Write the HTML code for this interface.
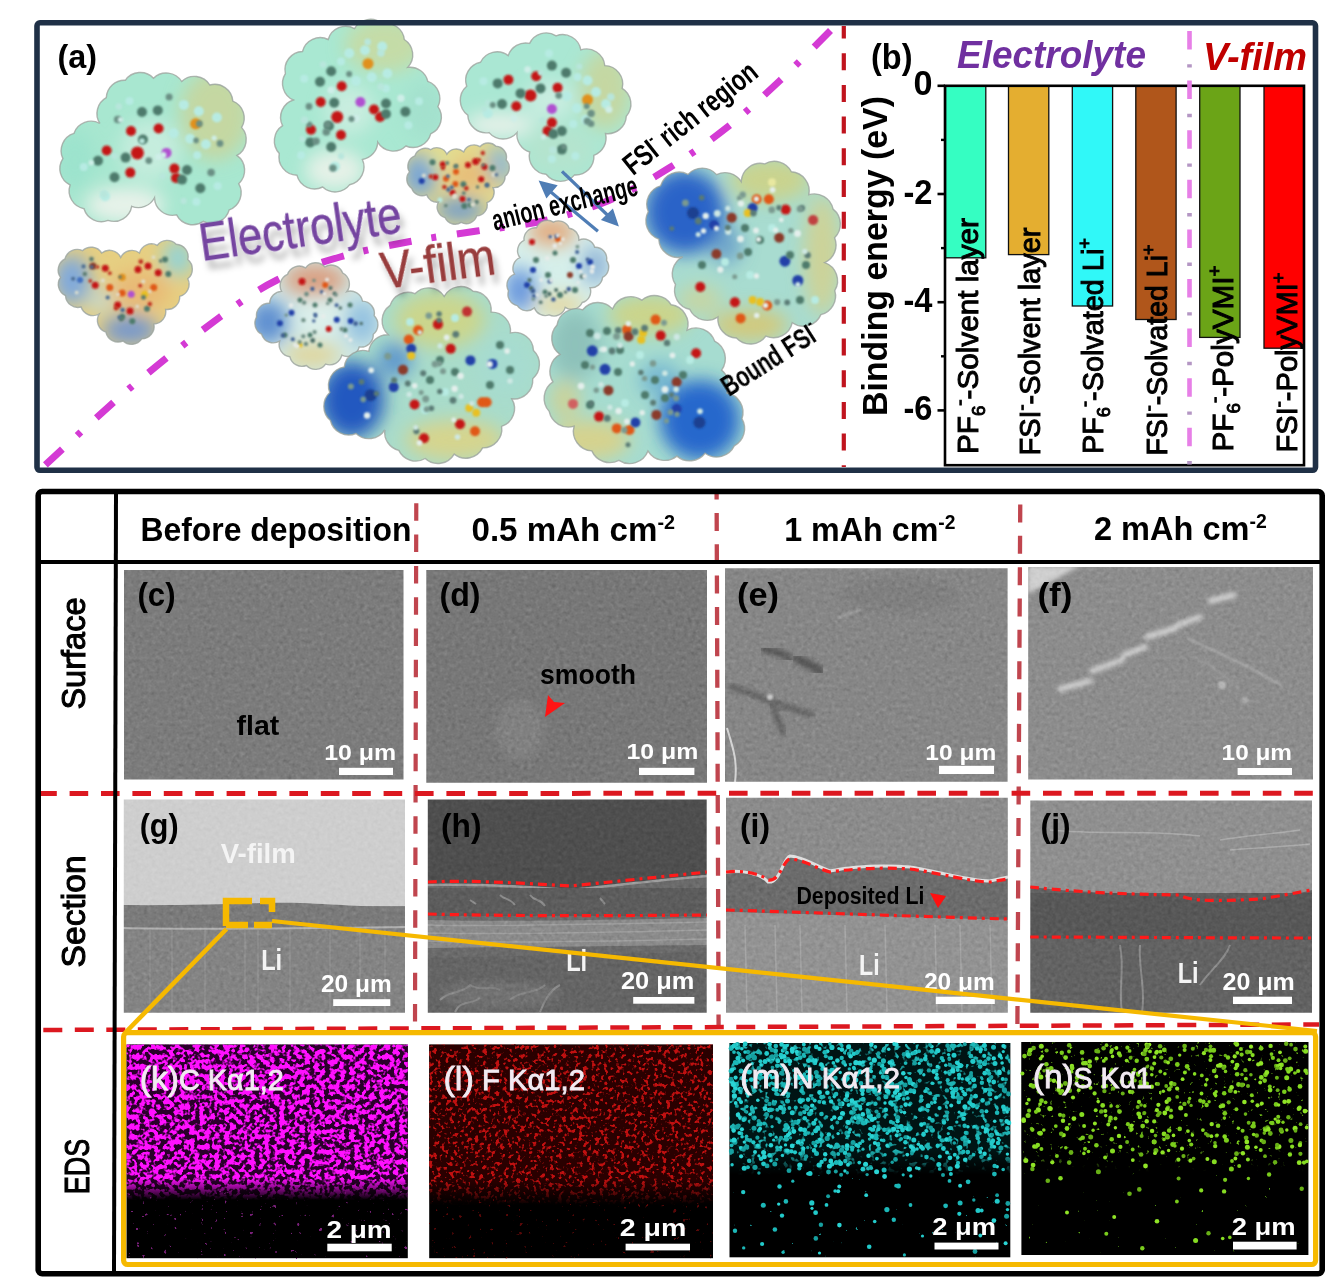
<!DOCTYPE html>
<html><head><meta charset="utf-8"><title>Figure</title>
<style>html,body{margin:0;padding:0;background:#fff;} body{width:1334px;height:1286px;overflow:hidden;} svg{display:block;}</style>
</head><body>
<svg width="1334" height="1286" viewBox="0 0 1334 1286">
<defs>
<filter id="bb" x="-50%" y="-50%" width="200%" height="200%"><feGaussianBlur stdDeviation="9"/></filter>
<filter id="bs" x="-50%" y="-50%" width="200%" height="200%"><feGaussianBlur stdDeviation="1.2"/></filter>
<radialGradient id="atomg" cx="0.38" cy="0.35" r="0.7"><stop offset="0" stop-color="#fff" stop-opacity="0.55"/><stop offset="0.45" stop-color="#fff" stop-opacity="0"/><stop offset="1" stop-color="#000" stop-opacity="0.25"/></radialGradient>
<radialGradient id="rim" cx="0.5" cy="0.5" r="0.5"><stop offset="0.7" stop-color="#fff" stop-opacity="0"/><stop offset="1" stop-color="#fff" stop-opacity="0.35"/></radialGradient>
<clipPath id="bcA"><path d="M106.3,97.7 A18.2,18.2 0 0 1 125.3,80.3 A18.2,18.2 0 0 1 153.5,78.2 A18.2,18.2 0 0 1 181.7,81.5 A18.2,18.2 0 0 1 209.8,85.0 A18.2,18.2 0 0 1 232.8,101.1 A18.2,18.2 0 0 1 241.6,127.4 A18.2,18.2 0 0 1 236.9,155.4 A18.2,18.2 0 0 1 238.7,183.7 A18.2,18.2 0 0 1 229.2,209.9 A18.2,18.2 0 0 1 203.4,221.3 A18.2,18.2 0 0 1 176.6,214.9 A18.2,18.2 0 0 1 154.5,197.7 A18.2,18.2 0 0 1 131.7,206.3 A18.2,18.2 0 0 1 108.0,220.4 A18.2,18.2 0 0 1 84.0,208.7 A18.2,18.2 0 0 1 70.1,185.0 A18.2,18.2 0 0 1 62.9,158.6 A18.2,18.2 0 0 1 73.9,133.4 A18.2,18.2 0 0 1 99.9,123.5 A18.2,18.2 0 0 1 106.3,97.7Z"/></clipPath>
<clipPath id="bcB"><path d="M328.2,39.5 A18.2,18.2 0 0 1 354.5,28.6 A18.2,18.2 0 0 1 382.3,23.8 A18.2,18.2 0 0 1 404.3,39.5 A18.2,18.2 0 0 1 407.7,67.4 A18.2,18.2 0 0 1 427.8,81.4 A18.2,18.2 0 0 1 437.9,106.7 A18.2,18.2 0 0 1 430.7,133.9 A18.2,18.2 0 0 1 405.9,146.0 A18.2,18.2 0 0 1 377.7,142.2 A18.2,18.2 0 0 1 362.4,159.5 A18.2,18.2 0 0 1 349.7,184.7 A18.2,18.2 0 0 1 322.7,187.0 A18.2,18.2 0 0 1 296.9,175.2 A18.2,18.2 0 0 1 279.3,153.4 A18.2,18.2 0 0 1 282.6,125.7 A18.2,18.2 0 0 1 293.3,100.0 A18.2,18.2 0 0 1 285.4,73.6 A18.2,18.2 0 0 1 302.5,51.5 A18.2,18.2 0 0 1 328.2,39.5Z"/></clipPath>
<clipPath id="bcC"><path d="M529.6,43.4 A18.4,18.4 0 0 1 556.1,35.8 A18.4,18.4 0 0 1 580.8,49.9 A18.4,18.4 0 0 1 604.8,65.6 A18.4,18.4 0 0 1 622.2,88.4 A18.4,18.4 0 0 1 626.3,116.2 A18.4,18.4 0 0 1 605.5,133.5 A18.4,18.4 0 0 1 593.9,155.3 A18.4,18.4 0 0 1 574.6,174.9 A18.4,18.4 0 0 1 546.1,174.3 A18.4,18.4 0 0 1 529.7,152.0 A18.4,18.4 0 0 1 517.0,132.6 A18.4,18.4 0 0 1 489.1,132.6 A18.4,18.4 0 0 1 467.8,115.1 A18.4,18.4 0 0 1 466.7,86.3 A18.4,18.4 0 0 1 480.5,62.2 A18.4,18.4 0 0 1 508.2,55.6 A18.4,18.4 0 0 1 529.6,43.4Z"/></clipPath>
<clipPath id="bcD"><path d="M414.8,155.9 A11.0,11.0 0 0 1 430.5,149.7 A11.0,11.0 0 0 1 446.9,154.2 A11.0,11.0 0 0 1 463.7,151.9 A11.0,11.0 0 0 1 480.0,146.7 A11.0,11.0 0 0 1 496.0,146.3 A11.0,11.0 0 0 1 506.2,160.0 A11.0,11.0 0 0 1 505.1,176.3 A11.0,11.0 0 0 1 493.1,187.6 A11.0,11.0 0 0 1 487.0,202.6 A11.0,11.0 0 0 1 476.8,215.9 A11.0,11.0 0 0 1 461.2,222.4 A11.0,11.0 0 0 1 445.1,217.7 A11.0,11.0 0 0 1 438.3,202.2 A11.0,11.0 0 0 1 426.6,194.8 A11.0,11.0 0 0 1 411.7,188.3 A11.0,11.0 0 0 1 409.5,171.9 A11.0,11.0 0 0 1 414.8,155.9Z"/></clipPath>
<clipPath id="bcE"><path d="M65.0,258.9 A12.5,12.5 0 0 1 82.5,250.7 A12.5,12.5 0 0 1 101.7,253.0 A12.5,12.5 0 0 1 120.7,257.4 A12.5,12.5 0 0 1 139.5,253.0 A12.5,12.5 0 0 1 157.3,245.3 A12.5,12.5 0 0 1 176.2,244.2 A12.5,12.5 0 0 1 187.8,259.5 A12.5,12.5 0 0 1 187.8,278.8 A12.5,12.5 0 0 1 179.7,296.4 A12.5,12.5 0 0 1 165.6,309.4 A12.5,12.5 0 0 1 153.9,324.1 A12.5,12.5 0 0 1 141.8,338.9 A12.5,12.5 0 0 1 123.0,341.0 A12.5,12.5 0 0 1 105.9,332.1 A12.5,12.5 0 0 1 99.1,314.0 A12.5,12.5 0 0 1 81.1,307.0 A12.5,12.5 0 0 1 65.5,295.7 A12.5,12.5 0 0 1 60.5,277.3 A12.5,12.5 0 0 1 65.0,258.9Z"/></clipPath>
<clipPath id="bcH"><path d="M536.5,227.8 A11.5,11.5 0 0 1 553.4,222.1 A11.5,11.5 0 0 1 569.2,228.2 A11.5,11.5 0 0 1 579.0,240.1 A11.5,11.5 0 0 1 594.7,247.3 A11.5,11.5 0 0 1 606.6,260.5 A11.5,11.5 0 0 1 602.6,277.3 A11.5,11.5 0 0 1 590.1,287.7 A11.5,11.5 0 0 1 582.2,302.5 A11.5,11.5 0 0 1 565.2,307.4 A11.5,11.5 0 0 1 549.1,314.9 A11.5,11.5 0 0 1 534.4,307.9 A11.5,11.5 0 0 1 517.3,305.6 A11.5,11.5 0 0 1 508.5,290.8 A11.5,11.5 0 0 1 514.5,274.2 A11.5,11.5 0 0 1 520.0,257.7 A11.5,11.5 0 0 1 524.0,240.3 A11.5,11.5 0 0 1 536.5,227.8Z"/></clipPath>
<clipPath id="bcF"><path d="M287.5,274.4 A12.4,12.4 0 0 1 305.6,267.9 A12.4,12.4 0 0 1 324.8,266.8 A12.4,12.4 0 0 1 342.7,273.0 A12.4,12.4 0 0 1 346.8,291.6 A12.4,12.4 0 0 1 362.5,301.1 A12.4,12.4 0 0 1 374.2,315.8 A12.4,12.4 0 0 1 373.3,334.3 A12.4,12.4 0 0 1 359.2,347.0 A12.4,12.4 0 0 1 341.8,355.2 A12.4,12.4 0 0 1 325.6,364.1 A12.4,12.4 0 0 1 306.4,365.5 A12.4,12.4 0 0 1 289.9,356.8 A12.4,12.4 0 0 1 279.6,341.2 A12.4,12.4 0 0 1 261.6,334.2 A12.4,12.4 0 0 1 256.5,317.1 A12.4,12.4 0 0 1 269.6,303.3 A12.4,12.4 0 0 1 281.5,291.4 A12.4,12.4 0 0 1 287.5,274.4Z"/></clipPath>
<clipPath id="bcI"><path d="M688.0,174.4 A19.2,19.2 0 0 1 716.6,174.6 A19.2,19.2 0 0 1 741.2,181.5 A19.2,19.2 0 0 1 764.8,163.9 A19.2,19.2 0 0 1 791.4,171.8 A19.2,19.2 0 0 1 808.8,194.7 A19.2,19.2 0 0 1 833.1,209.1 A19.2,19.2 0 0 1 834.6,237.8 A19.2,19.2 0 0 1 824.7,262.6 A19.2,19.2 0 0 1 834.8,290.6 A19.2,19.2 0 0 1 820.9,314.6 A19.2,19.2 0 0 1 792.3,322.7 A19.2,19.2 0 0 1 765.9,336.1 A19.2,19.2 0 0 1 736.4,338.0 A19.2,19.2 0 0 1 717.9,317.0 A19.2,19.2 0 0 1 689.7,309.3 A19.2,19.2 0 0 1 675.5,284.5 A19.2,19.2 0 0 1 682.7,256.8 A19.2,19.2 0 0 1 658.8,239.1 A19.2,19.2 0 0 1 648.3,211.7 A19.2,19.2 0 0 1 660.6,185.8 A19.2,19.2 0 0 1 688.0,174.4Z"/></clipPath>
<clipPath id="bcJ"><path d="M557.0,325.1 A19.6,19.6 0 0 1 582.7,309.8 A19.6,19.6 0 0 1 612.5,308.9 A19.6,19.6 0 0 1 641.8,300.2 A19.6,19.6 0 0 1 671.2,304.8 A19.6,19.6 0 0 1 687.1,330.1 A19.6,19.6 0 0 1 714.6,341.1 A19.6,19.6 0 0 1 721.6,370.1 A19.6,19.6 0 0 1 726.9,393.0 A19.6,19.6 0 0 1 741.9,418.7 A19.6,19.6 0 0 1 734.4,445.8 A19.6,19.6 0 0 1 705.1,453.2 A19.6,19.6 0 0 1 676.9,456.1 A19.6,19.6 0 0 1 648.0,451.1 A19.6,19.6 0 0 1 618.9,460.3 A19.6,19.6 0 0 1 591.8,450.9 A19.6,19.6 0 0 1 574.1,426.2 A19.6,19.6 0 0 1 549.2,411.4 A19.6,19.6 0 0 1 552.9,381.9 A19.6,19.6 0 0 1 560.0,354.4 A19.6,19.6 0 0 1 557.0,325.1Z"/></clipPath>
<clipPath id="bcG"><path d="M390.1,305.4 A18.8,18.8 0 0 1 414.9,293.7 A18.8,18.8 0 0 1 444.2,296.3 A18.8,18.8 0 0 1 473.1,291.3 A18.8,18.8 0 0 1 491.1,312.1 A18.8,18.8 0 0 1 510.4,332.9 A18.8,18.8 0 0 1 533.5,350.6 A18.8,18.8 0 0 1 532.7,378.7 A18.8,18.8 0 0 1 511.8,398.8 A18.8,18.8 0 0 1 501.6,426.4 A18.8,18.8 0 0 1 482.6,447.9 A18.8,18.8 0 0 1 454.2,454.1 A18.8,18.8 0 0 1 425.2,458.5 A18.8,18.8 0 0 1 398.8,450.4 A18.8,18.8 0 0 1 384.8,429.8 A18.8,18.8 0 0 1 356.0,433.5 A18.8,18.8 0 0 1 330.4,420.5 A18.8,18.8 0 0 1 329.8,392.5 A18.8,18.8 0 0 1 344.3,367.0 A18.8,18.8 0 0 1 368.8,351.4 A18.8,18.8 0 0 1 388.3,334.7 A18.8,18.8 0 0 1 390.1,305.4Z"/></clipPath>
<filter id="tsh" x="-20%" y="-50%" width="140%" height="200%"><feGaussianBlur in="SourceAlpha" stdDeviation="3"/><feOffset dx="3" dy="9" result="o"/><feFlood flood-color="#000" flood-opacity="0.28"/><feComposite in2="o" operator="in"/><feMerge><feMergeNode/><feMergeNode in="SourceGraphic"/></feMerge></filter>
<filter id="gnoise" x="0" y="0" width="100%" height="100%" color-interpolation-filters="sRGB"><feTurbulence type="fractalNoise" baseFrequency="0.25" numOctaves="3" seed="4"/><feColorMatrix type="matrix" values="0.6 0.6 0.6 0 -0.4  0.6 0.6 0.6 0 -0.4  0.6 0.6 0.6 0 -0.4  0 0 0 0 1"/></filter>
<filter id="blur2"><feGaussianBlur stdDeviation="2"/></filter>
<filter id="blur1"><feGaussianBlur stdDeviation="1"/></filter>
<filter id="blur4"><feGaussianBlur stdDeviation="4"/></filter>
<filter id="blur3"><feGaussianBlur stdDeviation="2.8"/></filter>
<clipPath id="cc"><rect x="124" y="570" width="279.5" height="209.5"/></clipPath>
<clipPath id="cd"><rect x="426.3" y="570" width="280.7" height="212.7"/></clipPath>
<clipPath id="ce"><rect x="725" y="568.2" width="282.6" height="213.6"/></clipPath>
<clipPath id="cf"><rect x="1028.2" y="566.9" width="284.8" height="212.6"/></clipPath>
<clipPath id="cg"><rect x="123.8" y="799.5" width="281.2" height="213.2"/></clipPath>
<clipPath id="ch"><rect x="427.8" y="799.5" width="278.9" height="213.2"/></clipPath>
<clipPath id="ci"><rect x="726" y="797.7" width="281.8" height="215.0"/></clipPath>
<clipPath id="cj"><rect x="1030.3" y="800.5" width="281.7" height="212.2"/></clipPath>
<filter id="spk" x="0" y="0" width="100%" height="100%" color-interpolation-filters="sRGB"><feTurbulence type="fractalNoise" baseFrequency="0.2" numOctaves="2" seed="11" result="t"/><feColorMatrix in="t" type="matrix" values="0 0 0 0 0  0 0 0 0 0  0 0 0 0 0  8 0 0 0 -3.5" result="a"/><feFlood flood-color="#ff10ff" result="f"/><feComposite in="f" in2="a" operator="in"/><feGaussianBlur stdDeviation="0.6"/></filter>
<filter id="ssk" x="0" y="0" width="100%" height="100%" color-interpolation-filters="sRGB"><feTurbulence type="fractalNoise" baseFrequency="0.22" numOctaves="2" seed="31" result="t"/><feColorMatrix in="t" type="matrix" values="0 0 0 0 0  0 0 0 0 0  0 0 0 0 0  16 0 0 0 -11.6" result="a"/><feFlood flood-color="#782078" result="f"/><feComposite in="f" in2="a" operator="in"/></filter>
<linearGradient id="fadek" gradientUnits="userSpaceOnUse" x1="0" y1="1044.5" x2="0" y2="1258.2"><stop offset="0" stop-color="#fff"/><stop offset="0.625" stop-color="#fff"/><stop offset="0.728" stop-color="#000"/><stop offset="1" stop-color="#000"/></linearGradient>
<mask id="mkk"><rect x="126.5" y="1044.5" width="281.3" height="213.7" fill="url(#fadek)"/></mask>
<filter id="spl" x="0" y="0" width="100%" height="100%" color-interpolation-filters="sRGB"><feTurbulence type="fractalNoise" baseFrequency="0.24" numOctaves="2" seed="12" result="t"/><feColorMatrix in="t" type="matrix" values="0 0 0 0 0  0 0 0 0 0  0 0 0 0 0  8 0 0 0 -4.35" result="a"/><feFlood flood-color="#c01010" result="f"/><feComposite in="f" in2="a" operator="in"/><feGaussianBlur stdDeviation="0.6"/></filter>
<filter id="ssl" x="0" y="0" width="100%" height="100%" color-interpolation-filters="sRGB"><feTurbulence type="fractalNoise" baseFrequency="0.22" numOctaves="2" seed="32" result="t"/><feColorMatrix in="t" type="matrix" values="0 0 0 0 0  0 0 0 0 0  0 0 0 0 0  16 0 0 0 -11.6" result="a"/><feFlood flood-color="#580808" result="f"/><feComposite in="f" in2="a" operator="in"/></filter>
<linearGradient id="fadel" gradientUnits="userSpaceOnUse" x1="0" y1="1044.5" x2="0" y2="1258.2"><stop offset="0" stop-color="#fff"/><stop offset="0.634" stop-color="#fff"/><stop offset="0.751" stop-color="#000"/><stop offset="1" stop-color="#000"/></linearGradient>
<mask id="mkl"><rect x="429.2" y="1044.5" width="283.8" height="213.7" fill="url(#fadel)"/></mask>
<filter id="spm" x="0" y="0" width="100%" height="100%" color-interpolation-filters="sRGB"><feTurbulence type="fractalNoise" baseFrequency="0.16" numOctaves="2" seed="13" result="t"/><feColorMatrix in="t" type="matrix" values="0 0 0 0 0  0 0 0 0 0  0 0 0 0 0  8 0 0 0 -4.6" result="a"/><feFlood flood-color="#1fb4b4" result="f"/><feComposite in="f" in2="a" operator="in"/><feGaussianBlur stdDeviation="0.6"/></filter>
<filter id="ssm" x="0" y="0" width="100%" height="100%" color-interpolation-filters="sRGB"><feTurbulence type="fractalNoise" baseFrequency="0.22" numOctaves="2" seed="33" result="t"/><feColorMatrix in="t" type="matrix" values="0 0 0 0 0  0 0 0 0 0  0 0 0 0 0  16 0 0 0 -13.0" result="a"/><feFlood flood-color="#1ca8a8" result="f"/><feComposite in="f" in2="a" operator="in"/></filter>
<linearGradient id="fadem" gradientUnits="userSpaceOnUse" x1="0" y1="1043.0" x2="0" y2="1257.3"><stop offset="0" stop-color="#fff"/><stop offset="0.499" stop-color="#fff"/><stop offset="0.616" stop-color="#000"/><stop offset="1" stop-color="#000"/></linearGradient>
<mask id="mkm"><rect x="729.5" y="1043.0" width="280.8" height="214.3" fill="url(#fadem)"/></mask>
<filter id="spn" x="0" y="0" width="100%" height="100%" color-interpolation-filters="sRGB"><feTurbulence type="fractalNoise" baseFrequency="0.22" numOctaves="2" seed="14" result="t"/><feColorMatrix in="t" type="matrix" values="0 0 0 0 0  0 0 0 0 0  0 0 0 0 0  8 0 0 0 -5.6" result="a"/><feFlood flood-color="#78c81c" result="f"/><feComposite in="f" in2="a" operator="in"/><feGaussianBlur stdDeviation="0.6"/></filter>
<filter id="ssn" x="0" y="0" width="100%" height="100%" color-interpolation-filters="sRGB"><feTurbulence type="fractalNoise" baseFrequency="0.22" numOctaves="2" seed="34" result="t"/><feColorMatrix in="t" type="matrix" values="0 0 0 0 0  0 0 0 0 0  0 0 0 0 0  16 0 0 0 -13.0" result="a"/><feFlood flood-color="#60b018" result="f"/><feComposite in="f" in2="a" operator="in"/></filter>
<linearGradient id="faden" gradientUnits="userSpaceOnUse" x1="0" y1="1042.0" x2="0" y2="1255.0"><stop offset="0" stop-color="#fff"/><stop offset="0.484" stop-color="#fff"/><stop offset="0.610" stop-color="#000"/><stop offset="1" stop-color="#000"/></linearGradient>
<mask id="mkn"><rect x="1021.4" y="1042.0" width="287.0" height="213.0" fill="url(#faden)"/></mask>
<filter id="blur05"><feGaussianBlur stdDeviation="0.6"/></filter>
</defs>
<rect width="1334" height="1286" fill="#fff"/>
<path d="M42.0,468.0 C56.7,454.7 100.3,413.2 130.0,388.0 C159.7,362.8 195.5,335.0 220.0,317.0 C244.5,299.0 257.0,290.0 277.0,280.0 C297.0,270.0 317.8,263.4 340.0,257.0 C362.2,250.6 387.2,245.8 410.0,241.5 C432.8,237.2 454.5,234.5 477.0,231.0 C499.5,227.5 522.8,225.7 545.0,220.5 C567.2,215.3 589.0,208.9 610.0,200.0 C631.0,191.1 651.4,179.0 671.0,166.8 C690.6,154.6 709.3,141.4 727.5,127.0 C745.7,112.6 762.6,96.8 780.0,80.5 C797.4,64.2 823.3,37.6 832.0,29.0" fill="none" stroke="#d43ad4" stroke-width="7" stroke-dasharray="23 20 5 21" stroke-dashoffset="64"/>
<g clip-path="url(#bcA)"><path d="M106.3,97.7 A18.2,18.2 0 0 1 125.3,80.3 A18.2,18.2 0 0 1 153.5,78.2 A18.2,18.2 0 0 1 181.7,81.5 A18.2,18.2 0 0 1 209.8,85.0 A18.2,18.2 0 0 1 232.8,101.1 A18.2,18.2 0 0 1 241.6,127.4 A18.2,18.2 0 0 1 236.9,155.4 A18.2,18.2 0 0 1 238.7,183.7 A18.2,18.2 0 0 1 229.2,209.9 A18.2,18.2 0 0 1 203.4,221.3 A18.2,18.2 0 0 1 176.6,214.9 A18.2,18.2 0 0 1 154.5,197.7 A18.2,18.2 0 0 1 131.7,206.3 A18.2,18.2 0 0 1 108.0,220.4 A18.2,18.2 0 0 1 84.0,208.7 A18.2,18.2 0 0 1 70.1,185.0 A18.2,18.2 0 0 1 62.9,158.6 A18.2,18.2 0 0 1 73.9,133.4 A18.2,18.2 0 0 1 99.9,123.5 A18.2,18.2 0 0 1 106.3,97.7Z" fill="#a8e7d0"/><g filter="url(#bb)"><ellipse cx="215" cy="115" rx="35" ry="45" fill="#c8d59c" opacity="0.9"/><ellipse cx="125" cy="205" rx="40" ry="18" fill="#eef3ec" opacity="0.9"/><ellipse cx="150" cy="150" rx="30" ry="30" fill="#d2efe2" opacity="0.7"/><ellipse cx="75" cy="160" rx="18" ry="30" fill="#98e2cc" opacity="0.8"/></g><circle cx="131" cy="131" r="5" fill="#c41414" filter="url(#bs)"/><circle cx="158.6" cy="128.5" r="5" fill="#c41414" filter="url(#bs)"/><circle cx="106.7" cy="150.5" r="5" fill="#c41414" filter="url(#bs)"/><circle cx="137.4" cy="152.9" r="6.5" fill="#c41414" filter="url(#bs)"/><circle cx="130.3" cy="172.6" r="5" fill="#c41414" filter="url(#bs)"/><circle cx="174.4" cy="168.6" r="5" fill="#c41414" filter="url(#bs)"/><circle cx="176" cy="178" r="5" fill="#c41414" filter="url(#bs)"/><circle cx="142" cy="112" r="5" fill="#4d7a6c" filter="url(#bs)"/><circle cx="157.8" cy="110.4" r="5" fill="#4d7a6c" filter="url(#bs)"/><circle cx="142.9" cy="139.5" r="5" fill="#4d7a6c" filter="url(#bs)"/><circle cx="125.6" cy="157.6" r="5" fill="#4d7a6c" filter="url(#bs)"/><circle cx="98" cy="160.8" r="5" fill="#4d7a6c" filter="url(#bs)"/><circle cx="114.5" cy="177.3" r="5" fill="#4d7a6c" filter="url(#bs)"/><circle cx="187" cy="170" r="5" fill="#4d7a6c" filter="url(#bs)"/><circle cx="182" cy="179.6" r="5" fill="#4d7a6c" filter="url(#bs)"/><circle cx="200.3" cy="188.3" r="5" fill="#4d7a6c" filter="url(#bs)"/><circle cx="183.8" cy="104.9" r="5" fill="#b7ebe3" filter="url(#bs)"/><circle cx="198.8" cy="111.2" r="5" fill="#b7ebe3" filter="url(#bs)"/><circle cx="216.9" cy="117.5" r="5" fill="#b7ebe3" filter="url(#bs)"/><circle cx="173.6" cy="133.2" r="5" fill="#b7ebe3" filter="url(#bs)"/><circle cx="190.1" cy="138.7" r="5" fill="#b7ebe3" filter="url(#bs)"/><circle cx="205.9" cy="144.2" r="5" fill="#b7ebe3" filter="url(#bs)"/><circle cx="197.2" cy="155.2" r="4" fill="#b7ebe3" filter="url(#bs)"/><circle cx="105.1" cy="196.2" r="5" fill="#b7ebe3" filter="url(#bs)"/><circle cx="217.7" cy="186" r="4" fill="#b7ebe3" filter="url(#bs)"/><circle cx="83.8" cy="167" r="4" fill="#b7ebe3" filter="url(#bs)"/><circle cx="129.5" cy="101" r="4" fill="#b7ebe3" filter="url(#bs)"/><circle cx="196.4" cy="201.7" r="4" fill="#b7ebe3" filter="url(#bs)"/><circle cx="195.6" cy="123.8" r="5.5" fill="#e0901c" filter="url(#bs)"/><circle cx="166.5" cy="152.9" r="5" fill="#b050d0" filter="url(#bs)"/><circle cx="114.6" cy="156.2" r="3.1" fill="#b8e6dc" filter="url(#bs)"/><circle cx="148.8" cy="160.6" r="3.4" fill="#6a8f84" filter="url(#bs)"/><circle cx="117.7" cy="119.5" r="3.8" fill="#6a8f84" filter="url(#bs)"/><circle cx="158.5" cy="156.9" r="3.1" fill="#cfeee8" filter="url(#bs)"/><circle cx="214.2" cy="138.0" r="2.6" fill="#cfeee8" filter="url(#bs)"/><circle cx="199.4" cy="123.7" r="3.4" fill="#6a8f84" filter="url(#bs)"/><circle cx="183.6" cy="200.9" r="3.1" fill="#b8e6dc" filter="url(#bs)"/><circle cx="220.0" cy="143.4" r="3.4" fill="#6a8f84" filter="url(#bs)"/><circle cx="163.3" cy="155.0" r="3.1" fill="#cfeee8" filter="url(#bs)"/><circle cx="211.1" cy="172.5" r="3.8" fill="#6a8f84" filter="url(#bs)"/><circle cx="103.8" cy="193.7" r="3.8" fill="#b8e6dc" filter="url(#bs)"/><circle cx="162.6" cy="176.3" r="2.9" fill="#b8e6dc" filter="url(#bs)"/><circle cx="118.8" cy="106.5" r="3.2" fill="#b8e6dc" filter="url(#bs)"/><circle cx="196.1" cy="140.4" r="2.8" fill="#6a8f84" filter="url(#bs)"/><circle cx="142.0" cy="141.0" r="2.8" fill="#b8e6dc" filter="url(#bs)"/><circle cx="169.1" cy="97.1" r="3.5" fill="#6a8f84" filter="url(#bs)"/><circle cx="120.6" cy="119.7" r="2.7" fill="#cfeee8" filter="url(#bs)"/><circle cx="91.3" cy="162.8" r="2.7" fill="#cfeee8" filter="url(#bs)"/></g>
<path d="M106.3,97.7 A18.2,18.2 0 0 1 125.3,80.3 A18.2,18.2 0 0 1 153.5,78.2 A18.2,18.2 0 0 1 181.7,81.5 A18.2,18.2 0 0 1 209.8,85.0 A18.2,18.2 0 0 1 232.8,101.1 A18.2,18.2 0 0 1 241.6,127.4 A18.2,18.2 0 0 1 236.9,155.4 A18.2,18.2 0 0 1 238.7,183.7 A18.2,18.2 0 0 1 229.2,209.9 A18.2,18.2 0 0 1 203.4,221.3 A18.2,18.2 0 0 1 176.6,214.9 A18.2,18.2 0 0 1 154.5,197.7 A18.2,18.2 0 0 1 131.7,206.3 A18.2,18.2 0 0 1 108.0,220.4 A18.2,18.2 0 0 1 84.0,208.7 A18.2,18.2 0 0 1 70.1,185.0 A18.2,18.2 0 0 1 62.9,158.6 A18.2,18.2 0 0 1 73.9,133.4 A18.2,18.2 0 0 1 99.9,123.5 A18.2,18.2 0 0 1 106.3,97.7Z" fill="none" stroke="#9aa39c" stroke-width="1.4" opacity="0.8"/>
<g clip-path="url(#bcB)"><path d="M328.2,39.5 A18.2,18.2 0 0 1 354.5,28.6 A18.2,18.2 0 0 1 382.3,23.8 A18.2,18.2 0 0 1 404.3,39.5 A18.2,18.2 0 0 1 407.7,67.4 A18.2,18.2 0 0 1 427.8,81.4 A18.2,18.2 0 0 1 437.9,106.7 A18.2,18.2 0 0 1 430.7,133.9 A18.2,18.2 0 0 1 405.9,146.0 A18.2,18.2 0 0 1 377.7,142.2 A18.2,18.2 0 0 1 362.4,159.5 A18.2,18.2 0 0 1 349.7,184.7 A18.2,18.2 0 0 1 322.7,187.0 A18.2,18.2 0 0 1 296.9,175.2 A18.2,18.2 0 0 1 279.3,153.4 A18.2,18.2 0 0 1 282.6,125.7 A18.2,18.2 0 0 1 293.3,100.0 A18.2,18.2 0 0 1 285.4,73.6 A18.2,18.2 0 0 1 302.5,51.5 A18.2,18.2 0 0 1 328.2,39.5Z" fill="#a9e8d2"/><g filter="url(#bb)"><ellipse cx="385" cy="45" rx="40" ry="28" fill="#c9d9a0" opacity="0.85"/><ellipse cx="335" cy="170" rx="30" ry="20" fill="#ecf2ea" opacity="0.9"/><ellipse cx="350" cy="110" rx="25" ry="25" fill="#d6efe4" opacity="0.7"/><ellipse cx="425" cy="110" rx="20" ry="30" fill="#a3dfcc" opacity="0.8"/></g><circle cx="341.7" cy="86.2" r="5" fill="#c41414" filter="url(#bs)"/><circle cx="320.7" cy="102" r="5" fill="#c41414" filter="url(#bs)"/><circle cx="337.2" cy="117" r="6" fill="#c41414" filter="url(#bs)"/><circle cx="311" cy="129.7" r="5" fill="#c41414" filter="url(#bs)"/><circle cx="341" cy="135" r="5" fill="#c41414" filter="url(#bs)"/><circle cx="374" cy="109.5" r="5" fill="#c41414" filter="url(#bs)"/><circle cx="380" cy="117" r="5" fill="#c41414" filter="url(#bs)"/><circle cx="331.2" cy="71.2" r="5" fill="#4d7a6c" filter="url(#bs)"/><circle cx="320" cy="81.7" r="5" fill="#4d7a6c" filter="url(#bs)"/><circle cx="334.2" cy="102.7" r="5" fill="#4d7a6c" filter="url(#bs)"/><circle cx="329" cy="126" r="5" fill="#4d7a6c" filter="url(#bs)"/><circle cx="310.2" cy="142.4" r="5" fill="#4d7a6c" filter="url(#bs)"/><circle cx="331.2" cy="147" r="5" fill="#4d7a6c" filter="url(#bs)"/><circle cx="386" cy="103.5" r="5" fill="#4d7a6c" filter="url(#bs)"/><circle cx="386" cy="114" r="5" fill="#4d7a6c" filter="url(#bs)"/><circle cx="405.4" cy="111.7" r="5" fill="#4d7a6c" filter="url(#bs)"/><circle cx="349.2" cy="53.2" r="5" fill="#b7ebe3" filter="url(#bs)"/><circle cx="365" cy="50.2" r="5" fill="#b7ebe3" filter="url(#bs)"/><circle cx="382.2" cy="46.5" r="5" fill="#b7ebe3" filter="url(#bs)"/><circle cx="356" cy="81" r="5" fill="#b7ebe3" filter="url(#bs)"/><circle cx="371.7" cy="77.2" r="5" fill="#b7ebe3" filter="url(#bs)"/><circle cx="387.4" cy="73.5" r="5" fill="#b7ebe3" filter="url(#bs)"/><circle cx="386" cy="88.5" r="4" fill="#b7ebe3" filter="url(#bs)"/><circle cx="304.2" cy="78.7" r="4" fill="#b7ebe3" filter="url(#bs)"/><circle cx="419" cy="101.2" r="4" fill="#b7ebe3" filter="url(#bs)"/><circle cx="408.4" cy="125.2" r="4" fill="#b7ebe3" filter="url(#bs)"/><circle cx="335" cy="166.4" r="5" fill="#b7ebe3" filter="url(#bs)"/><circle cx="301.2" cy="155.2" r="4" fill="#b7ebe3" filter="url(#bs)"/><circle cx="341" cy="61.5" r="4" fill="#b7ebe3" filter="url(#bs)"/><circle cx="368" cy="63.7" r="5.5" fill="#e0901c" filter="url(#bs)"/><circle cx="360.4" cy="102" r="5" fill="#b050d0" filter="url(#bs)"/><circle cx="326.3" cy="132.0" r="3.8" fill="#6a8f84" filter="url(#bs)"/><circle cx="332.9" cy="168.1" r="3.7" fill="#6a8f84" filter="url(#bs)"/><circle cx="341.1" cy="156.2" r="3.1" fill="#b8e6dc" filter="url(#bs)"/><circle cx="380.9" cy="53.1" r="3.8" fill="#b8e6dc" filter="url(#bs)"/><circle cx="327.3" cy="124.5" r="3.5" fill="#6a8f84" filter="url(#bs)"/><circle cx="349.1" cy="74.0" r="3.0" fill="#6a8f84" filter="url(#bs)"/><circle cx="367.7" cy="42.0" r="3.4" fill="#b8e6dc" filter="url(#bs)"/><circle cx="309.3" cy="124.4" r="3.0" fill="#6a8f84" filter="url(#bs)"/><circle cx="380.7" cy="86.7" r="3.5" fill="#b8e6dc" filter="url(#bs)"/><circle cx="355.9" cy="118.5" r="3.8" fill="#cfeee8" filter="url(#bs)"/><circle cx="351.5" cy="118.9" r="3.0" fill="#6a8f84" filter="url(#bs)"/><circle cx="316.1" cy="141.2" r="3.7" fill="#6a8f84" filter="url(#bs)"/><circle cx="331.1" cy="90.0" r="3.6" fill="#cfeee8" filter="url(#bs)"/><circle cx="309.0" cy="106.5" r="3.4" fill="#6a8f84" filter="url(#bs)"/><circle cx="323.1" cy="64.5" r="3.2" fill="#b8e6dc" filter="url(#bs)"/><circle cx="304.5" cy="120.0" r="3.8" fill="#b8e6dc" filter="url(#bs)"/><circle cx="400.9" cy="98.2" r="3.7" fill="#cfeee8" filter="url(#bs)"/><circle cx="302.3" cy="139.0" r="2.9" fill="#b8e6dc" filter="url(#bs)"/></g>
<path d="M328.2,39.5 A18.2,18.2 0 0 1 354.5,28.6 A18.2,18.2 0 0 1 382.3,23.8 A18.2,18.2 0 0 1 404.3,39.5 A18.2,18.2 0 0 1 407.7,67.4 A18.2,18.2 0 0 1 427.8,81.4 A18.2,18.2 0 0 1 437.9,106.7 A18.2,18.2 0 0 1 430.7,133.9 A18.2,18.2 0 0 1 405.9,146.0 A18.2,18.2 0 0 1 377.7,142.2 A18.2,18.2 0 0 1 362.4,159.5 A18.2,18.2 0 0 1 349.7,184.7 A18.2,18.2 0 0 1 322.7,187.0 A18.2,18.2 0 0 1 296.9,175.2 A18.2,18.2 0 0 1 279.3,153.4 A18.2,18.2 0 0 1 282.6,125.7 A18.2,18.2 0 0 1 293.3,100.0 A18.2,18.2 0 0 1 285.4,73.6 A18.2,18.2 0 0 1 302.5,51.5 A18.2,18.2 0 0 1 328.2,39.5Z" fill="none" stroke="#9aa39c" stroke-width="1.4" opacity="0.8"/>
<g clip-path="url(#bcC)"><path d="M529.6,43.4 A18.4,18.4 0 0 1 556.1,35.8 A18.4,18.4 0 0 1 580.8,49.9 A18.4,18.4 0 0 1 604.8,65.6 A18.4,18.4 0 0 1 622.2,88.4 A18.4,18.4 0 0 1 626.3,116.2 A18.4,18.4 0 0 1 605.5,133.5 A18.4,18.4 0 0 1 593.9,155.3 A18.4,18.4 0 0 1 574.6,174.9 A18.4,18.4 0 0 1 546.1,174.3 A18.4,18.4 0 0 1 529.7,152.0 A18.4,18.4 0 0 1 517.0,132.6 A18.4,18.4 0 0 1 489.1,132.6 A18.4,18.4 0 0 1 467.8,115.1 A18.4,18.4 0 0 1 466.7,86.3 A18.4,18.4 0 0 1 480.5,62.2 A18.4,18.4 0 0 1 508.2,55.6 A18.4,18.4 0 0 1 529.6,43.4Z" fill="#aae7d3"/><g filter="url(#bb)"><ellipse cx="605" cy="90" rx="25" ry="40" fill="#c9d59a" opacity="0.85"/><ellipse cx="500" cy="125" rx="35" ry="12" fill="#eef2ec" opacity="0.9"/><ellipse cx="560" cy="150" rx="35" ry="25" fill="#b8e2cc" opacity="0.7"/><ellipse cx="550" cy="100" rx="25" ry="20" fill="#d6efe6" opacity="0.7"/></g><circle cx="508.4" cy="79.8" r="5" fill="#c41414" filter="url(#bs)"/><circle cx="536.2" cy="76.3" r="5" fill="#c41414" filter="url(#bs)"/><circle cx="557.6" cy="87.7" r="5" fill="#c41414" filter="url(#bs)"/><circle cx="530.5" cy="95.5" r="6" fill="#c41414" filter="url(#bs)"/><circle cx="516.3" cy="106.2" r="5" fill="#c41414" filter="url(#bs)"/><circle cx="551.9" cy="122.6" r="5" fill="#c41414" filter="url(#bs)"/><circle cx="547.6" cy="131.1" r="5" fill="#c41414" filter="url(#bs)"/><circle cx="497.7" cy="83.4" r="5" fill="#4d7a6c" filter="url(#bs)"/><circle cx="551.9" cy="65.6" r="5" fill="#4d7a6c" filter="url(#bs)"/><circle cx="566.1" cy="72.7" r="5" fill="#4d7a6c" filter="url(#bs)"/><circle cx="520.5" cy="93.4" r="5" fill="#4d7a6c" filter="url(#bs)"/><circle cx="540.5" cy="88.4" r="5" fill="#4d7a6c" filter="url(#bs)"/><circle cx="502" cy="104" r="5" fill="#4d7a6c" filter="url(#bs)"/><circle cx="553.3" cy="134" r="5" fill="#4d7a6c" filter="url(#bs)"/><circle cx="561.8" cy="131.1" r="5" fill="#4d7a6c" filter="url(#bs)"/><circle cx="561.8" cy="149.6" r="5" fill="#4d7a6c" filter="url(#bs)"/><circle cx="483.5" cy="81.3" r="4" fill="#b7ebe3" filter="url(#bs)"/><circle cx="487.8" cy="113.3" r="5" fill="#b7ebe3" filter="url(#bs)"/><circle cx="587.5" cy="80.5" r="5" fill="#b7ebe3" filter="url(#bs)"/><circle cx="596" cy="92" r="5" fill="#b7ebe3" filter="url(#bs)"/><circle cx="566.8" cy="96.2" r="5" fill="#b7ebe3" filter="url(#bs)"/><circle cx="576.8" cy="108.3" r="5" fill="#b7ebe3" filter="url(#bs)"/><circle cx="586" cy="119.7" r="5" fill="#b7ebe3" filter="url(#bs)"/><circle cx="573.2" cy="124" r="4" fill="#b7ebe3" filter="url(#bs)"/><circle cx="606" cy="104" r="5" fill="#b7ebe3" filter="url(#bs)"/><circle cx="549" cy="53.5" r="4" fill="#b7ebe3" filter="url(#bs)"/><circle cx="577.5" cy="77" r="4" fill="#b7ebe3" filter="url(#bs)"/><circle cx="551.9" cy="158.9" r="4" fill="#b7ebe3" filter="url(#bs)"/><circle cx="575.4" cy="156" r="4" fill="#b7ebe3" filter="url(#bs)"/><circle cx="587.5" cy="99.8" r="5.5" fill="#e0901c" filter="url(#bs)"/><circle cx="551.9" cy="109" r="5" fill="#b050d0" filter="url(#bs)"/><circle cx="540.6" cy="72.8" r="2.8" fill="#b8e6dc" filter="url(#bs)"/><circle cx="591.1" cy="113.4" r="3.7" fill="#6a8f84" filter="url(#bs)"/><circle cx="587.3" cy="121.2" r="3.6" fill="#6a8f84" filter="url(#bs)"/><circle cx="558.7" cy="95.6" r="3.3" fill="#6a8f84" filter="url(#bs)"/><circle cx="542.4" cy="120.3" r="3.0" fill="#b8e6dc" filter="url(#bs)"/><circle cx="610.8" cy="97.1" r="3.8" fill="#b8e6dc" filter="url(#bs)"/><circle cx="591.1" cy="123.7" r="3.3" fill="#6a8f84" filter="url(#bs)"/><circle cx="552.8" cy="150.0" r="3.7" fill="#b8e6dc" filter="url(#bs)"/><circle cx="586.7" cy="106.2" r="2.9" fill="#6a8f84" filter="url(#bs)"/><circle cx="579.2" cy="66.6" r="3.0" fill="#b8e6dc" filter="url(#bs)"/><circle cx="484.1" cy="109.0" r="2.7" fill="#b8e6dc" filter="url(#bs)"/><circle cx="608.9" cy="109.5" r="3.6" fill="#cfeee8" filter="url(#bs)"/><circle cx="527.6" cy="69.6" r="3.3" fill="#cfeee8" filter="url(#bs)"/><circle cx="563.9" cy="146.8" r="2.7" fill="#6a8f84" filter="url(#bs)"/><circle cx="514.0" cy="118.4" r="3.3" fill="#cfeee8" filter="url(#bs)"/><circle cx="543.5" cy="136.8" r="2.6" fill="#cfeee8" filter="url(#bs)"/><circle cx="488.0" cy="102.7" r="2.7" fill="#b8e6dc" filter="url(#bs)"/><circle cx="492.8" cy="105.0" r="3.0" fill="#6a8f84" filter="url(#bs)"/></g>
<path d="M529.6,43.4 A18.4,18.4 0 0 1 556.1,35.8 A18.4,18.4 0 0 1 580.8,49.9 A18.4,18.4 0 0 1 604.8,65.6 A18.4,18.4 0 0 1 622.2,88.4 A18.4,18.4 0 0 1 626.3,116.2 A18.4,18.4 0 0 1 605.5,133.5 A18.4,18.4 0 0 1 593.9,155.3 A18.4,18.4 0 0 1 574.6,174.9 A18.4,18.4 0 0 1 546.1,174.3 A18.4,18.4 0 0 1 529.7,152.0 A18.4,18.4 0 0 1 517.0,132.6 A18.4,18.4 0 0 1 489.1,132.6 A18.4,18.4 0 0 1 467.8,115.1 A18.4,18.4 0 0 1 466.7,86.3 A18.4,18.4 0 0 1 480.5,62.2 A18.4,18.4 0 0 1 508.2,55.6 A18.4,18.4 0 0 1 529.6,43.4Z" fill="none" stroke="#9aa39c" stroke-width="1.4" opacity="0.8"/>
<g clip-path="url(#bcD)"><path d="M414.8,155.9 A11.0,11.0 0 0 1 430.5,149.7 A11.0,11.0 0 0 1 446.9,154.2 A11.0,11.0 0 0 1 463.7,151.9 A11.0,11.0 0 0 1 480.0,146.7 A11.0,11.0 0 0 1 496.0,146.3 A11.0,11.0 0 0 1 506.2,160.0 A11.0,11.0 0 0 1 505.1,176.3 A11.0,11.0 0 0 1 493.1,187.6 A11.0,11.0 0 0 1 487.0,202.6 A11.0,11.0 0 0 1 476.8,215.9 A11.0,11.0 0 0 1 461.2,222.4 A11.0,11.0 0 0 1 445.1,217.7 A11.0,11.0 0 0 1 438.3,202.2 A11.0,11.0 0 0 1 426.6,194.8 A11.0,11.0 0 0 1 411.7,188.3 A11.0,11.0 0 0 1 409.5,171.9 A11.0,11.0 0 0 1 414.8,155.9Z" fill="#e4d98c"/><g filter="url(#bb)"><ellipse cx="420" cy="175" rx="16" ry="22" fill="#6ea0dc" opacity="0.95"/><ellipse cx="500" cy="165" rx="14" ry="20" fill="#86b8d8" opacity="0.9"/><ellipse cx="460" cy="210" rx="25" ry="12" fill="#6a98cf" opacity="0.9"/><ellipse cx="470" cy="175" rx="25" ry="15" fill="#e8b070" opacity="0.7"/><ellipse cx="440" cy="160" rx="15" ry="10" fill="#d8e8a0" opacity="0.6"/></g><circle cx="442.8" cy="164.2" r="3" fill="#c41414" filter="url(#bs)"/><circle cx="475.6" cy="161.4" r="3.5" fill="#c41414" filter="url(#bs)"/><circle cx="468" cy="165" r="3" fill="#c41414" filter="url(#bs)"/><circle cx="484.5" cy="167" r="3" fill="#c41414" filter="url(#bs)"/><circle cx="435.3" cy="177.3" r="3" fill="#c41414" filter="url(#bs)"/><circle cx="446" cy="178.7" r="3" fill="#e05818" filter="url(#bs)"/><circle cx="456" cy="171.7" r="3" fill="#e05818" filter="url(#bs)"/><circle cx="455.4" cy="183.9" r="3" fill="#e05818" filter="url(#bs)"/><circle cx="481.2" cy="179.2" r="3" fill="#c41414" filter="url(#bs)"/><circle cx="452.6" cy="192.8" r="3" fill="#c41414" filter="url(#bs)"/><circle cx="462.5" cy="198.9" r="3" fill="#c41414" filter="url(#bs)"/><circle cx="432.5" cy="162.3" r="3" fill="#4d7a6c" filter="url(#bs)"/><circle cx="492.5" cy="168" r="3" fill="#4d7a6c" filter="url(#bs)"/><circle cx="463.4" cy="184.3" r="3" fill="#4d7a6c" filter="url(#bs)"/><circle cx="464.3" cy="205.9" r="3" fill="#4d7a6c" filter="url(#bs)"/><circle cx="421.7" cy="181" r="3" fill="#2040a8" filter="url(#bs)"/><circle cx="470" cy="205" r="2.5" fill="#4d7a6c" filter="url(#bs)"/><circle cx="440" cy="200" r="2.5" fill="#b7ebe3" filter="url(#bs)"/><circle cx="423.9" cy="175.5" r="2.0" fill="#e0e0d0" filter="url(#bs)"/><circle cx="447.3" cy="163.0" r="1.9" fill="#5a7a70" filter="url(#bs)"/><circle cx="476.7" cy="201.9" r="2.1" fill="#5a7a70" filter="url(#bs)"/><circle cx="448.3" cy="189.6" r="2.3" fill="#4a6a90" filter="url(#bs)"/><circle cx="468.9" cy="199.6" r="1.9" fill="#4a6a90" filter="url(#bs)"/><circle cx="455.4" cy="166.4" r="2.1" fill="#5a7a70" filter="url(#bs)"/><circle cx="483.2" cy="165.1" r="1.8" fill="#5a7a70" filter="url(#bs)"/><circle cx="493.9" cy="174.8" r="2.3" fill="#e0e0d0" filter="url(#bs)"/><circle cx="486.9" cy="184.8" r="1.9" fill="#5a7a70" filter="url(#bs)"/><circle cx="477.5" cy="187.0" r="1.7" fill="#5a7a70" filter="url(#bs)"/><circle cx="456.5" cy="165.9" r="1.9" fill="#5a7a70" filter="url(#bs)"/><circle cx="463.8" cy="193.1" r="1.9" fill="#5a7a70" filter="url(#bs)"/><circle cx="445.8" cy="205.6" r="1.7" fill="#5a7a70" filter="url(#bs)"/><circle cx="472.7" cy="204.6" r="2.4" fill="#e0e0d0" filter="url(#bs)"/><circle cx="482.8" cy="153.0" r="2.2" fill="#c03020" filter="url(#bs)"/><circle cx="444.4" cy="187.0" r="2.3" fill="#c03020" filter="url(#bs)"/><circle cx="454.9" cy="195.8" r="2.4" fill="#e0e0d0" filter="url(#bs)"/><circle cx="447.9" cy="176.2" r="1.9" fill="#4a6a90" filter="url(#bs)"/><circle cx="496.4" cy="174.8" r="1.8" fill="#4a6a90" filter="url(#bs)"/><circle cx="451.7" cy="187.3" r="2.1" fill="#4a6a90" filter="url(#bs)"/><circle cx="430.8" cy="176.5" r="2.3" fill="#c03020" filter="url(#bs)"/><circle cx="454.0" cy="197.0" r="1.8" fill="#e0e0d0" filter="url(#bs)"/><circle cx="479.0" cy="160.1" r="2.0" fill="#c03020" filter="url(#bs)"/><circle cx="487.1" cy="185.3" r="2.3" fill="#4a6a90" filter="url(#bs)"/><circle cx="466.3" cy="188.3" r="2.4" fill="#c03020" filter="url(#bs)"/><circle cx="443.0" cy="167.9" r="2.3" fill="#c03020" filter="url(#bs)"/></g>
<path d="M414.8,155.9 A11.0,11.0 0 0 1 430.5,149.7 A11.0,11.0 0 0 1 446.9,154.2 A11.0,11.0 0 0 1 463.7,151.9 A11.0,11.0 0 0 1 480.0,146.7 A11.0,11.0 0 0 1 496.0,146.3 A11.0,11.0 0 0 1 506.2,160.0 A11.0,11.0 0 0 1 505.1,176.3 A11.0,11.0 0 0 1 493.1,187.6 A11.0,11.0 0 0 1 487.0,202.6 A11.0,11.0 0 0 1 476.8,215.9 A11.0,11.0 0 0 1 461.2,222.4 A11.0,11.0 0 0 1 445.1,217.7 A11.0,11.0 0 0 1 438.3,202.2 A11.0,11.0 0 0 1 426.6,194.8 A11.0,11.0 0 0 1 411.7,188.3 A11.0,11.0 0 0 1 409.5,171.9 A11.0,11.0 0 0 1 414.8,155.9Z" fill="none" stroke="#9aa39c" stroke-width="1.4" opacity="0.8"/>
<g clip-path="url(#bcE)"><path d="M65.0,258.9 A12.5,12.5 0 0 1 82.5,250.7 A12.5,12.5 0 0 1 101.7,253.0 A12.5,12.5 0 0 1 120.7,257.4 A12.5,12.5 0 0 1 139.5,253.0 A12.5,12.5 0 0 1 157.3,245.3 A12.5,12.5 0 0 1 176.2,244.2 A12.5,12.5 0 0 1 187.8,259.5 A12.5,12.5 0 0 1 187.8,278.8 A12.5,12.5 0 0 1 179.7,296.4 A12.5,12.5 0 0 1 165.6,309.4 A12.5,12.5 0 0 1 153.9,324.1 A12.5,12.5 0 0 1 141.8,338.9 A12.5,12.5 0 0 1 123.0,341.0 A12.5,12.5 0 0 1 105.9,332.1 A12.5,12.5 0 0 1 99.1,314.0 A12.5,12.5 0 0 1 81.1,307.0 A12.5,12.5 0 0 1 65.5,295.7 A12.5,12.5 0 0 1 60.5,277.3 A12.5,12.5 0 0 1 65.0,258.9Z" fill="#e6cf82"/><g filter="url(#bb)"><ellipse cx="72" cy="280" rx="18" ry="25" fill="#78a6e2" opacity="0.95"/><ellipse cx="178" cy="258" rx="15" ry="18" fill="#8ad4e0" opacity="0.9"/><ellipse cx="130" cy="330" rx="28" ry="15" fill="#6c92d4" opacity="0.9"/><ellipse cx="140" cy="290" rx="30" ry="20" fill="#eab070" opacity="0.7"/><ellipse cx="100" cy="300" rx="14" ry="12" fill="#b8dce8" opacity="0.7"/></g><circle cx="93" cy="266.1" r="3.5" fill="#8a3a2a" filter="url(#bs)"/><circle cx="105.3" cy="268.3" r="3.5" fill="#c41414" filter="url(#bs)"/><circle cx="138" cy="269.5" r="3.5" fill="#c41414" filter="url(#bs)"/><circle cx="148" cy="266.1" r="3.5" fill="#c41414" filter="url(#bs)"/><circle cx="158.2" cy="272.8" r="3.5" fill="#c41414" filter="url(#bs)"/><circle cx="95.2" cy="285.2" r="3.5" fill="#c41414" filter="url(#bs)"/><circle cx="109.8" cy="287.5" r="3.5" fill="#e05818" filter="url(#bs)"/><circle cx="122.2" cy="293.1" r="3.5" fill="#e05818" filter="url(#bs)"/><circle cx="153.7" cy="287.5" r="3.5" fill="#e05818" filter="url(#bs)"/><circle cx="117.7" cy="305" r="3.5" fill="#c41414" filter="url(#bs)"/><circle cx="130" cy="311" r="3.5" fill="#c41414" filter="url(#bs)"/><circle cx="122.2" cy="277.3" r="3.5" fill="#e0901c" filter="url(#bs)"/><circle cx="144.7" cy="294.2" r="3.5" fill="#e8c020" filter="url(#bs)"/><circle cx="131.2" cy="294.2" r="3.5" fill="#b050d0" filter="url(#bs)"/><circle cx="168.3" cy="274" r="3" fill="#4d7a6c" filter="url(#bs)"/><circle cx="165" cy="259.4" r="3" fill="#4d7a6c" filter="url(#bs)"/><circle cx="147" cy="308.8" r="3" fill="#4d7a6c" filter="url(#bs)"/><circle cx="132.3" cy="321.2" r="3" fill="#4d7a6c" filter="url(#bs)"/><circle cx="122.2" cy="316.7" r="3" fill="#4d7a6c" filter="url(#bs)"/><circle cx="80" cy="280" r="3" fill="#4070c0" filter="url(#bs)"/><circle cx="90.3" cy="280.9" r="1.9" fill="#c03020" filter="url(#bs)"/><circle cx="116.0" cy="308.2" r="2.2" fill="#c03020" filter="url(#bs)"/><circle cx="121.2" cy="319.3" r="2.3" fill="#5a7a70" filter="url(#bs)"/><circle cx="122.6" cy="310.0" r="2.3" fill="#4a6a90" filter="url(#bs)"/><circle cx="153.5" cy="257.3" r="1.8" fill="#e0e0d0" filter="url(#bs)"/><circle cx="97.6" cy="267.0" r="1.8" fill="#c03020" filter="url(#bs)"/><circle cx="137.3" cy="306.4" r="1.7" fill="#e0e0d0" filter="url(#bs)"/><circle cx="91.5" cy="259.1" r="2.3" fill="#5a7a70" filter="url(#bs)"/><circle cx="102.8" cy="280.6" r="2.1" fill="#e0e0d0" filter="url(#bs)"/><circle cx="73.1" cy="278.8" r="2.0" fill="#4a6a90" filter="url(#bs)"/><circle cx="149.8" cy="291.4" r="1.7" fill="#e0e0d0" filter="url(#bs)"/><circle cx="84.8" cy="273.9" r="2.2" fill="#5a7a70" filter="url(#bs)"/><circle cx="118.1" cy="294.4" r="1.8" fill="#e0e0d0" filter="url(#bs)"/><circle cx="143.2" cy="281.5" r="2.0" fill="#e0e0d0" filter="url(#bs)"/><circle cx="107.7" cy="297.5" r="2.1" fill="#4a6a90" filter="url(#bs)"/><circle cx="149.8" cy="304.0" r="2.2" fill="#c03020" filter="url(#bs)"/><circle cx="140.8" cy="261.7" r="2.4" fill="#c03020" filter="url(#bs)"/><circle cx="140.2" cy="285.7" r="1.9" fill="#c03020" filter="url(#bs)"/><circle cx="120.1" cy="277.0" r="1.8" fill="#5a7a70" filter="url(#bs)"/><circle cx="83.5" cy="266.4" r="2.1" fill="#4a6a90" filter="url(#bs)"/><circle cx="109.8" cy="273.2" r="1.9" fill="#c03020" filter="url(#bs)"/><circle cx="76.7" cy="292.6" r="1.8" fill="#e0e0d0" filter="url(#bs)"/><circle cx="119.1" cy="317.2" r="1.7" fill="#4a6a90" filter="url(#bs)"/><circle cx="160.7" cy="260.8" r="1.9" fill="#5a7a70" filter="url(#bs)"/><circle cx="143.5" cy="297.4" r="2.4" fill="#5a7a70" filter="url(#bs)"/><circle cx="91.6" cy="267.0" r="2.0" fill="#4a6a90" filter="url(#bs)"/></g>
<path d="M65.0,258.9 A12.5,12.5 0 0 1 82.5,250.7 A12.5,12.5 0 0 1 101.7,253.0 A12.5,12.5 0 0 1 120.7,257.4 A12.5,12.5 0 0 1 139.5,253.0 A12.5,12.5 0 0 1 157.3,245.3 A12.5,12.5 0 0 1 176.2,244.2 A12.5,12.5 0 0 1 187.8,259.5 A12.5,12.5 0 0 1 187.8,278.8 A12.5,12.5 0 0 1 179.7,296.4 A12.5,12.5 0 0 1 165.6,309.4 A12.5,12.5 0 0 1 153.9,324.1 A12.5,12.5 0 0 1 141.8,338.9 A12.5,12.5 0 0 1 123.0,341.0 A12.5,12.5 0 0 1 105.9,332.1 A12.5,12.5 0 0 1 99.1,314.0 A12.5,12.5 0 0 1 81.1,307.0 A12.5,12.5 0 0 1 65.5,295.7 A12.5,12.5 0 0 1 60.5,277.3 A12.5,12.5 0 0 1 65.0,258.9Z" fill="none" stroke="#9aa39c" stroke-width="1.4" opacity="0.8"/>
<g clip-path="url(#bcH)"><path d="M536.5,227.8 A11.5,11.5 0 0 1 553.4,222.1 A11.5,11.5 0 0 1 569.2,228.2 A11.5,11.5 0 0 1 579.0,240.1 A11.5,11.5 0 0 1 594.7,247.3 A11.5,11.5 0 0 1 606.6,260.5 A11.5,11.5 0 0 1 602.6,277.3 A11.5,11.5 0 0 1 590.1,287.7 A11.5,11.5 0 0 1 582.2,302.5 A11.5,11.5 0 0 1 565.2,307.4 A11.5,11.5 0 0 1 549.1,314.9 A11.5,11.5 0 0 1 534.4,307.9 A11.5,11.5 0 0 1 517.3,305.6 A11.5,11.5 0 0 1 508.5,290.8 A11.5,11.5 0 0 1 514.5,274.2 A11.5,11.5 0 0 1 520.0,257.7 A11.5,11.5 0 0 1 524.0,240.3 A11.5,11.5 0 0 1 536.5,227.8Z" fill="#d6efea"/><g filter="url(#bb)"><ellipse cx="552" cy="232" rx="24" ry="14" fill="#e4a474" opacity="0.9"/><ellipse cx="520" cy="290" rx="16" ry="22" fill="#6494dc" opacity="0.95"/><ellipse cx="595" cy="265" rx="14" ry="20" fill="#8cb0d6" opacity="0.9"/><ellipse cx="560" cy="305" rx="25" ry="10" fill="#e6d496" opacity="0.9"/></g><circle cx="532" cy="242" r="3" fill="#c41414" filter="url(#bs)"/><circle cx="558" cy="239" r="3" fill="#e05818" filter="url(#bs)"/><circle cx="536" cy="260" r="3" fill="#4d7a6c" filter="url(#bs)"/><circle cx="548" cy="275" r="3" fill="#4d7a6c" filter="url(#bs)"/><circle cx="573" cy="260" r="3" fill="#4d7a6c" filter="url(#bs)"/><circle cx="590" cy="262" r="3" fill="#2040a8" filter="url(#bs)"/><circle cx="579" cy="266" r="3" fill="#2040a8" filter="url(#bs)"/><circle cx="533" cy="270" r="3" fill="#2040a8" filter="url(#bs)"/><circle cx="527" cy="285" r="3" fill="#2040a8" filter="url(#bs)"/><circle cx="570" cy="275" r="3" fill="#8a3a2a" filter="url(#bs)"/><circle cx="560" cy="295" r="3" fill="#4d7a6c" filter="url(#bs)"/><circle cx="575" cy="290" r="3" fill="#4d7a6c" filter="url(#bs)"/><circle cx="545" cy="292" r="2.5" fill="#4d7a6c" filter="url(#bs)"/><circle cx="555" cy="253" r="2.5" fill="#4d7a6c" filter="url(#bs)"/><circle cx="531.1" cy="288.3" r="2.3" fill="#4a6a64" filter="url(#bs)"/><circle cx="578.1" cy="282.6" r="1.7" fill="#e8ecea" filter="url(#bs)"/><circle cx="565.5" cy="292.1" r="1.7" fill="#4a6a64" filter="url(#bs)"/><circle cx="553.4" cy="299.4" r="2.2" fill="#3a5a90" filter="url(#bs)"/><circle cx="532.9" cy="291.0" r="2.4" fill="#3a5a90" filter="url(#bs)"/><circle cx="562.9" cy="239.3" r="1.7" fill="#e8ecea" filter="url(#bs)"/><circle cx="529.5" cy="280.1" r="2.1" fill="#4a6a64" filter="url(#bs)"/><circle cx="534.0" cy="295.9" r="2.0" fill="#3a5a90" filter="url(#bs)"/><circle cx="580.6" cy="271.8" r="1.8" fill="#e8ecea" filter="url(#bs)"/><circle cx="582.0" cy="276.6" r="2.3" fill="#4a6a64" filter="url(#bs)"/><circle cx="533.3" cy="299.1" r="1.7" fill="#6a8a80" filter="url(#bs)"/><circle cx="549.3" cy="294.0" r="2.2" fill="#4a6a64" filter="url(#bs)"/><circle cx="568.8" cy="289.1" r="2.3" fill="#3a5a90" filter="url(#bs)"/><circle cx="549.6" cy="281.4" r="2.2" fill="#3a5a90" filter="url(#bs)"/><circle cx="584.3" cy="276.3" r="2.3" fill="#e8ecea" filter="url(#bs)"/><circle cx="541.3" cy="280.0" r="1.9" fill="#e8ecea" filter="url(#bs)"/><circle cx="556.2" cy="236.4" r="2.1" fill="#3a5a90" filter="url(#bs)"/><circle cx="551.2" cy="280.4" r="2.1" fill="#e8ecea" filter="url(#bs)"/><circle cx="537.3" cy="294.9" r="1.7" fill="#e8ecea" filter="url(#bs)"/><circle cx="551.9" cy="237.3" r="1.8" fill="#e8ecea" filter="url(#bs)"/><circle cx="577.4" cy="246.7" r="1.8" fill="#6a8a80" filter="url(#bs)"/><circle cx="592.0" cy="271.8" r="2.0" fill="#e8ecea" filter="url(#bs)"/><circle cx="556.1" cy="290.0" r="2.0" fill="#4a6a64" filter="url(#bs)"/><circle cx="540.7" cy="302.3" r="1.8" fill="#4a6a64" filter="url(#bs)"/><circle cx="557.7" cy="235.6" r="2.0" fill="#e8ecea" filter="url(#bs)"/><circle cx="577.1" cy="252.0" r="2.0" fill="#3a5a90" filter="url(#bs)"/><circle cx="554.8" cy="245.9" r="2.3" fill="#e8ecea" filter="url(#bs)"/><circle cx="550.3" cy="236.8" r="1.8" fill="#3a5a90" filter="url(#bs)"/><circle cx="587.6" cy="259.4" r="1.8" fill="#3a5a90" filter="url(#bs)"/><circle cx="592.7" cy="267.1" r="2.4" fill="#e8ecea" filter="url(#bs)"/><circle cx="546.1" cy="296.0" r="1.9" fill="#6a8a80" filter="url(#bs)"/><circle cx="547.3" cy="258.3" r="2.3" fill="#e8ecea" filter="url(#bs)"/><circle cx="591.9" cy="270.6" r="1.7" fill="#e8ecea" filter="url(#bs)"/><circle cx="560.3" cy="243.5" r="1.7" fill="#e8ecea" filter="url(#bs)"/></g>
<path d="M536.5,227.8 A11.5,11.5 0 0 1 553.4,222.1 A11.5,11.5 0 0 1 569.2,228.2 A11.5,11.5 0 0 1 579.0,240.1 A11.5,11.5 0 0 1 594.7,247.3 A11.5,11.5 0 0 1 606.6,260.5 A11.5,11.5 0 0 1 602.6,277.3 A11.5,11.5 0 0 1 590.1,287.7 A11.5,11.5 0 0 1 582.2,302.5 A11.5,11.5 0 0 1 565.2,307.4 A11.5,11.5 0 0 1 549.1,314.9 A11.5,11.5 0 0 1 534.4,307.9 A11.5,11.5 0 0 1 517.3,305.6 A11.5,11.5 0 0 1 508.5,290.8 A11.5,11.5 0 0 1 514.5,274.2 A11.5,11.5 0 0 1 520.0,257.7 A11.5,11.5 0 0 1 524.0,240.3 A11.5,11.5 0 0 1 536.5,227.8Z" fill="none" stroke="#9aa39c" stroke-width="1.4" opacity="0.8"/>
<g clip-path="url(#bcF)"><path d="M287.5,274.4 A12.4,12.4 0 0 1 305.6,267.9 A12.4,12.4 0 0 1 324.8,266.8 A12.4,12.4 0 0 1 342.7,273.0 A12.4,12.4 0 0 1 346.8,291.6 A12.4,12.4 0 0 1 362.5,301.1 A12.4,12.4 0 0 1 374.2,315.8 A12.4,12.4 0 0 1 373.3,334.3 A12.4,12.4 0 0 1 359.2,347.0 A12.4,12.4 0 0 1 341.8,355.2 A12.4,12.4 0 0 1 325.6,364.1 A12.4,12.4 0 0 1 306.4,365.5 A12.4,12.4 0 0 1 289.9,356.8 A12.4,12.4 0 0 1 279.6,341.2 A12.4,12.4 0 0 1 261.6,334.2 A12.4,12.4 0 0 1 256.5,317.1 A12.4,12.4 0 0 1 269.6,303.3 A12.4,12.4 0 0 1 281.5,291.4 A12.4,12.4 0 0 1 287.5,274.4Z" fill="#cfe8e4"/><g filter="url(#bb)"><ellipse cx="315" cy="280" rx="32" ry="16" fill="#dc9878" opacity="0.9"/><ellipse cx="268" cy="322" rx="20" ry="22" fill="#5a8ad0" opacity="0.95"/><ellipse cx="362" cy="322" rx="16" ry="22" fill="#8cbce0" opacity="0.9"/><ellipse cx="312" cy="355" rx="28" ry="12" fill="#e2d494" opacity="0.9"/><ellipse cx="320" cy="318" rx="20" ry="18" fill="#e4f4f0" opacity="0.7"/></g><circle cx="302" cy="281.4" r="3.5" fill="#c41414" filter="url(#bs)"/><circle cx="325.2" cy="284.9" r="3" fill="#e05818" filter="url(#bs)"/><circle cx="328.7" cy="329" r="3" fill="#c41414" filter="url(#bs)"/><circle cx="291.5" cy="312.7" r="3" fill="#2040a8" filter="url(#bs)"/><circle cx="279.9" cy="323.2" r="3" fill="#2040a8" filter="url(#bs)"/><circle cx="336.8" cy="319.7" r="3" fill="#2040a8" filter="url(#bs)"/><circle cx="350.7" cy="320.9" r="3" fill="#2040a8" filter="url(#bs)"/><circle cx="300" cy="300" r="2.5" fill="#4d7a6c" filter="url(#bs)"/><circle cx="315" cy="305" r="2.5" fill="#4d7a6c" filter="url(#bs)"/><circle cx="330" cy="300" r="2.5" fill="#4d7a6c" filter="url(#bs)"/><circle cx="345" cy="330" r="2.5" fill="#4d7a6c" filter="url(#bs)"/><circle cx="310" cy="335" r="2.5" fill="#4d7a6c" filter="url(#bs)"/><circle cx="300" cy="345" r="2.5" fill="#e8c020" filter="url(#bs)"/><circle cx="285" cy="335" r="2.5" fill="#4d7a6c" filter="url(#bs)"/><circle cx="350" cy="305" r="2.5" fill="#4d7a6c" filter="url(#bs)"/><circle cx="320" cy="345" r="2.5" fill="#4d7a6c" filter="url(#bs)"/><circle cx="346.0" cy="336.1" r="2.1" fill="#e8ecea" filter="url(#bs)"/><circle cx="350.4" cy="340.1" r="2.1" fill="#e8ecea" filter="url(#bs)"/><circle cx="321.7" cy="291.9" r="1.8" fill="#3a5a90" filter="url(#bs)"/><circle cx="303.4" cy="320.2" r="2.1" fill="#6a8a80" filter="url(#bs)"/><circle cx="295.2" cy="345.1" r="2.0" fill="#e8ecea" filter="url(#bs)"/><circle cx="341.6" cy="329.1" r="2.0" fill="#6a8a80" filter="url(#bs)"/><circle cx="330.5" cy="287.9" r="2.0" fill="#4a6a64" filter="url(#bs)"/><circle cx="327.1" cy="279.6" r="1.9" fill="#e8ecea" filter="url(#bs)"/><circle cx="315.5" cy="315.9" r="1.7" fill="#3a5a90" filter="url(#bs)"/><circle cx="297.5" cy="346.0" r="2.2" fill="#e8ecea" filter="url(#bs)"/><circle cx="334.5" cy="293.4" r="1.9" fill="#4a6a64" filter="url(#bs)"/><circle cx="305.9" cy="343.9" r="2.2" fill="#6a8a80" filter="url(#bs)"/><circle cx="314.6" cy="332.1" r="2.1" fill="#6a8a80" filter="url(#bs)"/><circle cx="286.2" cy="315.1" r="1.7" fill="#6a8a80" filter="url(#bs)"/><circle cx="340.3" cy="308.0" r="1.8" fill="#4a6a64" filter="url(#bs)"/><circle cx="336.6" cy="305.2" r="1.9" fill="#3a5a90" filter="url(#bs)"/><circle cx="324.4" cy="293.7" r="1.7" fill="#e8ecea" filter="url(#bs)"/><circle cx="291.1" cy="305.4" r="2.3" fill="#e8ecea" filter="url(#bs)"/><circle cx="323.3" cy="316.3" r="2.1" fill="#e8ecea" filter="url(#bs)"/><circle cx="314.0" cy="280.4" r="1.7" fill="#6a8a80" filter="url(#bs)"/><circle cx="336.0" cy="294.9" r="1.7" fill="#6a8a80" filter="url(#bs)"/><circle cx="312.4" cy="288.9" r="2.1" fill="#3a5a90" filter="url(#bs)"/><circle cx="355.6" cy="323.6" r="2.3" fill="#3a5a90" filter="url(#bs)"/><circle cx="292.8" cy="339.3" r="2.0" fill="#3a5a90" filter="url(#bs)"/><circle cx="313.8" cy="320.9" r="1.7" fill="#3a5a90" filter="url(#bs)"/><circle cx="327.7" cy="303.4" r="1.7" fill="#6a8a80" filter="url(#bs)"/><circle cx="361.2" cy="323.5" r="1.7" fill="#4a6a64" filter="url(#bs)"/><circle cx="315.2" cy="314.5" r="1.8" fill="#3a5a90" filter="url(#bs)"/><circle cx="312.7" cy="340.5" r="2.4" fill="#4a6a64" filter="url(#bs)"/><circle cx="303.3" cy="336.3" r="2.1" fill="#6a8a80" filter="url(#bs)"/><circle cx="304.1" cy="302.6" r="2.2" fill="#6a8a80" filter="url(#bs)"/><circle cx="282.9" cy="335.4" r="2.2" fill="#3a5a90" filter="url(#bs)"/><circle cx="306.5" cy="294.1" r="2.3" fill="#6a8a80" filter="url(#bs)"/><circle cx="299.7" cy="341.9" r="2.0" fill="#6a8a80" filter="url(#bs)"/></g>
<path d="M287.5,274.4 A12.4,12.4 0 0 1 305.6,267.9 A12.4,12.4 0 0 1 324.8,266.8 A12.4,12.4 0 0 1 342.7,273.0 A12.4,12.4 0 0 1 346.8,291.6 A12.4,12.4 0 0 1 362.5,301.1 A12.4,12.4 0 0 1 374.2,315.8 A12.4,12.4 0 0 1 373.3,334.3 A12.4,12.4 0 0 1 359.2,347.0 A12.4,12.4 0 0 1 341.8,355.2 A12.4,12.4 0 0 1 325.6,364.1 A12.4,12.4 0 0 1 306.4,365.5 A12.4,12.4 0 0 1 289.9,356.8 A12.4,12.4 0 0 1 279.6,341.2 A12.4,12.4 0 0 1 261.6,334.2 A12.4,12.4 0 0 1 256.5,317.1 A12.4,12.4 0 0 1 269.6,303.3 A12.4,12.4 0 0 1 281.5,291.4 A12.4,12.4 0 0 1 287.5,274.4Z" fill="none" stroke="#9aa39c" stroke-width="1.4" opacity="0.8"/>
<g clip-path="url(#bcI)"><path d="M688.0,174.4 A19.2,19.2 0 0 1 716.6,174.6 A19.2,19.2 0 0 1 741.2,181.5 A19.2,19.2 0 0 1 764.8,163.9 A19.2,19.2 0 0 1 791.4,171.8 A19.2,19.2 0 0 1 808.8,194.7 A19.2,19.2 0 0 1 833.1,209.1 A19.2,19.2 0 0 1 834.6,237.8 A19.2,19.2 0 0 1 824.7,262.6 A19.2,19.2 0 0 1 834.8,290.6 A19.2,19.2 0 0 1 820.9,314.6 A19.2,19.2 0 0 1 792.3,322.7 A19.2,19.2 0 0 1 765.9,336.1 A19.2,19.2 0 0 1 736.4,338.0 A19.2,19.2 0 0 1 717.9,317.0 A19.2,19.2 0 0 1 689.7,309.3 A19.2,19.2 0 0 1 675.5,284.5 A19.2,19.2 0 0 1 682.7,256.8 A19.2,19.2 0 0 1 658.8,239.1 A19.2,19.2 0 0 1 648.3,211.7 A19.2,19.2 0 0 1 660.6,185.8 A19.2,19.2 0 0 1 688.0,174.4Z" fill="#a8dcd0"/><g filter="url(#bb)"><ellipse cx="685" cy="212" rx="40" ry="42" fill="#2a64c8" opacity="1.0"/><ellipse cx="770" cy="180" rx="40" ry="22" fill="#cbd38a" opacity="0.95"/><ellipse cx="822" cy="255" rx="18" ry="60" fill="#d0d292" opacity="0.9"/><ellipse cx="750" cy="325" rx="38" ry="16" fill="#d4c878" opacity="0.95"/><ellipse cx="700" cy="300" rx="22" ry="15" fill="#ccd49a" opacity="0.8"/><ellipse cx="726" cy="245" rx="16" ry="20" fill="#5a90c8" opacity="0.7"/></g><circle cx="756.7" cy="199.2" r="5" fill="#e05818" filter="url(#bs)"/><circle cx="768.8" cy="199.2" r="5" fill="#e05818" filter="url(#bs)"/><circle cx="785.7" cy="209.6" r="5" fill="#c41414" filter="url(#bs)"/><circle cx="731.7" cy="217.7" r="5" fill="#8a3a2a" filter="url(#bs)"/><circle cx="779.2" cy="237.8" r="5" fill="#8a3a2a" filter="url(#bs)"/><circle cx="716.4" cy="254" r="5" fill="#8a3a2a" filter="url(#bs)"/><circle cx="700.3" cy="287" r="5" fill="#c41414" filter="url(#bs)"/><circle cx="734.9" cy="302.3" r="5" fill="#c41414" filter="url(#bs)"/><circle cx="767.2" cy="305.5" r="5" fill="#e05818" filter="url(#bs)"/><circle cx="740.6" cy="318.4" r="5" fill="#e05818" filter="url(#bs)"/><circle cx="813.1" cy="220.1" r="5" fill="#c04040" filter="url(#bs)"/><circle cx="752.6" cy="208" r="5" fill="#2040a8" filter="url(#bs)"/><circle cx="714" cy="225" r="5" fill="#2040a8" filter="url(#bs)"/><circle cx="784.9" cy="261.2" r="5.5" fill="#2040a8" filter="url(#bs)"/><circle cx="797.8" cy="280.5" r="5.5" fill="#2040a8" filter="url(#bs)"/><circle cx="693" cy="212.9" r="6" fill="#1a4090" filter="url(#bs)"/><circle cx="772" cy="182.2" r="4" fill="#e8e8a0" filter="url(#bs)"/><circle cx="747.8" cy="212.9" r="4" fill="#e8c020" filter="url(#bs)"/><circle cx="752.6" cy="299.9" r="4" fill="#e8c020" filter="url(#bs)"/><circle cx="760" cy="302" r="4" fill="#e8c020" filter="url(#bs)"/><circle cx="745" cy="228" r="4" fill="#4d7a6c" filter="url(#bs)"/><circle cx="760" cy="240" r="4" fill="#4d7a6c" filter="url(#bs)"/><circle cx="748" cy="252" r="4" fill="#4d7a6c" filter="url(#bs)"/><circle cx="790" cy="255" r="4" fill="#4d7a6c" filter="url(#bs)"/><circle cx="806" cy="265" r="4" fill="#4d7a6c" filter="url(#bs)"/><circle cx="725" cy="262" r="4" fill="#b7ebe3" filter="url(#bs)"/><circle cx="750" cy="275" r="4" fill="#b7ebe3" filter="url(#bs)"/><circle cx="772" cy="228" r="4" fill="#b7ebe3" filter="url(#bs)"/><circle cx="702" cy="265" r="4" fill="#4d7a6c" filter="url(#bs)"/><circle cx="800" cy="300" r="4" fill="#4d7a6c" filter="url(#bs)"/><circle cx="815" cy="300" r="4" fill="#b7ebe3" filter="url(#bs)"/><circle cx="797.5" cy="233.4" r="3.5" fill="#e4efec" filter="url(#bs)"/><circle cx="742.7" cy="194.7" r="3.2" fill="#7a9a90" filter="url(#bs)"/><circle cx="775.7" cy="230.1" r="2.7" fill="#e4efec" filter="url(#bs)"/><circle cx="728.2" cy="231.7" r="3.1" fill="#cfe8e4" filter="url(#bs)"/><circle cx="756.4" cy="198.9" r="2.6" fill="#e4efec" filter="url(#bs)"/><circle cx="802.1" cy="208.0" r="2.9" fill="#5a7a74" filter="url(#bs)"/><circle cx="807.6" cy="255.2" r="3.2" fill="#5a7a74" filter="url(#bs)"/><circle cx="734.7" cy="276.7" r="2.5" fill="#7a9a90" filter="url(#bs)"/><circle cx="701.7" cy="197.8" r="2.7" fill="#5a7a74" filter="url(#bs)"/><circle cx="685.4" cy="202.9" r="3.4" fill="#7a9a90" filter="url(#bs)"/><circle cx="671.8" cy="228.6" r="2.4" fill="#5a7a74" filter="url(#bs)"/><circle cx="739.4" cy="198.0" r="2.6" fill="#7a9a90" filter="url(#bs)"/><circle cx="756.7" cy="315.4" r="2.7" fill="#e4efec" filter="url(#bs)"/><circle cx="772.6" cy="189.8" r="2.9" fill="#e4efec" filter="url(#bs)"/><circle cx="740.5" cy="238.9" r="3.4" fill="#e4efec" filter="url(#bs)"/><circle cx="765.5" cy="305.5" r="2.7" fill="#e4efec" filter="url(#bs)"/><circle cx="698.2" cy="234.5" r="2.5" fill="#cfe8e4" filter="url(#bs)"/><circle cx="804.8" cy="251.5" r="2.7" fill="#cfe8e4" filter="url(#bs)"/><circle cx="727.8" cy="227.6" r="2.9" fill="#5a7a74" filter="url(#bs)"/><circle cx="698.3" cy="221.0" r="3.4" fill="#5a7a74" filter="url(#bs)"/><circle cx="756.0" cy="230.5" r="3.0" fill="#e4efec" filter="url(#bs)"/><circle cx="797.9" cy="284.7" r="2.6" fill="#cfe8e4" filter="url(#bs)"/><circle cx="777.2" cy="302.1" r="3.1" fill="#7a9a90" filter="url(#bs)"/><circle cx="800.0" cy="209.0" r="3.3" fill="#7a9a90" filter="url(#bs)"/><circle cx="727.9" cy="208.4" r="2.6" fill="#cfe8e4" filter="url(#bs)"/><circle cx="717.3" cy="213.5" r="3.4" fill="#cfe8e4" filter="url(#bs)"/><circle cx="703.5" cy="230.9" r="2.7" fill="#e4efec" filter="url(#bs)"/><circle cx="705.7" cy="215.9" r="3.2" fill="#e4efec" filter="url(#bs)"/><circle cx="778.9" cy="207.8" r="2.7" fill="#5a7a74" filter="url(#bs)"/><circle cx="753.4" cy="213.3" r="3.2" fill="#5a7a74" filter="url(#bs)"/><circle cx="790.8" cy="230.6" r="2.7" fill="#7a9a90" filter="url(#bs)"/><circle cx="758.5" cy="239.3" r="2.6" fill="#e4efec" filter="url(#bs)"/><circle cx="787.2" cy="302.4" r="2.9" fill="#5a7a74" filter="url(#bs)"/><circle cx="771.8" cy="209.9" r="3.3" fill="#7a9a90" filter="url(#bs)"/><circle cx="741.0" cy="203.6" r="3.2" fill="#e4efec" filter="url(#bs)"/><circle cx="716.4" cy="228.3" r="2.6" fill="#e4efec" filter="url(#bs)"/><circle cx="740.2" cy="255.9" r="3.4" fill="#7a9a90" filter="url(#bs)"/><circle cx="720.3" cy="269.7" r="3.1" fill="#e4efec" filter="url(#bs)"/><circle cx="756.4" cy="276.0" r="2.7" fill="#e4efec" filter="url(#bs)"/><circle cx="781.3" cy="219.9" r="2.4" fill="#e4efec" filter="url(#bs)"/></g>
<path d="M688.0,174.4 A19.2,19.2 0 0 1 716.6,174.6 A19.2,19.2 0 0 1 741.2,181.5 A19.2,19.2 0 0 1 764.8,163.9 A19.2,19.2 0 0 1 791.4,171.8 A19.2,19.2 0 0 1 808.8,194.7 A19.2,19.2 0 0 1 833.1,209.1 A19.2,19.2 0 0 1 834.6,237.8 A19.2,19.2 0 0 1 824.7,262.6 A19.2,19.2 0 0 1 834.8,290.6 A19.2,19.2 0 0 1 820.9,314.6 A19.2,19.2 0 0 1 792.3,322.7 A19.2,19.2 0 0 1 765.9,336.1 A19.2,19.2 0 0 1 736.4,338.0 A19.2,19.2 0 0 1 717.9,317.0 A19.2,19.2 0 0 1 689.7,309.3 A19.2,19.2 0 0 1 675.5,284.5 A19.2,19.2 0 0 1 682.7,256.8 A19.2,19.2 0 0 1 658.8,239.1 A19.2,19.2 0 0 1 648.3,211.7 A19.2,19.2 0 0 1 660.6,185.8 A19.2,19.2 0 0 1 688.0,174.4Z" fill="none" stroke="#9aa39c" stroke-width="1.4" opacity="0.8"/>
<g clip-path="url(#bcJ)"><path d="M557.0,325.1 A19.6,19.6 0 0 1 582.7,309.8 A19.6,19.6 0 0 1 612.5,308.9 A19.6,19.6 0 0 1 641.8,300.2 A19.6,19.6 0 0 1 671.2,304.8 A19.6,19.6 0 0 1 687.1,330.1 A19.6,19.6 0 0 1 714.6,341.1 A19.6,19.6 0 0 1 721.6,370.1 A19.6,19.6 0 0 1 726.9,393.0 A19.6,19.6 0 0 1 741.9,418.7 A19.6,19.6 0 0 1 734.4,445.8 A19.6,19.6 0 0 1 705.1,453.2 A19.6,19.6 0 0 1 676.9,456.1 A19.6,19.6 0 0 1 648.0,451.1 A19.6,19.6 0 0 1 618.9,460.3 A19.6,19.6 0 0 1 591.8,450.9 A19.6,19.6 0 0 1 574.1,426.2 A19.6,19.6 0 0 1 549.2,411.4 A19.6,19.6 0 0 1 552.9,381.9 A19.6,19.6 0 0 1 560.0,354.4 A19.6,19.6 0 0 1 557.0,325.1Z" fill="#a6dcd0"/><g filter="url(#bb)"><ellipse cx="575" cy="345" rx="25" ry="35" fill="#8cc0b8" opacity="0.95"/><ellipse cx="650" cy="315" rx="42" ry="20" fill="#ccd488" opacity="0.95"/><ellipse cx="700" cy="420" rx="40" ry="40" fill="#2868cc" opacity="1.0"/><ellipse cx="590" cy="440" rx="40" ry="20" fill="#d8d28a" opacity="0.95"/><ellipse cx="565" cy="400" rx="15" ry="20" fill="#d4d08c" opacity="0.8"/><ellipse cx="660" cy="380" rx="20" ry="18" fill="#58a0d0" opacity="0.6"/></g><circle cx="655.6" cy="319.6" r="5" fill="#e05818" filter="url(#bs)"/><circle cx="660.7" cy="335.6" r="5" fill="#c41414" filter="url(#bs)"/><circle cx="626.9" cy="329.7" r="5" fill="#e05818" filter="url(#bs)"/><circle cx="628.6" cy="336.4" r="5" fill="#8a3a2a" filter="url(#bs)"/><circle cx="696.1" cy="353.3" r="5" fill="#c41414" filter="url(#bs)"/><circle cx="608.4" cy="390.4" r="5" fill="#8a3a2a" filter="url(#bs)"/><circle cx="676.7" cy="382" r="5" fill="#8a3a2a" filter="url(#bs)"/><circle cx="599.1" cy="416.6" r="5" fill="#c41414" filter="url(#bs)"/><circle cx="616.8" cy="428.4" r="5" fill="#e05818" filter="url(#bs)"/><circle cx="629.5" cy="430" r="5" fill="#e05818" filter="url(#bs)"/><circle cx="656.4" cy="414.9" r="5" fill="#8a3a2a" filter="url(#bs)"/><circle cx="573" cy="403.9" r="5" fill="#d06060" filter="url(#bs)"/><circle cx="592.3" cy="350.8" r="5.5" fill="#2040a8" filter="url(#bs)"/><circle cx="605" cy="369.3" r="5.5" fill="#2040a8" filter="url(#bs)"/><circle cx="635.4" cy="422.5" r="5" fill="#2040a8" filter="url(#bs)"/><circle cx="676.7" cy="409" r="5" fill="#2040a8" filter="url(#bs)"/><circle cx="699.4" cy="422.5" r="6" fill="#1a4090" filter="url(#bs)"/><circle cx="643" cy="333" r="4" fill="#e8c020" filter="url(#bs)"/><circle cx="641.3" cy="339.8" r="4" fill="#e8c020" filter="url(#bs)"/><circle cx="590" cy="333" r="4" fill="#4d7a6c" filter="url(#bs)"/><circle cx="607" cy="331" r="4" fill="#4d7a6c" filter="url(#bs)"/><circle cx="620" cy="350" r="4" fill="#4d7a6c" filter="url(#bs)"/><circle cx="585" cy="365" r="4" fill="#4d7a6c" filter="url(#bs)"/><circle cx="618" cy="372" r="4" fill="#4d7a6c" filter="url(#bs)"/><circle cx="640" cy="355" r="4" fill="#b7ebe3" filter="url(#bs)"/><circle cx="655" cy="380" r="4" fill="#4d7a6c" filter="url(#bs)"/><circle cx="645" cy="395" r="4" fill="#4d7a6c" filter="url(#bs)"/><circle cx="625" cy="403" r="4" fill="#b7ebe3" filter="url(#bs)"/><circle cx="665" cy="398" r="4" fill="#4d7a6c" filter="url(#bs)"/><circle cx="590" cy="405" r="4" fill="#4d7a6c" filter="url(#bs)"/><circle cx="683" cy="375" r="4" fill="#4d7a6c" filter="url(#bs)"/><circle cx="690" cy="360" r="4" fill="#b7ebe3" filter="url(#bs)"/><circle cx="632.3" cy="363.9" r="2.6" fill="#e4efec" filter="url(#bs)"/><circle cx="676.1" cy="389.4" r="2.8" fill="#cfe8e4" filter="url(#bs)"/><circle cx="616.6" cy="336.4" r="3.4" fill="#7a9a90" filter="url(#bs)"/><circle cx="592.5" cy="367.1" r="2.6" fill="#7a9a90" filter="url(#bs)"/><circle cx="653.0" cy="363.4" r="3.2" fill="#7a9a90" filter="url(#bs)"/><circle cx="676.8" cy="336.9" r="3.1" fill="#cfe8e4" filter="url(#bs)"/><circle cx="581.1" cy="386.1" r="3.4" fill="#e4efec" filter="url(#bs)"/><circle cx="628.3" cy="323.7" r="2.7" fill="#e4efec" filter="url(#bs)"/><circle cx="601.7" cy="349.5" r="2.6" fill="#cfe8e4" filter="url(#bs)"/><circle cx="640.9" cy="372.4" r="2.7" fill="#5a7a74" filter="url(#bs)"/><circle cx="607.2" cy="418.2" r="3.5" fill="#5a7a74" filter="url(#bs)"/><circle cx="604.3" cy="349.2" r="2.8" fill="#e4efec" filter="url(#bs)"/><circle cx="677.0" cy="414.2" r="2.7" fill="#7a9a90" filter="url(#bs)"/><circle cx="618.2" cy="330.2" r="3.3" fill="#5a7a74" filter="url(#bs)"/><circle cx="591.3" cy="403.2" r="2.7" fill="#5a7a74" filter="url(#bs)"/><circle cx="624.3" cy="430.1" r="3.2" fill="#7a9a90" filter="url(#bs)"/><circle cx="612.0" cy="351.0" r="3.4" fill="#5a7a74" filter="url(#bs)"/><circle cx="667.0" cy="342.9" r="3.2" fill="#5a7a74" filter="url(#bs)"/><circle cx="700.0" cy="411.2" r="2.8" fill="#cfe8e4" filter="url(#bs)"/><circle cx="665.0" cy="389.5" r="3.5" fill="#e4efec" filter="url(#bs)"/><circle cx="597.3" cy="335.9" r="3.5" fill="#cfe8e4" filter="url(#bs)"/><circle cx="642.2" cy="412.7" r="2.6" fill="#e4efec" filter="url(#bs)"/><circle cx="671.5" cy="394.8" r="2.6" fill="#5a7a74" filter="url(#bs)"/><circle cx="676.1" cy="398.2" r="3.0" fill="#7a9a90" filter="url(#bs)"/><circle cx="653.1" cy="402.7" r="2.9" fill="#5a7a74" filter="url(#bs)"/><circle cx="609.9" cy="407.4" r="2.6" fill="#cfe8e4" filter="url(#bs)"/><circle cx="618.6" cy="411.0" r="3.3" fill="#e4efec" filter="url(#bs)"/><circle cx="626.9" cy="421.5" r="2.9" fill="#e4efec" filter="url(#bs)"/><circle cx="664.9" cy="373.3" r="2.7" fill="#cfe8e4" filter="url(#bs)"/><circle cx="620.0" cy="345.4" r="2.9" fill="#cfe8e4" filter="url(#bs)"/><circle cx="628.0" cy="444.7" r="2.5" fill="#5a7a74" filter="url(#bs)"/><circle cx="596.3" cy="390.2" r="2.7" fill="#7a9a90" filter="url(#bs)"/><circle cx="670.5" cy="412.3" r="3.0" fill="#7a9a90" filter="url(#bs)"/><circle cx="666.4" cy="420.8" r="2.6" fill="#7a9a90" filter="url(#bs)"/><circle cx="644.6" cy="328.2" r="3.4" fill="#5a7a74" filter="url(#bs)"/><circle cx="634.9" cy="331.7" r="3.5" fill="#5a7a74" filter="url(#bs)"/><circle cx="601.0" cy="384.6" r="2.7" fill="#cfe8e4" filter="url(#bs)"/><circle cx="644.6" cy="378.4" r="2.7" fill="#7a9a90" filter="url(#bs)"/><circle cx="664.0" cy="322.7" r="3.0" fill="#7a9a90" filter="url(#bs)"/><circle cx="672.5" cy="355.3" r="2.9" fill="#e4efec" filter="url(#bs)"/></g>
<path d="M557.0,325.1 A19.6,19.6 0 0 1 582.7,309.8 A19.6,19.6 0 0 1 612.5,308.9 A19.6,19.6 0 0 1 641.8,300.2 A19.6,19.6 0 0 1 671.2,304.8 A19.6,19.6 0 0 1 687.1,330.1 A19.6,19.6 0 0 1 714.6,341.1 A19.6,19.6 0 0 1 721.6,370.1 A19.6,19.6 0 0 1 726.9,393.0 A19.6,19.6 0 0 1 741.9,418.7 A19.6,19.6 0 0 1 734.4,445.8 A19.6,19.6 0 0 1 705.1,453.2 A19.6,19.6 0 0 1 676.9,456.1 A19.6,19.6 0 0 1 648.0,451.1 A19.6,19.6 0 0 1 618.9,460.3 A19.6,19.6 0 0 1 591.8,450.9 A19.6,19.6 0 0 1 574.1,426.2 A19.6,19.6 0 0 1 549.2,411.4 A19.6,19.6 0 0 1 552.9,381.9 A19.6,19.6 0 0 1 560.0,354.4 A19.6,19.6 0 0 1 557.0,325.1Z" fill="none" stroke="#9aa39c" stroke-width="1.4" opacity="0.8"/>
<g clip-path="url(#bcG)"><path d="M390.1,305.4 A18.8,18.8 0 0 1 414.9,293.7 A18.8,18.8 0 0 1 444.2,296.3 A18.8,18.8 0 0 1 473.1,291.3 A18.8,18.8 0 0 1 491.1,312.1 A18.8,18.8 0 0 1 510.4,332.9 A18.8,18.8 0 0 1 533.5,350.6 A18.8,18.8 0 0 1 532.7,378.7 A18.8,18.8 0 0 1 511.8,398.8 A18.8,18.8 0 0 1 501.6,426.4 A18.8,18.8 0 0 1 482.6,447.9 A18.8,18.8 0 0 1 454.2,454.1 A18.8,18.8 0 0 1 425.2,458.5 A18.8,18.8 0 0 1 398.8,450.4 A18.8,18.8 0 0 1 384.8,429.8 A18.8,18.8 0 0 1 356.0,433.5 A18.8,18.8 0 0 1 330.4,420.5 A18.8,18.8 0 0 1 329.8,392.5 A18.8,18.8 0 0 1 344.3,367.0 A18.8,18.8 0 0 1 368.8,351.4 A18.8,18.8 0 0 1 388.3,334.7 A18.8,18.8 0 0 1 390.1,305.4Z" fill="#a9dccb"/><g filter="url(#bb)"><ellipse cx="352" cy="400" rx="32" ry="38" fill="#2058c0" opacity="1.0"/><ellipse cx="440" cy="320" rx="45" ry="28" fill="#ccd589" opacity="0.95"/><ellipse cx="505" cy="365" rx="28" ry="30" fill="#a6dbd0" opacity="0.9"/><ellipse cx="455" cy="440" rx="50" ry="20" fill="#d8d48a" opacity="0.95"/><ellipse cx="395" cy="360" rx="18" ry="18" fill="#4f88cc" opacity="0.8"/></g><circle cx="418.1" cy="330.2" r="5" fill="#e05818" filter="url(#bs)"/><circle cx="408.8" cy="339.5" r="5" fill="#e05818" filter="url(#bs)"/><circle cx="437.9" cy="324.4" r="5" fill="#c41414" filter="url(#bs)"/><circle cx="467" cy="311.6" r="5" fill="#c03030" filter="url(#bs)"/><circle cx="450.7" cy="348.8" r="5" fill="#c41414" filter="url(#bs)"/><circle cx="403" cy="369.7" r="5" fill="#8a3a2a" filter="url(#bs)"/><circle cx="414.6" cy="404.5" r="5" fill="#c41414" filter="url(#bs)"/><circle cx="460" cy="424.3" r="5" fill="#c41414" filter="url(#bs)"/><circle cx="475" cy="431.3" r="5" fill="#e05818" filter="url(#bs)"/><circle cx="424" cy="438.2" r="5" fill="#c41414" filter="url(#bs)"/><circle cx="482" cy="402.2" r="5" fill="#e05818" filter="url(#bs)"/><circle cx="486.7" cy="402.2" r="5" fill="#e05818" filter="url(#bs)"/><circle cx="411.2" cy="348.8" r="5" fill="#2040a8" filter="url(#bs)"/><circle cx="470.4" cy="360.4" r="5" fill="#2040a8" filter="url(#bs)"/><circle cx="492.5" cy="363.9" r="5" fill="#2040a8" filter="url(#bs)"/><circle cx="393.7" cy="387.1" r="5" fill="#2040a8" filter="url(#bs)"/><circle cx="370.5" cy="395.2" r="6" fill="#1a3f90" filter="url(#bs)"/><circle cx="411.2" cy="355.7" r="4" fill="#e8c020" filter="url(#bs)"/><circle cx="469.3" cy="408" r="4" fill="#e8c020" filter="url(#bs)"/><circle cx="476.2" cy="412.7" r="4" fill="#e8c020" filter="url(#bs)"/><circle cx="440" cy="360" r="4" fill="#4d7a6c" filter="url(#bs)"/><circle cx="455" cy="372" r="4" fill="#4d7a6c" filter="url(#bs)"/><circle cx="430" cy="380" r="4" fill="#4d7a6c" filter="url(#bs)"/><circle cx="500" cy="345" r="4" fill="#4d7a6c" filter="url(#bs)"/><circle cx="510" cy="370" r="4" fill="#4d7a6c" filter="url(#bs)"/><circle cx="425" cy="410" r="4" fill="#b7ebe3" filter="url(#bs)"/><circle cx="445" cy="392" r="4" fill="#b7ebe3" filter="url(#bs)"/><circle cx="410" cy="322" r="4" fill="#b7ebe3" filter="url(#bs)"/><circle cx="455" cy="318" r="4" fill="#b7ebe3" filter="url(#bs)"/><circle cx="490" cy="385" r="4" fill="#4d7a6c" filter="url(#bs)"/><circle cx="407.8" cy="383.5" r="2.9" fill="#5a7a74" filter="url(#bs)"/><circle cx="439.1" cy="320.3" r="2.7" fill="#5a7a74" filter="url(#bs)"/><circle cx="460.6" cy="376.0" r="3.2" fill="#e4efec" filter="url(#bs)"/><circle cx="453.0" cy="400.3" r="3.4" fill="#5a7a74" filter="url(#bs)"/><circle cx="489.6" cy="364.2" r="3.2" fill="#e4efec" filter="url(#bs)"/><circle cx="440.1" cy="345.9" r="2.6" fill="#cfe8e4" filter="url(#bs)"/><circle cx="428.8" cy="315.7" r="3.3" fill="#7a9a90" filter="url(#bs)"/><circle cx="425.7" cy="399.0" r="3.4" fill="#7a9a90" filter="url(#bs)"/><circle cx="409.2" cy="394.4" r="2.7" fill="#cfe8e4" filter="url(#bs)"/><circle cx="439.3" cy="363.6" r="2.8" fill="#7a9a90" filter="url(#bs)"/><circle cx="394.1" cy="380.3" r="3.0" fill="#5a7a74" filter="url(#bs)"/><circle cx="435.0" cy="364.1" r="3.4" fill="#7a9a90" filter="url(#bs)"/><circle cx="350.9" cy="386.5" r="3.0" fill="#7a9a90" filter="url(#bs)"/><circle cx="367.1" cy="415.5" r="3.2" fill="#e4efec" filter="url(#bs)"/><circle cx="363.2" cy="399.4" r="2.8" fill="#7a9a90" filter="url(#bs)"/><circle cx="455.8" cy="334.3" r="3.4" fill="#5a7a74" filter="url(#bs)"/><circle cx="457.5" cy="437.0" r="2.8" fill="#cfe8e4" filter="url(#bs)"/><circle cx="507.1" cy="351.1" r="2.8" fill="#e4efec" filter="url(#bs)"/><circle cx="416.4" cy="431.2" r="3.0" fill="#5a7a74" filter="url(#bs)"/><circle cx="471.8" cy="403.5" r="2.5" fill="#cfe8e4" filter="url(#bs)"/><circle cx="453.7" cy="419.9" r="2.4" fill="#e4efec" filter="url(#bs)"/><circle cx="419.5" cy="442.8" r="2.9" fill="#e4efec" filter="url(#bs)"/><circle cx="439.1" cy="313.9" r="2.7" fill="#5a7a74" filter="url(#bs)"/><circle cx="461.1" cy="396.4" r="2.6" fill="#cfe8e4" filter="url(#bs)"/><circle cx="376.5" cy="393.6" r="2.7" fill="#5a7a74" filter="url(#bs)"/><circle cx="510.0" cy="381.0" r="2.8" fill="#cfe8e4" filter="url(#bs)"/><circle cx="419.8" cy="332.4" r="2.4" fill="#cfe8e4" filter="url(#bs)"/><circle cx="387.8" cy="356.2" r="3.5" fill="#7a9a90" filter="url(#bs)"/><circle cx="426.6" cy="409.2" r="3.0" fill="#7a9a90" filter="url(#bs)"/><circle cx="443.0" cy="371.3" r="3.0" fill="#7a9a90" filter="url(#bs)"/><circle cx="371.2" cy="370.2" r="2.8" fill="#e4efec" filter="url(#bs)"/><circle cx="415.7" cy="427.5" r="2.5" fill="#cfe8e4" filter="url(#bs)"/><circle cx="414.7" cy="385.7" r="2.8" fill="#e4efec" filter="url(#bs)"/><circle cx="361.5" cy="381.8" r="2.9" fill="#5a7a74" filter="url(#bs)"/><circle cx="446.7" cy="337.5" r="2.9" fill="#e4efec" filter="url(#bs)"/><circle cx="454.6" cy="388.7" r="3.2" fill="#e4efec" filter="url(#bs)"/><circle cx="431.4" cy="408.2" r="2.8" fill="#5a7a74" filter="url(#bs)"/><circle cx="423.2" cy="373.2" r="3.0" fill="#5a7a74" filter="url(#bs)"/><circle cx="421.2" cy="392.4" r="2.5" fill="#7a9a90" filter="url(#bs)"/><circle cx="439.8" cy="391.4" r="2.7" fill="#5a7a74" filter="url(#bs)"/></g>
<path d="M390.1,305.4 A18.8,18.8 0 0 1 414.9,293.7 A18.8,18.8 0 0 1 444.2,296.3 A18.8,18.8 0 0 1 473.1,291.3 A18.8,18.8 0 0 1 491.1,312.1 A18.8,18.8 0 0 1 510.4,332.9 A18.8,18.8 0 0 1 533.5,350.6 A18.8,18.8 0 0 1 532.7,378.7 A18.8,18.8 0 0 1 511.8,398.8 A18.8,18.8 0 0 1 501.6,426.4 A18.8,18.8 0 0 1 482.6,447.9 A18.8,18.8 0 0 1 454.2,454.1 A18.8,18.8 0 0 1 425.2,458.5 A18.8,18.8 0 0 1 398.8,450.4 A18.8,18.8 0 0 1 384.8,429.8 A18.8,18.8 0 0 1 356.0,433.5 A18.8,18.8 0 0 1 330.4,420.5 A18.8,18.8 0 0 1 329.8,392.5 A18.8,18.8 0 0 1 344.3,367.0 A18.8,18.8 0 0 1 368.8,351.4 A18.8,18.8 0 0 1 388.3,334.7 A18.8,18.8 0 0 1 390.1,305.4Z" fill="none" stroke="#9aa39c" stroke-width="1.4" opacity="0.8"/>
<line x1="562" y1="171.4" x2="610" y2="217.5" stroke="#4f7db5" stroke-width="3.2"/>
<path d="M618.9,226.5 L600.9,220 L612.9,208.6 Z" fill="#4f7db5"/>
<line x1="597.9" y1="231.3" x2="546" y2="188" stroke="#4f7db5" stroke-width="3.2"/>
<path d="M538.6,180.4 L546.4,198.4 L557.7,185.2 Z" fill="#4f7db5"/>
<text x="57.5" y="67.6" font-size="34.0" font-weight="bold" fill="#000" font-family="'Liberation Sans', Arial, sans-serif" textLength="39.5" lengthAdjust="spacingAndGlyphs" >(a)</text>
<text x="202.0" y="260.7" font-size="54.0" font-weight="normal" fill="#7444a0" font-family="'Liberation Sans', Arial, sans-serif" textLength="203.5" lengthAdjust="spacingAndGlyphs" transform="rotate(-8.20 202.0 260.7)" filter="url(#tsh)" stroke="#7444a0" stroke-width="0.5">Electrolyte</text>
<text x="383.0" y="288.5" font-size="51.0" font-weight="normal" fill="#983c3c" font-family="'Liberation Sans', Arial, sans-serif" textLength="115.0" lengthAdjust="spacingAndGlyphs" transform="rotate(-7.50 383.0 288.5)" filter="url(#tsh)" stroke="#983c3c" stroke-width="0.5">V-film</text>
<text x="494.8" y="230.7" font-size="29.5" font-weight="bold" fill="#000" font-family="'Liberation Sans', Arial, sans-serif" textLength="149.0" lengthAdjust="spacingAndGlyphs" transform="rotate(-13.95 494.8 230.7)" >anion exchange</text>
<text x="633.0" y="176.3" font-size="30.0" font-weight="bold" fill="#000" font-family="'Liberation Sans', Arial, sans-serif" textLength="162.0" lengthAdjust="spacingAndGlyphs" transform="rotate(-38.40 633.0 176.3)" >FSI<tspan font-size="18" dy="-13">-</tspan><tspan dy="13"> rich region</tspan></text>
<text x="729.0" y="397.0" font-size="30.0" font-weight="bold" fill="#000" font-family="'Liberation Sans', Arial, sans-serif" textLength="109.5" lengthAdjust="spacingAndGlyphs" transform="rotate(-32.50 729.0 397.0)" >Bound FSI<tspan font-size="18" dy="-13">-</tspan></text>
<line x1="843.8" y1="26" x2="843.8" y2="467" stroke="#c0141e" stroke-width="4.2" stroke-dasharray="17 14.7" stroke-dashoffset="4.5"/>
<rect x="945.5" y="85.8" width="40.3" height="172.0" fill="#35fec2" stroke="#111" stroke-width="1.3"/>
<rect x="1008.5" y="85.8" width="40.3" height="168.8" fill="#e4ae30" stroke="#111" stroke-width="1.3"/>
<rect x="1072.3" y="85.8" width="40.3" height="220.2" fill="#30f8f8" stroke="#111" stroke-width="1.3"/>
<rect x="1135.8" y="85.8" width="40.3" height="233.7" fill="#b0561b" stroke="#111" stroke-width="1.3"/>
<rect x="1199.7" y="85.8" width="40.3" height="251.6" fill="#6ba417" stroke="#111" stroke-width="1.3"/>
<rect x="1264.0" y="85.8" width="40.3" height="262.4" fill="#ff0000" stroke="#111" stroke-width="1.3"/>
<rect x="945" y="85.8" width="359" height="379.4" fill="none" stroke="#000" stroke-width="2.6"/>
<line x1="937.5" y1="85.8" x2="945" y2="85.8" stroke="#000" stroke-width="2.6"/>
<line x1="937.5" y1="194.0" x2="945" y2="194.0" stroke="#000" stroke-width="2.6"/>
<line x1="937.5" y1="302.2" x2="945" y2="302.2" stroke="#000" stroke-width="2.6"/>
<line x1="937.5" y1="410.4" x2="945" y2="410.4" stroke="#000" stroke-width="2.6"/>
<line x1="941" y1="139.9" x2="945" y2="139.9" stroke="#000" stroke-width="2.4"/>
<line x1="941" y1="248.1" x2="945" y2="248.1" stroke="#000" stroke-width="2.4"/>
<line x1="941" y1="356.3" x2="945" y2="356.3" stroke="#000" stroke-width="2.4"/>
<line x1="1189.5" y1="31" x2="1189.5" y2="467" stroke="#e77fe7" stroke-width="4.6" stroke-dasharray="18.5 31.1"/>
<line x1="1189.5" y1="64.2" x2="1189.5" y2="467" stroke="#b496c4" stroke-width="4.6" stroke-dasharray="3.4 46.2"/>
<text x="932.5" y="95.4" font-size="35.0" font-weight="bold" fill="#000" font-family="'Liberation Sans', Arial, sans-serif" text-anchor="end" textLength="19.0" lengthAdjust="spacingAndGlyphs" >0</text>
<text x="932.5" y="203.6" font-size="35.0" font-weight="bold" fill="#000" font-family="'Liberation Sans', Arial, sans-serif" text-anchor="end" textLength="29.0" lengthAdjust="spacingAndGlyphs" >-2</text>
<text x="932.5" y="311.8" font-size="35.0" font-weight="bold" fill="#000" font-family="'Liberation Sans', Arial, sans-serif" text-anchor="end" textLength="29.0" lengthAdjust="spacingAndGlyphs" >-4</text>
<text x="932.5" y="420.0" font-size="35.0" font-weight="bold" fill="#000" font-family="'Liberation Sans', Arial, sans-serif" text-anchor="end" textLength="29.0" lengthAdjust="spacingAndGlyphs" >-6</text>
<text x="886.8" y="416.0" font-size="35.5" font-weight="bold" fill="#000" font-family="'Liberation Sans', Arial, sans-serif" textLength="320.0" lengthAdjust="spacingAndGlyphs" transform="rotate(-90.00 886.8 416.0)" >Binding energy (eV)</text>
<text x="871.0" y="68.8" font-size="35.0" font-weight="bold" fill="#000" font-family="'Liberation Sans', Arial, sans-serif" textLength="41.5" lengthAdjust="spacingAndGlyphs" >(b)</text>
<text x="957.0" y="68.2" font-size="38.5" font-weight="bold" fill="#7030a0" font-family="'Liberation Sans', Arial, sans-serif" font-style="italic" textLength="189.0" lengthAdjust="spacingAndGlyphs" >Electrolyte</text>
<text x="1203.0" y="70.0" font-size="38.5" font-weight="bold" fill="#c00000" font-family="'Liberation Sans', Arial, sans-serif" font-style="italic" textLength="104.0" lengthAdjust="spacingAndGlyphs" >V-film</text>
<text x="977.8" y="454.0" font-size="30.0" font-weight="normal" fill="#000" font-family="'Liberation Sans', Arial, sans-serif" textLength="236.0" lengthAdjust="spacingAndGlyphs" transform="rotate(-90.00 977.8 454.0)" stroke="#000" stroke-width="1.0">PF<tspan font-size="19" dy="7">6</tspan><tspan font-size="19" dy="-19">-</tspan><tspan dy="12">-Solvent layer</tspan></text>
<text x="1039.5" y="455.5" font-size="30.0" font-weight="normal" fill="#000" font-family="'Liberation Sans', Arial, sans-serif" textLength="228.0" lengthAdjust="spacingAndGlyphs" transform="rotate(-90.00 1039.5 455.5)" stroke="#000" stroke-width="1.0">FSI<tspan font-size="19" dy="-12">-</tspan><tspan dy="12">-Solvent layer</tspan></text>
<text x="1103.0" y="454.0" font-size="30.0" font-weight="normal" fill="#000" font-family="'Liberation Sans', Arial, sans-serif" textLength="216.0" lengthAdjust="spacingAndGlyphs" transform="rotate(-90.00 1103.0 454.0)" stroke="#000" stroke-width="1.0">PF<tspan font-size="19" dy="7">6</tspan><tspan font-size="19" dy="-19">-</tspan><tspan dy="12">-Solvated Li</tspan><tspan font-size="19" dy="-12">+</tspan></text>
<text x="1167.0" y="455.5" font-size="30.0" font-weight="normal" fill="#000" font-family="'Liberation Sans', Arial, sans-serif" textLength="211.0" lengthAdjust="spacingAndGlyphs" transform="rotate(-90.00 1167.0 455.5)" stroke="#000" stroke-width="1.0">FSI<tspan font-size="19" dy="-12">-</tspan><tspan dy="12">-Solvated Li</tspan><tspan font-size="19" dy="-12">+</tspan></text>
<text x="1232.6" y="451.5" font-size="30.0" font-weight="normal" fill="#000" font-family="'Liberation Sans', Arial, sans-serif" textLength="186.0" lengthAdjust="spacingAndGlyphs" transform="rotate(-90.00 1232.6 451.5)" stroke="#000" stroke-width="1.0">PF<tspan font-size="19" dy="7">6</tspan><tspan font-size="19" dy="-19">-</tspan><tspan dy="12">-PolyVMI</tspan><tspan font-size="19" dy="-12">+</tspan></text>
<text x="1297.0" y="452.5" font-size="30.0" font-weight="normal" fill="#000" font-family="'Liberation Sans', Arial, sans-serif" textLength="180.0" lengthAdjust="spacingAndGlyphs" transform="rotate(-90.00 1297.0 452.5)" stroke="#000" stroke-width="1.0">FSI<tspan font-size="19" dy="-12">-</tspan><tspan dy="12">-PolyVMI</tspan><tspan font-size="19" dy="-12">+</tspan></text>
<rect x="37" y="22.8" width="1278.5" height="447.5" rx="3" fill="none" stroke="#1f3046" stroke-width="5.6"/>
<g clip-path="url(#cc)"><rect x="124" y="570" width="280" height="210" fill="#7b7b7b"/><rect x="124" y="570" width="279.5" height="209.5" filter="url(#gnoise)" style="mix-blend-mode:overlay" opacity="0.13"/></g>
<g clip-path="url(#cd)"><rect x="426" y="570" width="282" height="213" fill="#777777"/><ellipse cx="520" cy="730" rx="25" ry="30" fill="#8a8a8a" opacity="0.5" filter="url(#blur4)"/><rect x="426.3" y="570" width="280.7" height="212.7" filter="url(#gnoise)" style="mix-blend-mode:overlay" opacity="0.13"/></g>
<g clip-path="url(#ce)"><rect x="725" y="568" width="283" height="214" fill="#868686"/><ellipse cx="900" cy="595" rx="60" ry="18" fill="#7c7c7c" opacity="0.6" filter="url(#blur4)"/><path d="M764,649 C773,650 783,654 790,659" stroke="#5a5a5a" stroke-width="8" fill="none" stroke-linecap="round" filter="url(#blur3)"/><path d="M796,658 C805,662 814,667 820,671" stroke="#555555" stroke-width="9" fill="none" stroke-linecap="round" filter="url(#blur3)"/><path d="M728,686 C745,690 760,697 775,703 C790,708 805,712 814,716" stroke="#646464" stroke-width="6" fill="none" filter="url(#blur2)"/><path d="M772,703 C776,715 780,725 784,735" stroke="#626262" stroke-width="6" fill="none" filter="url(#blur2)"/><circle cx="770" cy="697" r="3" fill="#cacaca" filter="url(#blur1)"/><path d="M727,728 C732,745 738,760 735,782" stroke="#d4d4d4" stroke-width="2" fill="none"/><path d="M838,618 C846,615 854,612 861,609" stroke="#9c9c9c" stroke-width="2.5" fill="none" filter="url(#blur1)"/><rect x="725" y="568.2" width="282.6" height="213.6" filter="url(#gnoise)" style="mix-blend-mode:overlay" opacity="0.13"/></g>
<g clip-path="url(#cf)"><rect x="1028" y="566" width="286" height="214" fill="#8c8c8c"/><path d="M1028,566 L1080,566 L1028,594 Z" fill="#cfcfcf" filter="url(#blur2)"/><path d="M1060,689 L1090,681 M1092,671 L1122,660 M1124,655 L1145,647 M1147,637 L1176,628 M1178,625 L1200,617 M1210,601 L1234,595" stroke="#d2d2d2" stroke-width="5.5" fill="none" stroke-linecap="round" filter="url(#blur2)"/><path d="M1187,638 C1210,650 1240,660 1282,686" stroke="#a6a6a6" stroke-width="2.5" fill="none" filter="url(#blur1)"/><path d="M1200,660 C1215,668 1225,675 1240,690" stroke="#9a9a9a" stroke-width="2" fill="none" filter="url(#blur1)"/><circle cx="1222" cy="685" r="4" fill="#b8b8b8" filter="url(#blur1)"/><circle cx="1245" cy="700" r="3.5" fill="#aaaaaa" filter="url(#blur1)"/><rect x="1028.2" y="566.9" width="284.8" height="212.6" filter="url(#gnoise)" style="mix-blend-mode:overlay" opacity="0.13"/></g>
<g clip-path="url(#cg)"><rect x="123" y="799" width="283" height="214" fill="#838383"/><rect x="123" y="799" width="283" height="107" fill="#cecece"/><path d="M123,905 C200,906 260,902 300,903 C350,905 380,908 406,907 L406,928 L123,928 Z" fill="#7a7a7a"/><path d="M123,928 C200,930 300,928 406,927" stroke="#b0b0b0" stroke-width="2" fill="none"/><line x1="150" y1="930" x2="150" y2="1012" stroke="#999" stroke-width="1.5" opacity="0.6"/><line x1="172" y1="930" x2="172" y2="1012" stroke="#999" stroke-width="1.5" opacity="0.6"/><line x1="205" y1="930" x2="205" y2="1012" stroke="#999" stroke-width="1.5" opacity="0.6"/><line x1="245" y1="930" x2="245" y2="1012" stroke="#999" stroke-width="1.5" opacity="0.6"/><line x1="258" y1="930" x2="258" y2="1012" stroke="#999" stroke-width="1.5" opacity="0.6"/><line x1="290" y1="930" x2="290" y2="1012" stroke="#999" stroke-width="1.5" opacity="0.6"/><line x1="330" y1="930" x2="330" y2="1012" stroke="#999" stroke-width="1.5" opacity="0.6"/><line x1="360" y1="930" x2="360" y2="1012" stroke="#999" stroke-width="1.5" opacity="0.6"/><line x1="385" y1="930" x2="385" y2="1012" stroke="#999" stroke-width="1.5" opacity="0.6"/><rect x="123.8" y="799.5" width="281.2" height="213.2" filter="url(#gnoise)" style="mix-blend-mode:overlay" opacity="0.13"/></g>
<g clip-path="url(#ch)"><rect x="427" y="799" width="280" height="214" fill="#6a6a6a"/><path d="M427,799 L707,799 L707,876 C650,880 600,888 570,890 C520,886 470,884 427,884 Z" fill="#4e4e4e"/><path d="M427,885 C470,884 520,886 570,890 C610,886 660,880 707,876" stroke="#9a9a9a" stroke-width="2.5" fill="none"/><rect x="427" y="888" width="280" height="28" fill="#5c5c5c"/><path d="M427,920 C500,922 600,920 707,918 L707,945 L427,948 Z" fill="#8a8a8a"/><path d="M427,958 L707,952 L707,1013 L427,1013 Z" fill="#646464"/><path d="M427,925 C500,927 600,924 707,922 M427,933 C520,935 610,932 707,930 M427,941 C500,944 620,941 707,939" stroke="#a2a2a2" stroke-width="1.5" fill="none" opacity="0.8"/><path d="M440,1000 C450,990 460,995 470,985 C480,992 490,985 500,990 M455,1012 C460,1000 470,1005 480,998 M510,1000 C520,990 535,995 545,985 M540,1012 C545,1000 550,990 560,985" stroke="#9a9a9a" stroke-width="2" fill="none" opacity="0.8"/><ellipse cx="500" cy="995" rx="60" ry="14" fill="#7a7a7a" opacity="0.6" filter="url(#blur4)"/><path d="M500,895 C505,900 510,898 515,905 M530,895 C535,902 540,898 545,906 M470,900 l6,4 M600,898 l5,6" stroke="#8a8a8a" stroke-width="2" fill="none"/><rect x="427.8" y="799.5" width="278.9" height="213.2" filter="url(#gnoise)" style="mix-blend-mode:overlay" opacity="0.13"/></g>
<g clip-path="url(#ci)"><rect x="726" y="797" width="282" height="216" fill="#8b8b8b"/><path d="M726,874 C740,872 760,873 768,882 C780,883 783,858 790,857 C805,858 815,866 830,872 C850,868 880,866 910,868 C940,873 970,882 990,882 L1008,878 L1008,920 L726,912 Z" fill="#6b6b6b"/><path d="M726,872 C740,870 760,873 768,882 C780,884 783,858 790,856 C805,857 815,866 830,871 C850,867 880,865 910,867 C940,872 970,881 990,881 L1008,877" stroke="#e0e0e0" stroke-width="3" fill="none"/><path d="M726,912 L1008,920 L1008,1013 L726,1013 Z" fill="#929292"/><line x1="745" y1="925" x2="747" y2="1012" stroke="#b0b0b0" stroke-width="1.5" opacity="0.6"/><line x1="775" y1="925" x2="777" y2="1012" stroke="#b0b0b0" stroke-width="1.5" opacity="0.6"/><line x1="800" y1="925" x2="802" y2="1012" stroke="#b0b0b0" stroke-width="1.5" opacity="0.6"/><line x1="845" y1="925" x2="847" y2="1012" stroke="#b0b0b0" stroke-width="1.5" opacity="0.6"/><line x1="885" y1="925" x2="887" y2="1012" stroke="#b0b0b0" stroke-width="1.5" opacity="0.6"/><line x1="935" y1="925" x2="937" y2="1012" stroke="#b0b0b0" stroke-width="1.5" opacity="0.6"/><line x1="960" y1="925" x2="962" y2="1012" stroke="#b0b0b0" stroke-width="1.5" opacity="0.6"/><line x1="990" y1="925" x2="992" y2="1012" stroke="#b0b0b0" stroke-width="1.5" opacity="0.6"/><rect x="726" y="797.7" width="281.8" height="215.0" filter="url(#gnoise)" style="mix-blend-mode:overlay" opacity="0.13"/></g>
<g clip-path="url(#cj)"><rect x="1030" y="800" width="282" height="213" fill="#626262"/><path d="M1030,800 L1312,800 L1312,890 C1290,896 1270,899 1250,899 C1220,900 1195,902 1185,896 C1150,895 1100,893 1060,890 L1030,887 Z" fill="#8f8f8f"/><path d="M1030,893 L1312,893 L1312,940 L1030,938 Z" fill="#575757" opacity="0.9"/><path d="M1050,830 C1100,835 1150,830 1200,836 M1220,840 C1250,835 1280,833 1300,830 M1230,850 C1260,848 1290,846 1310,844" stroke="#aaa" stroke-width="1.5" fill="none"/><path d="M1120,945 C1125,970 1118,990 1122,1012 M1140,945 C1138,965 1146,990 1142,1012 M1230,945 C1225,960 1210,970 1200,985" stroke="#8a8a8a" stroke-width="2" fill="none"/><rect x="1030.3" y="800.5" width="281.7" height="212.2" filter="url(#gnoise)" style="mix-blend-mode:overlay" opacity="0.13"/></g>
<path d="M428,882 C470,880 520,883 570,886 C610,882 660,877 707,872" stroke="#ff1a1a" stroke-width="3.2" fill="none" stroke-dasharray="9 5 3 5" clip-path="url(#ch)"/>
<path d="M428,914 C500,916 600,916 707,915" stroke="#ff1a1a" stroke-width="3.2" fill="none" stroke-dasharray="9 5 3 5" clip-path="url(#ch)"/>
<path d="M726,872 C740,870 760,873 768,880 C780,882 783,860 790,859 C805,860 815,868 830,872 C850,869 880,867 910,869 C940,873 970,882 990,882 L1008,879" stroke="#ff1a1a" stroke-width="3.2" fill="none" stroke-dasharray="9 5 3 5" clip-path="url(#ci)"/>
<path d="M726,910 C800,912 900,916 1008,919" stroke="#ff1a1a" stroke-width="3.2" fill="none" stroke-dasharray="9 5 3 5" clip-path="url(#ci)"/>
<path d="M1030,887 C1060,890 1100,894 1180,895 C1190,902 1220,901 1260,899 C1280,896 1300,892 1312,890" stroke="#ff1a1a" stroke-width="3.2" fill="none" stroke-dasharray="9 5 3 5" clip-path="url(#cj)"/>
<path d="M1030,937 C1100,937 1200,938 1312,938" stroke="#ff1a1a" stroke-width="3.2" fill="none" stroke-dasharray="9 5 3 5" clip-path="url(#cj)"/>
<rect x="126.5" y="1044.5" width="281.3" height="213.7" fill="#000"/>
<rect x="126.5" y="1044.5" width="281.3" height="213.7" fill="#000" filter="url(#ssk)"/>
<g mask="url(#mkk)"><rect x="126.5" y="1044.5" width="281.3" height="213.7" fill="#2a002a"/><rect x="126.5" y="1044.5" width="281.3" height="213.7" fill="#000" filter="url(#spk)"/></g>
<rect x="429.2" y="1044.5" width="283.8" height="213.7" fill="#000"/>
<rect x="429.2" y="1044.5" width="283.8" height="213.7" fill="#000" filter="url(#ssl)"/>
<g mask="url(#mkl)"><rect x="429.2" y="1044.5" width="283.8" height="213.7" fill="#2a0000"/><rect x="429.2" y="1044.5" width="283.8" height="213.7" fill="#000" filter="url(#spl)"/></g>
<rect x="729.5" y="1043.0" width="280.8" height="214.3" fill="#000"/>
<rect x="729.5" y="1043.0" width="280.8" height="214.3" fill="#000" filter="url(#ssm)"/>
<g mask="url(#mkm)"><rect x="729.5" y="1043.0" width="280.8" height="214.3" fill="#001414"/><rect x="729.5" y="1043.0" width="280.8" height="214.3" fill="#000" filter="url(#spm)"/></g>
<rect x="1021.4" y="1042.0" width="287.0" height="213.0" fill="#000"/>
<rect x="1021.4" y="1042.0" width="287.0" height="213.0" fill="#000" filter="url(#ssn)"/>
<g mask="url(#mkn)"><rect x="1021.4" y="1042.0" width="287.0" height="213.0" fill="#000000"/><rect x="1021.4" y="1042.0" width="287.0" height="213.0" fill="#000" filter="url(#spn)"/></g>
<g filter="url(#blur05)"><circle cx="820.8" cy="1064.2" r="1.9" fill="#22caca"/><circle cx="912.0" cy="1053.7" r="1.9" fill="#22caca"/><circle cx="879.9" cy="1093.0" r="1.8" fill="#1cb8b8"/><circle cx="746.7" cy="1112.0" r="1.7" fill="#1cb8b8"/><circle cx="741.0" cy="1102.1" r="2.1" fill="#2ad4d4"/><circle cx="750.0" cy="1056.2" r="2.2" fill="#1cb8b8"/><circle cx="848.9" cy="1154.8" r="2.4" fill="#18a0a0"/><circle cx="792.7" cy="1128.1" r="1.8" fill="#1cb8b8"/><circle cx="994.7" cy="1121.3" r="1.8" fill="#2ad4d4"/><circle cx="841.1" cy="1174.8" r="2.0" fill="#18a0a0"/><circle cx="969.8" cy="1082.8" r="1.9" fill="#1cb8b8"/><circle cx="770.7" cy="1059.8" r="2.1" fill="#18a0a0"/><circle cx="816.5" cy="1153.4" r="2.5" fill="#1cb8b8"/><circle cx="892.7" cy="1129.6" r="2.5" fill="#1cb8b8"/><circle cx="834.3" cy="1117.4" r="2.2" fill="#2ad4d4"/><circle cx="748.0" cy="1052.0" r="2.2" fill="#18a0a0"/><circle cx="787.9" cy="1135.2" r="2.1" fill="#2ad4d4"/><circle cx="849.7" cy="1086.1" r="2.2" fill="#18a0a0"/><circle cx="893.8" cy="1104.7" r="1.7" fill="#1cb8b8"/><circle cx="814.1" cy="1150.4" r="2.3" fill="#22caca"/><circle cx="798.6" cy="1121.0" r="2.1" fill="#22caca"/><circle cx="847.1" cy="1145.5" r="2.3" fill="#2ad4d4"/><circle cx="772.9" cy="1109.5" r="1.6" fill="#18a0a0"/><circle cx="741.4" cy="1133.5" r="1.9" fill="#1cb8b8"/><circle cx="943.7" cy="1120.8" r="2.3" fill="#18a0a0"/><circle cx="974.6" cy="1086.0" r="2.4" fill="#1cb8b8"/><circle cx="924.3" cy="1123.6" r="1.9" fill="#1cb8b8"/><circle cx="892.2" cy="1105.1" r="1.7" fill="#22caca"/><circle cx="915.7" cy="1052.1" r="2.4" fill="#2ad4d4"/><circle cx="926.1" cy="1130.7" r="1.8" fill="#2ad4d4"/><circle cx="1007.4" cy="1154.1" r="1.7" fill="#2ad4d4"/><circle cx="838.1" cy="1133.6" r="1.7" fill="#2ad4d4"/><circle cx="736.8" cy="1105.9" r="1.9" fill="#18a0a0"/><circle cx="777.4" cy="1059.7" r="2.4" fill="#18a0a0"/><circle cx="746.9" cy="1146.9" r="2.4" fill="#18a0a0"/><circle cx="766.6" cy="1077.2" r="2.5" fill="#1cb8b8"/><circle cx="839.5" cy="1160.8" r="1.6" fill="#1cb8b8"/><circle cx="855.7" cy="1117.6" r="2.5" fill="#2ad4d4"/><circle cx="808.1" cy="1099.6" r="2.3" fill="#22caca"/><circle cx="772.6" cy="1067.6" r="1.8" fill="#18a0a0"/><circle cx="795.2" cy="1075.3" r="2.0" fill="#18a0a0"/><circle cx="865.7" cy="1122.9" r="1.8" fill="#22caca"/><circle cx="803.8" cy="1044.5" r="1.9" fill="#22caca"/><circle cx="847.3" cy="1093.5" r="2.3" fill="#1cb8b8"/><circle cx="874.2" cy="1126.8" r="2.0" fill="#22caca"/><circle cx="919.0" cy="1051.2" r="2.0" fill="#1cb8b8"/><circle cx="981.3" cy="1148.5" r="1.8" fill="#2ad4d4"/><circle cx="952.9" cy="1096.6" r="2.2" fill="#22caca"/><circle cx="841.7" cy="1057.9" r="2.2" fill="#1cb8b8"/><circle cx="907.3" cy="1052.3" r="2.2" fill="#1cb8b8"/><circle cx="749.3" cy="1072.0" r="2.5" fill="#2ad4d4"/><circle cx="775.8" cy="1089.6" r="2.5" fill="#2ad4d4"/><circle cx="745.2" cy="1044.0" r="2.4" fill="#22caca"/><circle cx="772.7" cy="1057.6" r="2.5" fill="#2ad4d4"/><circle cx="831.9" cy="1047.4" r="2.6" fill="#22caca"/><circle cx="974.3" cy="1126.3" r="1.6" fill="#22caca"/><circle cx="771.9" cy="1077.8" r="1.8" fill="#2ad4d4"/><circle cx="827.4" cy="1092.8" r="2.3" fill="#2ad4d4"/><circle cx="860.4" cy="1108.8" r="2.0" fill="#22caca"/><circle cx="754.4" cy="1057.7" r="2.6" fill="#18a0a0"/><circle cx="826.0" cy="1079.5" r="1.9" fill="#1cb8b8"/><circle cx="961.6" cy="1065.6" r="1.9" fill="#22caca"/><circle cx="771.4" cy="1116.8" r="2.0" fill="#18a0a0"/><circle cx="738.0" cy="1114.8" r="2.3" fill="#2ad4d4"/><circle cx="803.3" cy="1093.1" r="2.1" fill="#18a0a0"/><circle cx="777.1" cy="1147.4" r="2.0" fill="#1cb8b8"/><circle cx="879.0" cy="1148.4" r="2.1" fill="#1cb8b8"/><circle cx="968.2" cy="1152.0" r="1.6" fill="#1cb8b8"/><circle cx="936.8" cy="1074.4" r="1.8" fill="#2ad4d4"/><circle cx="874.8" cy="1091.6" r="2.6" fill="#1cb8b8"/><circle cx="738.6" cy="1047.7" r="2.1" fill="#1cb8b8"/><circle cx="808.4" cy="1078.7" r="2.6" fill="#1cb8b8"/><circle cx="832.2" cy="1073.5" r="2.0" fill="#1cb8b8"/><circle cx="793.7" cy="1070.4" r="1.7" fill="#18a0a0"/><circle cx="787.5" cy="1127.6" r="1.7" fill="#2ad4d4"/><circle cx="981.5" cy="1156.6" r="2.3" fill="#18a0a0"/><circle cx="912.6" cy="1151.2" r="2.3" fill="#1cb8b8"/><circle cx="939.6" cy="1108.1" r="2.1" fill="#22caca"/><circle cx="780.3" cy="1149.7" r="1.7" fill="#18a0a0"/><circle cx="777.9" cy="1061.0" r="2.3" fill="#2ad4d4"/><circle cx="913.7" cy="1091.0" r="2.5" fill="#1cb8b8"/><circle cx="883.5" cy="1061.6" r="2.2" fill="#1cb8b8"/><circle cx="973.5" cy="1154.7" r="1.9" fill="#1cb8b8"/><circle cx="800.7" cy="1083.3" r="2.1" fill="#22caca"/><circle cx="797.6" cy="1122.6" r="2.3" fill="#1cb8b8"/><circle cx="802.8" cy="1100.1" r="2.2" fill="#1cb8b8"/><circle cx="767.0" cy="1165.9" r="2.4" fill="#18a0a0"/><circle cx="858.2" cy="1122.2" r="2.4" fill="#18a0a0"/><circle cx="982.6" cy="1100.4" r="2.3" fill="#22caca"/><circle cx="986.4" cy="1111.2" r="2.0" fill="#22caca"/><circle cx="878.8" cy="1114.1" r="1.6" fill="#1cb8b8"/><circle cx="735.7" cy="1103.0" r="1.9" fill="#2ad4d4"/><circle cx="781.6" cy="1044.5" r="2.3" fill="#22caca"/><circle cx="953.3" cy="1067.1" r="2.6" fill="#18a0a0"/><circle cx="862.5" cy="1141.2" r="1.9" fill="#1cb8b8"/><circle cx="885.6" cy="1087.7" r="2.2" fill="#18a0a0"/><circle cx="875.0" cy="1118.4" r="1.8" fill="#2ad4d4"/><circle cx="949.2" cy="1058.2" r="1.6" fill="#22caca"/><circle cx="886.7" cy="1077.3" r="2.6" fill="#18a0a0"/><circle cx="807.7" cy="1147.5" r="1.7" fill="#18a0a0"/><circle cx="872.1" cy="1119.3" r="2.6" fill="#2ad4d4"/><circle cx="901.3" cy="1111.7" r="1.7" fill="#2ad4d4"/><circle cx="873.3" cy="1136.8" r="2.6" fill="#18a0a0"/><circle cx="856.6" cy="1115.5" r="1.8" fill="#18a0a0"/><circle cx="768.7" cy="1060.3" r="1.6" fill="#2ad4d4"/><circle cx="853.8" cy="1053.7" r="2.2" fill="#22caca"/><circle cx="797.6" cy="1053.8" r="2.3" fill="#2ad4d4"/><circle cx="917.1" cy="1149.0" r="1.7" fill="#22caca"/><circle cx="773.6" cy="1140.0" r="1.6" fill="#22caca"/><circle cx="914.6" cy="1063.2" r="2.4" fill="#18a0a0"/><circle cx="996.1" cy="1097.4" r="2.0" fill="#2ad4d4"/><circle cx="775.5" cy="1101.8" r="1.7" fill="#1cb8b8"/><circle cx="874.3" cy="1089.4" r="2.3" fill="#2ad4d4"/><circle cx="785.1" cy="1086.7" r="2.0" fill="#2ad4d4"/><circle cx="931.8" cy="1046.6" r="1.9" fill="#2ad4d4"/><circle cx="885.0" cy="1103.0" r="1.7" fill="#2ad4d4"/><circle cx="735.5" cy="1088.4" r="2.4" fill="#2ad4d4"/><circle cx="904.5" cy="1112.6" r="1.8" fill="#2ad4d4"/><circle cx="1001.4" cy="1058.0" r="1.7" fill="#22caca"/><circle cx="804.5" cy="1049.3" r="2.5" fill="#18a0a0"/><circle cx="947.7" cy="1080.2" r="2.1" fill="#1cb8b8"/><circle cx="766.6" cy="1100.6" r="2.3" fill="#18a0a0"/><circle cx="984.6" cy="1153.7" r="2.2" fill="#2ad4d4"/><circle cx="925.8" cy="1056.0" r="1.7" fill="#22caca"/><circle cx="746.5" cy="1136.2" r="1.8" fill="#1cb8b8"/><circle cx="849.1" cy="1053.7" r="2.2" fill="#18a0a0"/><circle cx="992.1" cy="1129.0" r="1.7" fill="#18a0a0"/><circle cx="954.0" cy="1055.2" r="2.5" fill="#22caca"/><circle cx="969.2" cy="1052.9" r="1.8" fill="#18a0a0"/><circle cx="971.0" cy="1104.8" r="1.6" fill="#2ad4d4"/><circle cx="825.1" cy="1118.1" r="1.7" fill="#18a0a0"/><circle cx="988.9" cy="1079.9" r="2.3" fill="#22caca"/><circle cx="766.5" cy="1114.6" r="2.5" fill="#18a0a0"/><circle cx="797.0" cy="1058.7" r="2.0" fill="#22caca"/><circle cx="775.5" cy="1050.8" r="2.5" fill="#1cb8b8"/><circle cx="786.8" cy="1085.8" r="2.0" fill="#1cb8b8"/><circle cx="815.5" cy="1145.8" r="2.0" fill="#22caca"/><circle cx="811.3" cy="1111.0" r="2.2" fill="#2ad4d4"/><circle cx="780.1" cy="1090.5" r="1.7" fill="#18a0a0"/><circle cx="735.6" cy="1077.6" r="2.1" fill="#2ad4d4"/><circle cx="734.8" cy="1142.2" r="2.6" fill="#18a0a0"/><circle cx="884.1" cy="1069.4" r="2.6" fill="#1cb8b8"/><circle cx="862.9" cy="1169.2" r="2.4" fill="#22caca"/><circle cx="958.8" cy="1101.9" r="2.3" fill="#22caca"/><circle cx="868.5" cy="1155.8" r="2.2" fill="#2ad4d4"/><circle cx="871.8" cy="1136.2" r="2.2" fill="#2ad4d4"/><circle cx="1004.4" cy="1089.9" r="2.6" fill="#18a0a0"/><circle cx="962.5" cy="1138.7" r="2.3" fill="#18a0a0"/><circle cx="907.8" cy="1098.2" r="1.9" fill="#1cb8b8"/><circle cx="827.4" cy="1051.3" r="2.1" fill="#2ad4d4"/><circle cx="766.7" cy="1053.5" r="2.4" fill="#22caca"/><circle cx="937.1" cy="1078.2" r="2.3" fill="#1cb8b8"/><circle cx="776.0" cy="1055.3" r="2.3" fill="#18a0a0"/><circle cx="809.1" cy="1076.5" r="2.3" fill="#1cb8b8"/><circle cx="812.2" cy="1105.6" r="2.2" fill="#2ad4d4"/><circle cx="774.4" cy="1103.7" r="2.0" fill="#18a0a0"/><circle cx="883.0" cy="1076.8" r="2.2" fill="#1cb8b8"/><circle cx="999.7" cy="1085.5" r="1.9" fill="#18a0a0"/><circle cx="829.9" cy="1044.1" r="1.8" fill="#1cb8b8"/><circle cx="836.9" cy="1107.6" r="2.1" fill="#1cb8b8"/><circle cx="870.7" cy="1070.9" r="1.8" fill="#22caca"/><circle cx="871.2" cy="1044.7" r="2.2" fill="#2ad4d4"/><circle cx="804.2" cy="1056.0" r="2.1" fill="#1cb8b8"/><circle cx="841.9" cy="1049.6" r="2.3" fill="#2ad4d4"/><circle cx="736.8" cy="1084.8" r="2.2" fill="#1cb8b8"/><circle cx="795.4" cy="1122.5" r="2.1" fill="#1cb8b8"/><circle cx="878.0" cy="1144.6" r="2.3" fill="#22caca"/><circle cx="913.8" cy="1139.9" r="2.5" fill="#22caca"/><circle cx="975.6" cy="1096.2" r="2.4" fill="#22caca"/><circle cx="932.4" cy="1130.2" r="2.5" fill="#1cb8b8"/><circle cx="905.4" cy="1142.3" r="2.2" fill="#22caca"/><circle cx="956.9" cy="1062.7" r="2.1" fill="#22caca"/><circle cx="876.5" cy="1111.6" r="2.1" fill="#18a0a0"/><circle cx="963.3" cy="1151.8" r="2.2" fill="#1cb8b8"/><circle cx="923.8" cy="1074.8" r="1.7" fill="#22caca"/><circle cx="739.2" cy="1061.8" r="2.0" fill="#22caca"/><circle cx="831.1" cy="1058.1" r="2.0" fill="#22caca"/><circle cx="963.5" cy="1118.8" r="2.3" fill="#22caca"/><circle cx="905.5" cy="1127.9" r="2.1" fill="#1cb8b8"/><circle cx="920.3" cy="1109.6" r="2.3" fill="#22caca"/><circle cx="731.4" cy="1150.9" r="2.5" fill="#18a0a0"/><circle cx="870.7" cy="1115.7" r="2.2" fill="#22caca"/><circle cx="914.3" cy="1052.9" r="2.2" fill="#1cb8b8"/><circle cx="935.9" cy="1077.8" r="1.8" fill="#2ad4d4"/><circle cx="751.3" cy="1079.6" r="2.4" fill="#2ad4d4"/><circle cx="933.8" cy="1071.5" r="2.4" fill="#22caca"/><circle cx="837.2" cy="1108.2" r="1.8" fill="#22caca"/><circle cx="921.1" cy="1146.8" r="2.3" fill="#2ad4d4"/><circle cx="902.5" cy="1130.1" r="2.4" fill="#22caca"/><circle cx="752.1" cy="1063.8" r="1.7" fill="#2ad4d4"/><circle cx="801.3" cy="1143.6" r="2.4" fill="#2ad4d4"/><circle cx="815.4" cy="1120.1" r="1.6" fill="#22caca"/><circle cx="734.0" cy="1052.1" r="1.9" fill="#1cb8b8"/><circle cx="805.4" cy="1134.0" r="2.3" fill="#1cb8b8"/><circle cx="923.5" cy="1134.5" r="2.4" fill="#22caca"/><circle cx="811.6" cy="1113.2" r="1.7" fill="#18a0a0"/><circle cx="860.0" cy="1106.5" r="2.1" fill="#22caca"/><circle cx="763.5" cy="1163.8" r="2.4" fill="#22caca"/><circle cx="1003.2" cy="1169.5" r="1.8" fill="#1cb8b8"/><circle cx="855.8" cy="1080.0" r="2.5" fill="#2ad4d4"/><circle cx="789.0" cy="1170.7" r="2.4" fill="#18a0a0"/><circle cx="892.6" cy="1063.0" r="2.1" fill="#2ad4d4"/><circle cx="876.6" cy="1171.7" r="2.5" fill="#2ad4d4"/><circle cx="959.2" cy="1112.2" r="1.6" fill="#22caca"/><circle cx="977.8" cy="1138.2" r="2.1" fill="#1cb8b8"/><circle cx="737.4" cy="1044.5" r="2.5" fill="#18a0a0"/><circle cx="867.6" cy="1104.4" r="1.7" fill="#22caca"/><circle cx="814.7" cy="1062.9" r="2.4" fill="#18a0a0"/><circle cx="826.4" cy="1086.4" r="2.3" fill="#1cb8b8"/><circle cx="964.8" cy="1044.2" r="2.0" fill="#18a0a0"/><circle cx="939.8" cy="1156.4" r="2.0" fill="#22caca"/><circle cx="988.8" cy="1139.5" r="1.9" fill="#1cb8b8"/><circle cx="981.9" cy="1082.8" r="2.2" fill="#1cb8b8"/><circle cx="834.3" cy="1096.6" r="1.8" fill="#22caca"/><circle cx="1009.0" cy="1122.9" r="2.3" fill="#2ad4d4"/><circle cx="831.1" cy="1101.4" r="2.2" fill="#2ad4d4"/><circle cx="807.2" cy="1050.5" r="2.5" fill="#18a0a0"/><circle cx="758.9" cy="1155.8" r="1.6" fill="#2ad4d4"/><circle cx="991.3" cy="1077.4" r="1.9" fill="#18a0a0"/><circle cx="804.6" cy="1112.5" r="1.8" fill="#22caca"/><circle cx="783.4" cy="1094.0" r="2.2" fill="#22caca"/><circle cx="883.6" cy="1140.4" r="1.9" fill="#1cb8b8"/><circle cx="744.3" cy="1142.1" r="1.7" fill="#2ad4d4"/><circle cx="856.2" cy="1144.9" r="2.0" fill="#2ad4d4"/><circle cx="910.2" cy="1082.4" r="2.6" fill="#1cb8b8"/><circle cx="744.2" cy="1168.2" r="2.5" fill="#22caca"/><circle cx="862.1" cy="1090.1" r="2.5" fill="#22caca"/><circle cx="813.5" cy="1143.0" r="2.2" fill="#18a0a0"/><circle cx="1002.7" cy="1078.9" r="2.0" fill="#22caca"/><circle cx="913.4" cy="1084.3" r="2.4" fill="#2ad4d4"/><circle cx="885.9" cy="1096.8" r="2.5" fill="#1cb8b8"/><circle cx="777.2" cy="1065.7" r="2.3" fill="#1cb8b8"/><circle cx="855.9" cy="1062.7" r="2.6" fill="#2ad4d4"/><circle cx="784.1" cy="1056.2" r="2.3" fill="#2ad4d4"/><circle cx="825.8" cy="1056.2" r="2.0" fill="#1cb8b8"/><circle cx="797.2" cy="1078.6" r="1.9" fill="#18a0a0"/><circle cx="845.6" cy="1099.5" r="2.3" fill="#2ad4d4"/><circle cx="876.6" cy="1094.5" r="2.1" fill="#18a0a0"/><circle cx="824.8" cy="1052.3" r="2.4" fill="#1cb8b8"/><circle cx="807.9" cy="1173.7" r="1.8" fill="#2ad4d4"/><circle cx="870.8" cy="1128.4" r="1.6" fill="#1cb8b8"/><circle cx="971.1" cy="1072.9" r="2.0" fill="#18a0a0"/><circle cx="806.1" cy="1077.3" r="2.2" fill="#18a0a0"/><circle cx="842.0" cy="1103.7" r="2.5" fill="#2ad4d4"/><circle cx="736.6" cy="1048.3" r="1.7" fill="#22caca"/><circle cx="894.2" cy="1044.0" r="1.9" fill="#2ad4d4"/><circle cx="760.9" cy="1064.7" r="1.7" fill="#2ad4d4"/><circle cx="876.1" cy="1135.4" r="2.2" fill="#1cb8b8"/><circle cx="993.0" cy="1140.7" r="2.2" fill="#22caca"/><circle cx="911.0" cy="1146.5" r="2.2" fill="#2ad4d4"/><circle cx="858.0" cy="1117.9" r="2.0" fill="#18a0a0"/><circle cx="741.5" cy="1148.8" r="2.3" fill="#18a0a0"/><circle cx="987.0" cy="1130.5" r="2.4" fill="#22caca"/><circle cx="815.2" cy="1061.1" r="2.5" fill="#2ad4d4"/><circle cx="800.7" cy="1129.3" r="2.5" fill="#2ad4d4"/><circle cx="925.3" cy="1059.0" r="2.4" fill="#22caca"/><circle cx="750.1" cy="1114.3" r="1.8" fill="#2ad4d4"/><circle cx="893.0" cy="1096.0" r="1.8" fill="#22caca"/><circle cx="792.8" cy="1124.5" r="2.0" fill="#18a0a0"/><circle cx="733.4" cy="1084.4" r="2.5" fill="#2ad4d4"/><circle cx="976.9" cy="1107.7" r="1.8" fill="#22caca"/><circle cx="796.0" cy="1077.1" r="2.6" fill="#22caca"/><circle cx="998.3" cy="1138.4" r="1.7" fill="#22caca"/><circle cx="816.2" cy="1046.9" r="2.3" fill="#2ad4d4"/><circle cx="869.4" cy="1134.4" r="1.8" fill="#22caca"/><circle cx="847.6" cy="1078.5" r="2.2" fill="#22caca"/><circle cx="916.6" cy="1168.0" r="1.8" fill="#22caca"/><circle cx="740.0" cy="1089.3" r="2.5" fill="#2ad4d4"/><circle cx="847.8" cy="1135.5" r="2.2" fill="#22caca"/><circle cx="785.7" cy="1150.8" r="2.2" fill="#18a0a0"/><circle cx="871.3" cy="1071.5" r="1.8" fill="#2ad4d4"/><circle cx="1000.9" cy="1085.8" r="2.4" fill="#18a0a0"/><circle cx="959.1" cy="1074.9" r="2.2" fill="#22caca"/><circle cx="792.2" cy="1145.9" r="2.4" fill="#2ad4d4"/><circle cx="782.7" cy="1073.9" r="1.9" fill="#18a0a0"/><circle cx="846.8" cy="1133.1" r="2.5" fill="#18a0a0"/><circle cx="995.0" cy="1063.6" r="2.5" fill="#22caca"/><circle cx="840.2" cy="1072.5" r="1.7" fill="#2ad4d4"/><circle cx="1002.1" cy="1063.0" r="1.8" fill="#2ad4d4"/><circle cx="745.0" cy="1052.1" r="1.8" fill="#22caca"/><circle cx="822.3" cy="1068.9" r="2.1" fill="#1cb8b8"/><circle cx="991.4" cy="1144.0" r="2.0" fill="#22caca"/><circle cx="739.4" cy="1133.0" r="2.0" fill="#2ad4d4"/><circle cx="836.1" cy="1094.1" r="2.3" fill="#1cb8b8"/><circle cx="823.0" cy="1066.7" r="1.8" fill="#2ad4d4"/><circle cx="731.3" cy="1081.5" r="2.4" fill="#2ad4d4"/><circle cx="828.5" cy="1172.0" r="2.4" fill="#18a0a0"/><circle cx="999.3" cy="1071.8" r="2.3" fill="#2ad4d4"/><circle cx="851.1" cy="1050.6" r="2.2" fill="#18a0a0"/><circle cx="862.5" cy="1093.9" r="2.1" fill="#2ad4d4"/><circle cx="986.9" cy="1069.9" r="1.7" fill="#2ad4d4"/><circle cx="832.1" cy="1164.2" r="2.2" fill="#22caca"/><circle cx="845.0" cy="1152.8" r="2.3" fill="#22caca"/><circle cx="741.8" cy="1048.7" r="1.8" fill="#2ad4d4"/><circle cx="747.9" cy="1167.3" r="2.0" fill="#1cb8b8"/><circle cx="938.8" cy="1164.4" r="2.5" fill="#22caca"/><circle cx="803.6" cy="1140.0" r="1.7" fill="#1cb8b8"/><circle cx="818.7" cy="1080.9" r="2.2" fill="#1cb8b8"/><circle cx="731.6" cy="1145.3" r="1.9" fill="#1cb8b8"/><circle cx="986.0" cy="1129.0" r="2.3" fill="#2ad4d4"/><circle cx="993.5" cy="1047.3" r="2.5" fill="#1cb8b8"/><circle cx="795.7" cy="1107.7" r="2.1" fill="#1cb8b8"/><circle cx="800.5" cy="1101.6" r="2.4" fill="#2ad4d4"/><circle cx="868.1" cy="1168.4" r="2.0" fill="#1cb8b8"/><circle cx="954.3" cy="1143.0" r="1.8" fill="#18a0a0"/><circle cx="959.9" cy="1147.6" r="2.5" fill="#2ad4d4"/><circle cx="899.8" cy="1087.9" r="2.1" fill="#18a0a0"/><circle cx="819.6" cy="1092.5" r="2.4" fill="#2ad4d4"/><circle cx="948.6" cy="1054.6" r="1.7" fill="#22caca"/><circle cx="785.5" cy="1144.9" r="1.7" fill="#22caca"/><circle cx="799.4" cy="1052.7" r="2.3" fill="#18a0a0"/><circle cx="739.9" cy="1118.0" r="1.7" fill="#2ad4d4"/><circle cx="1005.9" cy="1079.5" r="2.0" fill="#18a0a0"/><circle cx="753.9" cy="1056.9" r="2.5" fill="#18a0a0"/><circle cx="869.5" cy="1139.1" r="1.6" fill="#1cb8b8"/><circle cx="855.1" cy="1075.4" r="1.9" fill="#22caca"/><circle cx="846.7" cy="1127.1" r="1.8" fill="#18a0a0"/><circle cx="918.4" cy="1144.2" r="1.8" fill="#2ad4d4"/><circle cx="966.6" cy="1133.0" r="2.2" fill="#18a0a0"/><circle cx="764.3" cy="1156.7" r="2.5" fill="#2ad4d4"/><circle cx="888.5" cy="1094.0" r="1.8" fill="#18a0a0"/><circle cx="936.3" cy="1070.7" r="2.1" fill="#1cb8b8"/><circle cx="799.5" cy="1076.9" r="2.6" fill="#2ad4d4"/><circle cx="821.5" cy="1097.1" r="2.4" fill="#1cb8b8"/><circle cx="1007.2" cy="1112.0" r="1.7" fill="#2ad4d4"/><circle cx="795.0" cy="1152.3" r="2.1" fill="#22caca"/><circle cx="1006.8" cy="1057.7" r="1.8" fill="#1cb8b8"/><circle cx="985.4" cy="1049.4" r="1.8" fill="#18a0a0"/><circle cx="812.4" cy="1060.0" r="2.5" fill="#22caca"/><circle cx="989.8" cy="1093.9" r="2.5" fill="#1cb8b8"/><circle cx="972.0" cy="1104.2" r="1.6" fill="#2ad4d4"/><circle cx="803.0" cy="1148.2" r="1.8" fill="#18a0a0"/><circle cx="760.0" cy="1123.9" r="2.6" fill="#1cb8b8"/><circle cx="903.3" cy="1073.2" r="2.3" fill="#2ad4d4"/><circle cx="833.3" cy="1062.9" r="1.8" fill="#22caca"/><circle cx="787.4" cy="1078.2" r="1.7" fill="#22caca"/><circle cx="897.6" cy="1131.3" r="1.8" fill="#2ad4d4"/><circle cx="787.2" cy="1045.5" r="1.7" fill="#2ad4d4"/><circle cx="821.7" cy="1134.9" r="2.1" fill="#1cb8b8"/><circle cx="782.1" cy="1085.8" r="1.7" fill="#18a0a0"/><circle cx="787.2" cy="1150.6" r="2.2" fill="#2ad4d4"/><circle cx="748.1" cy="1057.6" r="2.5" fill="#18a0a0"/><circle cx="840.7" cy="1117.7" r="2.2" fill="#22caca"/><circle cx="908.7" cy="1056.2" r="2.4" fill="#1cb8b8"/><circle cx="776.1" cy="1137.2" r="1.6" fill="#22caca"/><circle cx="844.7" cy="1082.0" r="2.2" fill="#1cb8b8"/><circle cx="888.4" cy="1091.9" r="2.3" fill="#22caca"/><circle cx="831.9" cy="1070.4" r="2.6" fill="#22caca"/><circle cx="933.5" cy="1071.3" r="1.7" fill="#2ad4d4"/><circle cx="732.1" cy="1164.8" r="1.7" fill="#22caca"/><circle cx="959.2" cy="1098.4" r="2.6" fill="#18a0a0"/><circle cx="976.6" cy="1105.8" r="1.6" fill="#18a0a0"/><circle cx="775.8" cy="1046.0" r="2.3" fill="#1cb8b8"/><circle cx="884.3" cy="1129.8" r="2.2" fill="#1cb8b8"/><circle cx="984.2" cy="1055.9" r="2.1" fill="#22caca"/><circle cx="904.0" cy="1093.7" r="2.6" fill="#18a0a0"/><circle cx="871.1" cy="1063.5" r="1.9" fill="#22caca"/><circle cx="809.5" cy="1113.8" r="2.5" fill="#1cb8b8"/><circle cx="988.5" cy="1058.6" r="2.3" fill="#1cb8b8"/><circle cx="785.5" cy="1061.0" r="2.3" fill="#2ad4d4"/><circle cx="982.6" cy="1127.1" r="1.9" fill="#22caca"/><circle cx="960.4" cy="1065.5" r="2.6" fill="#22caca"/><circle cx="949.6" cy="1073.8" r="2.1" fill="#1cb8b8"/><circle cx="781.5" cy="1073.2" r="2.4" fill="#18a0a0"/><circle cx="841.9" cy="1113.4" r="1.9" fill="#2ad4d4"/><circle cx="837.4" cy="1060.5" r="2.3" fill="#2ad4d4"/><circle cx="799.4" cy="1141.1" r="2.1" fill="#18a0a0"/><circle cx="980.7" cy="1049.5" r="2.3" fill="#2ad4d4"/><circle cx="887.3" cy="1145.5" r="2.0" fill="#2ad4d4"/><circle cx="741.1" cy="1156.3" r="2.1" fill="#2ad4d4"/><circle cx="897.6" cy="1117.7" r="2.6" fill="#18a0a0"/><circle cx="905.3" cy="1085.0" r="2.4" fill="#18a0a0"/><circle cx="847.6" cy="1122.1" r="2.4" fill="#18a0a0"/><circle cx="849.2" cy="1132.3" r="1.8" fill="#22caca"/><circle cx="855.1" cy="1102.7" r="2.3" fill="#2ad4d4"/><circle cx="737.0" cy="1126.9" r="2.6" fill="#18a0a0"/><circle cx="867.0" cy="1075.5" r="2.3" fill="#1cb8b8"/><circle cx="943.4" cy="1148.5" r="2.4" fill="#22caca"/><circle cx="780.6" cy="1107.4" r="2.5" fill="#22caca"/><circle cx="760.4" cy="1061.2" r="2.0" fill="#22caca"/><circle cx="850.6" cy="1056.3" r="2.3" fill="#2ad4d4"/><circle cx="853.7" cy="1112.4" r="2.1" fill="#18a0a0"/><circle cx="741.9" cy="1129.3" r="2.1" fill="#2ad4d4"/><circle cx="753.4" cy="1142.3" r="2.1" fill="#22caca"/><circle cx="947.3" cy="1112.5" r="2.1" fill="#18a0a0"/><circle cx="745.6" cy="1111.5" r="1.8" fill="#18a0a0"/><circle cx="835.8" cy="1171.4" r="2.0" fill="#18a0a0"/><circle cx="957.7" cy="1070.0" r="2.0" fill="#22caca"/><circle cx="1004.2" cy="1109.9" r="2.2" fill="#2ad4d4"/><circle cx="997.2" cy="1166.7" r="1.7" fill="#2ad4d4"/><circle cx="950.3" cy="1168.7" r="2.5" fill="#1cb8b8"/><circle cx="828.3" cy="1145.3" r="1.9" fill="#2ad4d4"/><circle cx="774.8" cy="1164.1" r="2.5" fill="#18a0a0"/><circle cx="957.9" cy="1063.2" r="2.1" fill="#2ad4d4"/><circle cx="870.5" cy="1167.3" r="2.2" fill="#18a0a0"/><circle cx="803.8" cy="1111.8" r="1.7" fill="#1cb8b8"/><circle cx="819.5" cy="1048.9" r="2.1" fill="#2ad4d4"/><circle cx="781.3" cy="1065.6" r="2.4" fill="#1cb8b8"/><circle cx="991.6" cy="1135.1" r="2.3" fill="#1cb8b8"/><circle cx="980.1" cy="1066.6" r="2.4" fill="#1cb8b8"/><circle cx="949.3" cy="1059.4" r="1.8" fill="#18a0a0"/><circle cx="878.5" cy="1129.3" r="1.9" fill="#22caca"/><circle cx="830.8" cy="1161.0" r="2.4" fill="#2ad4d4"/><circle cx="892.2" cy="1162.3" r="1.7" fill="#18a0a0"/><circle cx="1007.3" cy="1128.4" r="2.3" fill="#1cb8b8"/><circle cx="840.4" cy="1150.9" r="1.7" fill="#18a0a0"/><circle cx="1006.7" cy="1121.4" r="2.3" fill="#2ad4d4"/><circle cx="830.9" cy="1146.5" r="2.1" fill="#2ad4d4"/><circle cx="853.8" cy="1067.7" r="1.9" fill="#22caca"/><circle cx="937.8" cy="1050.5" r="2.6" fill="#2ad4d4"/><circle cx="959.1" cy="1078.0" r="2.0" fill="#22caca"/><circle cx="915.5" cy="1085.9" r="2.3" fill="#18a0a0"/><circle cx="731.0" cy="1048.5" r="2.4" fill="#1cb8b8"/><circle cx="772.1" cy="1126.6" r="1.6" fill="#1cb8b8"/><circle cx="851.0" cy="1112.7" r="2.0" fill="#1cb8b8"/><circle cx="980.2" cy="1061.7" r="2.2" fill="#1cb8b8"/><circle cx="793.9" cy="1131.5" r="2.4" fill="#2ad4d4"/><circle cx="736.7" cy="1044.4" r="1.6" fill="#2ad4d4"/><circle cx="829.5" cy="1058.3" r="1.6" fill="#1cb8b8"/><circle cx="830.1" cy="1074.1" r="1.7" fill="#2ad4d4"/><circle cx="893.2" cy="1122.9" r="1.9" fill="#1cb8b8"/><circle cx="787.4" cy="1127.6" r="2.5" fill="#2ad4d4"/><circle cx="862.9" cy="1062.1" r="1.8" fill="#2ad4d4"/><circle cx="991.6" cy="1076.6" r="1.7" fill="#18a0a0"/><circle cx="772.1" cy="1056.8" r="2.5" fill="#18a0a0"/><circle cx="842.6" cy="1079.4" r="1.7" fill="#1cb8b8"/><circle cx="733.7" cy="1130.4" r="2.2" fill="#2ad4d4"/><circle cx="887.3" cy="1090.9" r="2.5" fill="#2ad4d4"/><circle cx="910.5" cy="1103.5" r="2.0" fill="#18a0a0"/><circle cx="991.8" cy="1142.3" r="2.3" fill="#22caca"/><circle cx="799.8" cy="1165.1" r="2.6" fill="#2ad4d4"/><circle cx="878.7" cy="1098.4" r="2.2" fill="#18a0a0"/><circle cx="796.8" cy="1051.8" r="2.0" fill="#2ad4d4"/><circle cx="947.6" cy="1045.7" r="2.4" fill="#18a0a0"/><circle cx="884.1" cy="1170.1" r="2.5" fill="#1cb8b8"/><circle cx="786.1" cy="1125.5" r="2.6" fill="#1cb8b8"/><circle cx="871.8" cy="1130.0" r="1.7" fill="#2ad4d4"/><circle cx="957.3" cy="1067.4" r="1.9" fill="#1cb8b8"/><circle cx="816.8" cy="1084.2" r="1.7" fill="#22caca"/><circle cx="930.0" cy="1044.9" r="2.0" fill="#18a0a0"/><circle cx="965.9" cy="1143.9" r="2.1" fill="#18a0a0"/><circle cx="860.2" cy="1143.4" r="1.7" fill="#22caca"/><circle cx="856.7" cy="1074.3" r="2.5" fill="#18a0a0"/><circle cx="759.9" cy="1075.1" r="2.0" fill="#18a0a0"/><circle cx="741.3" cy="1089.0" r="1.8" fill="#18a0a0"/><circle cx="939.5" cy="1137.1" r="2.0" fill="#22caca"/><circle cx="966.2" cy="1139.4" r="1.7" fill="#18a0a0"/><circle cx="804.7" cy="1118.2" r="2.3" fill="#22caca"/><circle cx="852.1" cy="1149.7" r="2.0" fill="#1cb8b8"/><circle cx="804.5" cy="1130.0" r="2.5" fill="#22caca"/><circle cx="999.6" cy="1073.1" r="2.2" fill="#2ad4d4"/><circle cx="975.9" cy="1046.0" r="2.4" fill="#18a0a0"/><circle cx="803.1" cy="1075.6" r="1.7" fill="#22caca"/><circle cx="821.6" cy="1161.9" r="2.2" fill="#22caca"/><circle cx="923.7" cy="1133.1" r="1.7" fill="#22caca"/><circle cx="1003.4" cy="1106.9" r="2.4" fill="#22caca"/><circle cx="964.6" cy="1137.5" r="2.2" fill="#1cb8b8"/><circle cx="969.6" cy="1102.6" r="2.4" fill="#22caca"/><circle cx="932.5" cy="1120.4" r="2.3" fill="#1cb8b8"/><circle cx="816.3" cy="1072.4" r="2.5" fill="#18a0a0"/><circle cx="904.1" cy="1054.4" r="2.4" fill="#18a0a0"/><circle cx="984.4" cy="1063.4" r="2.6" fill="#1cb8b8"/><circle cx="738.0" cy="1058.3" r="2.5" fill="#22caca"/><circle cx="989.5" cy="1090.2" r="1.9" fill="#1cb8b8"/><circle cx="770.0" cy="1047.9" r="2.1" fill="#1cb8b8"/><circle cx="742.1" cy="1136.8" r="1.8" fill="#22caca"/><circle cx="907.2" cy="1137.4" r="2.1" fill="#2ad4d4"/><circle cx="935.9" cy="1052.8" r="1.9" fill="#22caca"/><circle cx="895.1" cy="1092.7" r="2.3" fill="#2ad4d4"/><circle cx="993.8" cy="1058.4" r="2.2" fill="#2ad4d4"/><circle cx="787.9" cy="1059.0" r="2.3" fill="#18a0a0"/><circle cx="907.3" cy="1154.6" r="1.9" fill="#2ad4d4"/><circle cx="810.6" cy="1057.4" r="2.4" fill="#18a0a0"/><circle cx="757.8" cy="1145.5" r="1.9" fill="#2ad4d4"/><circle cx="787.7" cy="1086.8" r="1.7" fill="#1cb8b8"/><circle cx="848.6" cy="1046.8" r="2.5" fill="#2ad4d4"/><circle cx="802.1" cy="1081.9" r="2.3" fill="#18a0a0"/><circle cx="930.1" cy="1093.3" r="2.0" fill="#1cb8b8"/><circle cx="967.9" cy="1126.8" r="1.8" fill="#2ad4d4"/><circle cx="739.1" cy="1099.3" r="2.3" fill="#22caca"/><circle cx="852.2" cy="1147.6" r="2.1" fill="#22caca"/><circle cx="827.2" cy="1138.4" r="2.6" fill="#18a0a0"/><circle cx="880.5" cy="1073.0" r="1.6" fill="#2ad4d4"/><circle cx="970.9" cy="1056.2" r="2.4" fill="#1cb8b8"/><circle cx="959.1" cy="1066.8" r="1.8" fill="#2ad4d4"/><circle cx="730.9" cy="1071.1" r="2.4" fill="#1cb8b8"/><circle cx="943.0" cy="1175.0" r="2.0" fill="#18a0a0"/><circle cx="867.3" cy="1109.9" r="1.8" fill="#18a0a0"/><circle cx="952.6" cy="1068.7" r="1.7" fill="#1cb8b8"/><circle cx="868.4" cy="1090.5" r="2.5" fill="#18a0a0"/><circle cx="962.4" cy="1078.9" r="1.6" fill="#22caca"/><circle cx="993.7" cy="1082.0" r="2.4" fill="#22caca"/><circle cx="790.4" cy="1137.7" r="1.8" fill="#18a0a0"/><circle cx="869.4" cy="1058.7" r="2.1" fill="#1cb8b8"/><circle cx="908.0" cy="1054.8" r="2.4" fill="#2ad4d4"/><circle cx="950.2" cy="1137.4" r="1.7" fill="#1cb8b8"/><circle cx="949.9" cy="1128.1" r="2.1" fill="#1cb8b8"/><circle cx="829.6" cy="1097.8" r="1.7" fill="#18a0a0"/><circle cx="840.5" cy="1163.3" r="2.6" fill="#22caca"/><circle cx="978.2" cy="1047.4" r="1.8" fill="#18a0a0"/><circle cx="788.0" cy="1079.3" r="2.3" fill="#2ad4d4"/><circle cx="981.8" cy="1111.2" r="2.3" fill="#18a0a0"/><circle cx="836.3" cy="1162.5" r="2.5" fill="#1cb8b8"/><circle cx="859.0" cy="1115.2" r="1.6" fill="#1cb8b8"/><circle cx="940.8" cy="1144.9" r="1.9" fill="#18a0a0"/><circle cx="910.7" cy="1090.7" r="2.5" fill="#1cb8b8"/><circle cx="821.6" cy="1064.8" r="2.3" fill="#2ad4d4"/><circle cx="965.6" cy="1132.7" r="1.9" fill="#1cb8b8"/><circle cx="937.4" cy="1066.7" r="1.9" fill="#2ad4d4"/><circle cx="852.8" cy="1147.6" r="1.8" fill="#1cb8b8"/><circle cx="892.0" cy="1060.9" r="2.0" fill="#1cb8b8"/><circle cx="859.3" cy="1162.6" r="1.9" fill="#22caca"/><circle cx="783.9" cy="1084.4" r="2.2" fill="#1cb8b8"/><circle cx="926.5" cy="1157.1" r="2.3" fill="#1cb8b8"/><circle cx="774.0" cy="1077.2" r="1.8" fill="#22caca"/><circle cx="821.5" cy="1114.0" r="2.3" fill="#1cb8b8"/><circle cx="775.4" cy="1088.0" r="1.9" fill="#18a0a0"/><circle cx="758.9" cy="1173.0" r="1.7" fill="#18a0a0"/><circle cx="934.9" cy="1102.3" r="1.7" fill="#2ad4d4"/><circle cx="785.2" cy="1129.5" r="2.6" fill="#1cb8b8"/><circle cx="760.3" cy="1071.7" r="1.9" fill="#22caca"/><circle cx="838.8" cy="1048.5" r="1.6" fill="#2ad4d4"/><circle cx="841.7" cy="1150.0" r="2.5" fill="#18a0a0"/><circle cx="870.0" cy="1128.7" r="1.8" fill="#22caca"/><circle cx="859.7" cy="1063.0" r="2.5" fill="#2ad4d4"/><circle cx="898.8" cy="1098.2" r="1.8" fill="#22caca"/><circle cx="890.5" cy="1144.4" r="1.9" fill="#18a0a0"/><circle cx="847.9" cy="1074.6" r="2.2" fill="#1cb8b8"/><circle cx="909.4" cy="1104.8" r="1.6" fill="#2ad4d4"/><circle cx="817.8" cy="1128.2" r="2.6" fill="#22caca"/><circle cx="757.8" cy="1100.2" r="1.8" fill="#2ad4d4"/><circle cx="948.6" cy="1139.6" r="2.3" fill="#1cb8b8"/><circle cx="906.0" cy="1077.5" r="1.8" fill="#22caca"/><circle cx="848.6" cy="1105.0" r="2.0" fill="#2ad4d4"/><circle cx="903.8" cy="1098.9" r="1.9" fill="#1cb8b8"/><circle cx="918.8" cy="1168.6" r="1.8" fill="#2ad4d4"/><circle cx="913.0" cy="1148.3" r="2.4" fill="#2ad4d4"/><circle cx="867.1" cy="1174.6" r="1.7" fill="#18a0a0"/><circle cx="882.0" cy="1065.6" r="2.4" fill="#22caca"/><circle cx="758.7" cy="1121.0" r="2.1" fill="#18a0a0"/><circle cx="881.3" cy="1140.1" r="1.6" fill="#22caca"/><circle cx="873.3" cy="1129.7" r="2.0" fill="#22caca"/><circle cx="961.6" cy="1113.9" r="2.0" fill="#1cb8b8"/><circle cx="844.9" cy="1171.0" r="1.7" fill="#2ad4d4"/><circle cx="921.3" cy="1096.6" r="2.0" fill="#1cb8b8"/><circle cx="943.1" cy="1060.4" r="1.9" fill="#22caca"/><circle cx="1005.0" cy="1091.6" r="1.9" fill="#18a0a0"/><circle cx="746.3" cy="1080.8" r="1.7" fill="#2ad4d4"/><circle cx="841.9" cy="1045.8" r="1.7" fill="#1cb8b8"/><circle cx="847.2" cy="1100.4" r="1.9" fill="#18a0a0"/><circle cx="925.2" cy="1091.2" r="1.9" fill="#22caca"/><circle cx="804.4" cy="1074.1" r="1.8" fill="#1cb8b8"/><circle cx="791.5" cy="1151.4" r="2.1" fill="#22caca"/><circle cx="789.6" cy="1061.3" r="2.5" fill="#2ad4d4"/><circle cx="947.0" cy="1152.5" r="2.0" fill="#2ad4d4"/><circle cx="861.3" cy="1119.3" r="2.6" fill="#1cb8b8"/><circle cx="861.0" cy="1083.4" r="2.3" fill="#1cb8b8"/><circle cx="883.4" cy="1060.8" r="2.5" fill="#1cb8b8"/><circle cx="962.9" cy="1091.5" r="1.7" fill="#22caca"/><circle cx="967.7" cy="1079.8" r="2.1" fill="#22caca"/><circle cx="835.4" cy="1078.0" r="2.3" fill="#1cb8b8"/><circle cx="849.3" cy="1068.9" r="1.7" fill="#1cb8b8"/><circle cx="731.3" cy="1140.7" r="1.8" fill="#1cb8b8"/><circle cx="808.9" cy="1076.8" r="2.6" fill="#2ad4d4"/><circle cx="814.6" cy="1108.3" r="2.0" fill="#18a0a0"/><circle cx="850.0" cy="1129.4" r="1.9" fill="#22caca"/><circle cx="914.3" cy="1092.6" r="1.7" fill="#22caca"/><circle cx="989.4" cy="1158.5" r="1.8" fill="#1cb8b8"/><circle cx="769.6" cy="1155.4" r="2.4" fill="#22caca"/><circle cx="734.7" cy="1045.5" r="2.2" fill="#22caca"/><circle cx="995.9" cy="1131.9" r="1.6" fill="#22caca"/><circle cx="800.2" cy="1057.6" r="2.4" fill="#1cb8b8"/><circle cx="770.3" cy="1075.3" r="1.7" fill="#2ad4d4"/><circle cx="946.9" cy="1090.4" r="2.2" fill="#18a0a0"/><circle cx="948.3" cy="1133.6" r="1.6" fill="#1cb8b8"/><circle cx="979.7" cy="1149.6" r="2.4" fill="#18a0a0"/><circle cx="785.5" cy="1136.8" r="1.7" fill="#22caca"/><circle cx="878.5" cy="1143.4" r="1.7" fill="#1cb8b8"/><circle cx="804.2" cy="1075.4" r="1.8" fill="#1cb8b8"/><circle cx="769.3" cy="1110.1" r="2.4" fill="#2ad4d4"/><circle cx="746.8" cy="1106.6" r="1.8" fill="#1cb8b8"/><circle cx="770.8" cy="1109.8" r="2.3" fill="#1cb8b8"/><circle cx="869.4" cy="1116.3" r="2.6" fill="#22caca"/><circle cx="971.1" cy="1044.9" r="1.6" fill="#18a0a0"/><circle cx="964.9" cy="1106.7" r="2.5" fill="#2ad4d4"/><circle cx="887.3" cy="1133.2" r="1.8" fill="#22caca"/><circle cx="964.8" cy="1094.2" r="2.4" fill="#22caca"/><circle cx="847.3" cy="1172.7" r="1.7" fill="#18a0a0"/><circle cx="908.1" cy="1129.2" r="2.2" fill="#2ad4d4"/><circle cx="738.5" cy="1125.7" r="2.3" fill="#18a0a0"/><circle cx="1004.2" cy="1112.4" r="1.7" fill="#18a0a0"/><circle cx="865.6" cy="1164.3" r="2.5" fill="#2ad4d4"/><circle cx="930.7" cy="1127.8" r="2.4" fill="#18a0a0"/><circle cx="824.9" cy="1159.5" r="2.0" fill="#1cb8b8"/><circle cx="862.8" cy="1114.4" r="2.3" fill="#2ad4d4"/><circle cx="945.3" cy="1072.2" r="1.7" fill="#22caca"/><circle cx="851.8" cy="1100.6" r="2.4" fill="#2ad4d4"/><circle cx="885.0" cy="1154.8" r="1.8" fill="#1cb8b8"/><circle cx="961.3" cy="1098.1" r="2.2" fill="#18a0a0"/><circle cx="870.9" cy="1080.4" r="2.2" fill="#18a0a0"/><circle cx="951.3" cy="1088.3" r="2.0" fill="#22caca"/><circle cx="818.9" cy="1084.1" r="2.4" fill="#18a0a0"/><circle cx="894.0" cy="1129.1" r="2.4" fill="#2ad4d4"/><circle cx="949.1" cy="1049.4" r="2.5" fill="#18a0a0"/><circle cx="744.4" cy="1084.3" r="2.3" fill="#1cb8b8"/><circle cx="732.2" cy="1069.5" r="2.3" fill="#2ad4d4"/><circle cx="987.4" cy="1125.6" r="2.4" fill="#18a0a0"/><circle cx="914.0" cy="1149.7" r="1.9" fill="#22caca"/><circle cx="901.1" cy="1126.6" r="2.6" fill="#22caca"/><circle cx="905.3" cy="1137.3" r="2.0" fill="#18a0a0"/><circle cx="896.8" cy="1135.3" r="2.1" fill="#2ad4d4"/><circle cx="789.7" cy="1133.4" r="2.1" fill="#2ad4d4"/><circle cx="858.2" cy="1146.2" r="2.0" fill="#22caca"/><circle cx="758.8" cy="1068.3" r="2.2" fill="#18a0a0"/><circle cx="740.8" cy="1147.8" r="1.9" fill="#2ad4d4"/><circle cx="985.3" cy="1131.9" r="1.8" fill="#2ad4d4"/><circle cx="833.3" cy="1154.2" r="2.0" fill="#18a0a0"/><circle cx="887.2" cy="1078.6" r="1.7" fill="#1cb8b8"/><circle cx="814.7" cy="1100.5" r="2.0" fill="#22caca"/><circle cx="819.3" cy="1101.7" r="2.0" fill="#1cb8b8"/><circle cx="909.4" cy="1169.1" r="2.6" fill="#2ad4d4"/><circle cx="888.7" cy="1049.3" r="1.8" fill="#2ad4d4"/><circle cx="763.6" cy="1152.6" r="2.5" fill="#2ad4d4"/><circle cx="986.6" cy="1103.8" r="1.9" fill="#18a0a0"/><circle cx="734.4" cy="1095.9" r="2.6" fill="#2ad4d4"/><circle cx="863.1" cy="1099.3" r="2.5" fill="#1cb8b8"/><circle cx="758.9" cy="1130.4" r="2.0" fill="#1cb8b8"/><circle cx="789.7" cy="1064.3" r="1.6" fill="#22caca"/><circle cx="734.8" cy="1044.6" r="1.7" fill="#1cb8b8"/><circle cx="921.1" cy="1060.3" r="2.1" fill="#1cb8b8"/><circle cx="999.9" cy="1055.8" r="2.3" fill="#2ad4d4"/><circle cx="972.9" cy="1061.3" r="2.6" fill="#22caca"/><circle cx="735.5" cy="1140.4" r="1.7" fill="#18a0a0"/><circle cx="798.0" cy="1142.3" r="2.3" fill="#2ad4d4"/><circle cx="782.8" cy="1050.7" r="2.1" fill="#22caca"/><circle cx="946.3" cy="1139.6" r="2.0" fill="#2ad4d4"/><circle cx="969.0" cy="1141.8" r="2.0" fill="#2ad4d4"/><circle cx="754.0" cy="1128.2" r="2.5" fill="#18a0a0"/><circle cx="928.2" cy="1105.7" r="2.5" fill="#22caca"/><circle cx="990.4" cy="1078.0" r="2.1" fill="#18a0a0"/><circle cx="999.4" cy="1140.1" r="1.7" fill="#22caca"/><circle cx="733.7" cy="1046.0" r="2.2" fill="#22caca"/><circle cx="911.9" cy="1153.5" r="1.9" fill="#18a0a0"/><circle cx="817.2" cy="1141.7" r="2.3" fill="#1cb8b8"/><circle cx="776.8" cy="1159.4" r="1.6" fill="#18a0a0"/><circle cx="747.2" cy="1093.3" r="2.1" fill="#2ad4d4"/><circle cx="890.8" cy="1102.8" r="2.6" fill="#22caca"/><circle cx="919.2" cy="1063.4" r="1.7" fill="#2ad4d4"/><circle cx="952.8" cy="1092.7" r="2.6" fill="#22caca"/><circle cx="910.3" cy="1128.4" r="2.3" fill="#1cb8b8"/><circle cx="847.0" cy="1095.7" r="2.2" fill="#2ad4d4"/><circle cx="888.5" cy="1083.2" r="1.9" fill="#1cb8b8"/><circle cx="961.2" cy="1088.5" r="2.0" fill="#22caca"/><circle cx="898.1" cy="1085.4" r="2.2" fill="#18a0a0"/><circle cx="850.0" cy="1163.0" r="2.1" fill="#18a0a0"/><circle cx="921.4" cy="1124.6" r="2.3" fill="#2ad4d4"/><circle cx="980.3" cy="1152.2" r="1.9" fill="#2ad4d4"/><circle cx="731.0" cy="1079.2" r="2.4" fill="#18a0a0"/><circle cx="848.3" cy="1122.6" r="2.5" fill="#2ad4d4"/><circle cx="958.0" cy="1162.9" r="2.1" fill="#1cb8b8"/><circle cx="889.9" cy="1080.7" r="1.8" fill="#22caca"/><circle cx="967.8" cy="1152.1" r="2.3" fill="#1cb8b8"/><circle cx="985.3" cy="1090.5" r="2.2" fill="#22caca"/><circle cx="754.2" cy="1118.2" r="2.4" fill="#18a0a0"/><circle cx="952.8" cy="1070.9" r="2.6" fill="#2ad4d4"/><circle cx="939.7" cy="1168.9" r="1.9" fill="#1cb8b8"/><circle cx="899.7" cy="1134.8" r="1.8" fill="#18a0a0"/><circle cx="860.2" cy="1071.7" r="2.5" fill="#2ad4d4"/><circle cx="801.5" cy="1144.7" r="1.7" fill="#18a0a0"/><circle cx="951.2" cy="1105.6" r="2.0" fill="#2ad4d4"/><circle cx="755.0" cy="1152.1" r="2.0" fill="#2ad4d4"/><circle cx="795.4" cy="1121.7" r="1.9" fill="#18a0a0"/><circle cx="863.4" cy="1123.0" r="2.5" fill="#1cb8b8"/><circle cx="783.2" cy="1069.8" r="2.1" fill="#18a0a0"/><circle cx="780.9" cy="1137.9" r="2.2" fill="#18a0a0"/><circle cx="831.7" cy="1119.6" r="1.6" fill="#2ad4d4"/><circle cx="842.7" cy="1113.3" r="2.4" fill="#2ad4d4"/><circle cx="772.0" cy="1050.0" r="2.3" fill="#18a0a0"/><circle cx="1008.5" cy="1094.1" r="2.4" fill="#18a0a0"/><circle cx="760.1" cy="1128.8" r="2.0" fill="#2ad4d4"/><circle cx="950.0" cy="1064.9" r="2.1" fill="#18a0a0"/><circle cx="897.0" cy="1090.2" r="2.5" fill="#2ad4d4"/><circle cx="875.3" cy="1046.8" r="1.9" fill="#22caca"/><circle cx="866.1" cy="1120.0" r="1.6" fill="#22caca"/><circle cx="803.4" cy="1148.4" r="2.0" fill="#2ad4d4"/><circle cx="994.4" cy="1146.8" r="1.9" fill="#2ad4d4"/><circle cx="741.1" cy="1070.9" r="2.5" fill="#1cb8b8"/><circle cx="780.9" cy="1055.2" r="2.4" fill="#22caca"/><circle cx="744.7" cy="1118.7" r="2.4" fill="#18a0a0"/><circle cx="973.2" cy="1105.4" r="2.5" fill="#22caca"/><circle cx="994.6" cy="1165.9" r="2.2" fill="#1cb8b8"/><circle cx="897.2" cy="1097.3" r="2.4" fill="#22caca"/><circle cx="887.9" cy="1129.8" r="2.4" fill="#18a0a0"/><circle cx="997.1" cy="1133.7" r="2.0" fill="#2ad4d4"/><circle cx="840.1" cy="1104.1" r="2.4" fill="#18a0a0"/><circle cx="792.3" cy="1049.2" r="2.5" fill="#2ad4d4"/><circle cx="801.8" cy="1091.2" r="2.1" fill="#1cb8b8"/><circle cx="743.6" cy="1149.4" r="2.3" fill="#18a0a0"/><circle cx="910.8" cy="1176.0" r="1.7" fill="#2ad4d4"/><circle cx="770.9" cy="1145.2" r="2.3" fill="#2ad4d4"/><circle cx="992.4" cy="1134.7" r="1.7" fill="#18a0a0"/><circle cx="813.8" cy="1123.3" r="2.5" fill="#22caca"/><circle cx="941.8" cy="1058.1" r="2.2" fill="#1cb8b8"/><circle cx="820.8" cy="1078.4" r="1.8" fill="#18a0a0"/><circle cx="765.1" cy="1108.5" r="2.4" fill="#2ad4d4"/><circle cx="777.5" cy="1076.0" r="1.8" fill="#1cb8b8"/><circle cx="770.4" cy="1134.8" r="2.1" fill="#1cb8b8"/><circle cx="734.0" cy="1140.1" r="2.5" fill="#2ad4d4"/><circle cx="784.9" cy="1048.8" r="2.5" fill="#18a0a0"/><circle cx="989.1" cy="1073.6" r="2.2" fill="#1cb8b8"/><circle cx="769.5" cy="1103.9" r="2.2" fill="#18a0a0"/><circle cx="905.7" cy="1104.6" r="2.3" fill="#2ad4d4"/><circle cx="825.2" cy="1154.3" r="2.2" fill="#2ad4d4"/><circle cx="905.6" cy="1063.1" r="1.9" fill="#1cb8b8"/><circle cx="792.3" cy="1051.6" r="2.3" fill="#2ad4d4"/><circle cx="929.5" cy="1118.2" r="2.0" fill="#22caca"/><circle cx="770.8" cy="1160.7" r="1.7" fill="#22caca"/><circle cx="845.3" cy="1064.9" r="1.8" fill="#2ad4d4"/><circle cx="806.1" cy="1156.5" r="2.2" fill="#18a0a0"/><circle cx="777.3" cy="1109.8" r="2.0" fill="#1cb8b8"/><circle cx="819.2" cy="1165.0" r="2.6" fill="#22caca"/><circle cx="1003.3" cy="1051.6" r="1.6" fill="#22caca"/><circle cx="980.0" cy="1133.5" r="1.7" fill="#18a0a0"/><circle cx="789.4" cy="1108.0" r="1.9" fill="#1cb8b8"/><circle cx="810.3" cy="1078.5" r="2.6" fill="#2ad4d4"/><circle cx="786.7" cy="1092.8" r="1.8" fill="#1cb8b8"/><circle cx="757.7" cy="1082.8" r="1.9" fill="#1cb8b8"/><circle cx="980.4" cy="1051.7" r="1.8" fill="#22caca"/><circle cx="933.0" cy="1083.3" r="1.6" fill="#1cb8b8"/><circle cx="1003.3" cy="1046.1" r="2.0" fill="#2ad4d4"/><circle cx="955.5" cy="1089.7" r="2.6" fill="#22caca"/><circle cx="769.6" cy="1044.3" r="2.3" fill="#2ad4d4"/><circle cx="962.5" cy="1114.6" r="2.0" fill="#22caca"/><circle cx="782.3" cy="1102.3" r="1.8" fill="#18a0a0"/><circle cx="984.8" cy="1073.2" r="2.4" fill="#22caca"/><circle cx="889.8" cy="1062.5" r="2.3" fill="#2ad4d4"/><circle cx="780.7" cy="1147.2" r="1.7" fill="#2ad4d4"/><circle cx="928.9" cy="1070.4" r="2.2" fill="#18a0a0"/><circle cx="752.6" cy="1055.7" r="2.1" fill="#18a0a0"/><circle cx="900.2" cy="1110.4" r="1.8" fill="#18a0a0"/><circle cx="806.9" cy="1071.6" r="1.7" fill="#1cb8b8"/><circle cx="901.2" cy="1138.8" r="1.9" fill="#1cb8b8"/><circle cx="956.8" cy="1122.1" r="1.7" fill="#1cb8b8"/><circle cx="786.9" cy="1052.8" r="2.0" fill="#22caca"/><circle cx="934.8" cy="1098.7" r="2.4" fill="#1cb8b8"/><circle cx="931.7" cy="1051.4" r="2.4" fill="#1cb8b8"/><circle cx="956.5" cy="1088.9" r="2.2" fill="#1cb8b8"/><circle cx="965.2" cy="1159.8" r="2.3" fill="#2ad4d4"/><circle cx="973.6" cy="1079.7" r="2.5" fill="#22caca"/><circle cx="782.4" cy="1155.4" r="1.7" fill="#22caca"/><circle cx="776.1" cy="1093.7" r="2.0" fill="#1cb8b8"/><circle cx="896.4" cy="1044.6" r="2.2" fill="#2ad4d4"/><circle cx="875.4" cy="1103.7" r="2.2" fill="#1cb8b8"/><circle cx="874.3" cy="1060.2" r="2.6" fill="#2ad4d4"/><circle cx="820.0" cy="1139.3" r="1.7" fill="#2ad4d4"/><circle cx="836.8" cy="1144.7" r="2.3" fill="#1cb8b8"/><circle cx="868.5" cy="1112.8" r="2.5" fill="#18a0a0"/><circle cx="878.4" cy="1116.0" r="2.4" fill="#18a0a0"/><circle cx="781.4" cy="1057.8" r="1.7" fill="#2ad4d4"/><circle cx="800.3" cy="1153.5" r="2.0" fill="#1cb8b8"/><circle cx="757.4" cy="1137.7" r="2.1" fill="#18a0a0"/><circle cx="784.9" cy="1046.4" r="2.5" fill="#22caca"/><circle cx="897.6" cy="1121.2" r="2.1" fill="#2ad4d4"/><circle cx="876.3" cy="1138.2" r="2.4" fill="#1cb8b8"/><circle cx="743.1" cy="1060.5" r="2.1" fill="#2ad4d4"/><circle cx="868.1" cy="1111.1" r="2.0" fill="#1cb8b8"/><circle cx="808.5" cy="1060.4" r="2.5" fill="#22caca"/><circle cx="843.6" cy="1062.4" r="2.3" fill="#1cb8b8"/><circle cx="895.5" cy="1159.4" r="2.4" fill="#18a0a0"/><circle cx="890.2" cy="1144.0" r="1.8" fill="#18a0a0"/><circle cx="838.9" cy="1100.3" r="1.7" fill="#18a0a0"/><circle cx="964.6" cy="1114.4" r="1.7" fill="#22caca"/><circle cx="824.9" cy="1076.2" r="1.6" fill="#18a0a0"/><circle cx="823.9" cy="1102.4" r="2.1" fill="#22caca"/><circle cx="957.7" cy="1157.6" r="1.8" fill="#22caca"/><circle cx="800.0" cy="1100.6" r="2.5" fill="#22caca"/><circle cx="906.9" cy="1092.8" r="2.2" fill="#2ad4d4"/><circle cx="878.5" cy="1053.3" r="2.1" fill="#18a0a0"/><circle cx="851.2" cy="1111.6" r="1.6" fill="#1cb8b8"/><circle cx="736.3" cy="1062.7" r="2.5" fill="#1cb8b8"/><circle cx="1000.9" cy="1148.1" r="2.5" fill="#18a0a0"/><circle cx="977.1" cy="1048.6" r="2.2" fill="#22caca"/><circle cx="909.4" cy="1079.6" r="2.5" fill="#1cb8b8"/><circle cx="919.6" cy="1080.6" r="2.1" fill="#18a0a0"/><circle cx="800.4" cy="1113.7" r="2.4" fill="#18a0a0"/><circle cx="815.6" cy="1130.8" r="2.5" fill="#22caca"/><circle cx="764.1" cy="1123.6" r="2.0" fill="#1cb8b8"/><circle cx="997.1" cy="1112.8" r="2.3" fill="#1cb8b8"/><circle cx="805.3" cy="1106.5" r="2.3" fill="#18a0a0"/><circle cx="879.3" cy="1063.9" r="2.2" fill="#18a0a0"/><circle cx="765.0" cy="1061.6" r="2.5" fill="#22caca"/><circle cx="812.4" cy="1098.5" r="1.7" fill="#18a0a0"/><circle cx="810.9" cy="1076.6" r="2.4" fill="#1cb8b8"/><circle cx="755.0" cy="1117.2" r="1.6" fill="#1cb8b8"/><circle cx="964.6" cy="1125.7" r="2.2" fill="#1cb8b8"/><circle cx="889.5" cy="1131.1" r="1.8" fill="#22caca"/><circle cx="786.6" cy="1139.2" r="2.4" fill="#1cb8b8"/><circle cx="859.0" cy="1117.4" r="2.1" fill="#22caca"/><circle cx="901.3" cy="1106.8" r="1.8" fill="#18a0a0"/><circle cx="817.1" cy="1076.5" r="2.4" fill="#1cb8b8"/><circle cx="792.3" cy="1112.7" r="2.5" fill="#22caca"/><circle cx="837.3" cy="1122.5" r="1.9" fill="#18a0a0"/><circle cx="733.8" cy="1091.3" r="2.1" fill="#1cb8b8"/><circle cx="970.8" cy="1076.0" r="2.4" fill="#18a0a0"/><circle cx="885.7" cy="1109.8" r="2.4" fill="#22caca"/><circle cx="945.8" cy="1065.2" r="1.8" fill="#22caca"/><circle cx="749.1" cy="1160.8" r="2.2" fill="#1cb8b8"/><circle cx="747.8" cy="1096.0" r="1.7" fill="#2ad4d4"/><circle cx="853.1" cy="1142.5" r="2.5" fill="#18a0a0"/><circle cx="761.0" cy="1074.2" r="1.7" fill="#22caca"/><circle cx="998.0" cy="1143.0" r="2.2" fill="#22caca"/><circle cx="773.6" cy="1089.2" r="2.1" fill="#22caca"/><circle cx="828.8" cy="1134.5" r="2.3" fill="#22caca"/><circle cx="874.9" cy="1143.0" r="2.1" fill="#2ad4d4"/><circle cx="937.7" cy="1145.8" r="2.2" fill="#22caca"/><circle cx="863.0" cy="1149.2" r="1.6" fill="#1cb8b8"/><circle cx="985.5" cy="1061.1" r="1.8" fill="#18a0a0"/><circle cx="973.3" cy="1044.6" r="2.3" fill="#1cb8b8"/><circle cx="944.0" cy="1122.5" r="2.2" fill="#22caca"/><circle cx="847.0" cy="1149.0" r="2.1" fill="#22caca"/><circle cx="899.8" cy="1094.9" r="2.3" fill="#2ad4d4"/><circle cx="856.6" cy="1105.4" r="2.3" fill="#22caca"/><circle cx="932.1" cy="1083.3" r="1.7" fill="#22caca"/><circle cx="839.4" cy="1118.4" r="1.9" fill="#2ad4d4"/><circle cx="837.7" cy="1087.1" r="1.7" fill="#2ad4d4"/><circle cx="949.9" cy="1157.8" r="2.4" fill="#2ad4d4"/><circle cx="854.3" cy="1068.7" r="1.7" fill="#22caca"/><circle cx="815.3" cy="1063.4" r="1.7" fill="#22caca"/><circle cx="890.9" cy="1121.9" r="2.1" fill="#1cb8b8"/><circle cx="755.0" cy="1167.3" r="2.6" fill="#18a0a0"/><circle cx="787.5" cy="1101.1" r="2.5" fill="#1cb8b8"/><circle cx="984.4" cy="1045.4" r="2.5" fill="#22caca"/><circle cx="743.7" cy="1119.7" r="2.3" fill="#22caca"/><circle cx="869.2" cy="1246.7" r="2.3" fill="#22caca"/><circle cx="945.6" cy="1205.8" r="2.4" fill="#1cb8b8"/><circle cx="1007.8" cy="1203.5" r="2.4" fill="#18a0a0"/><circle cx="874.7" cy="1221.5" r="1.8" fill="#22caca"/><circle cx="839.3" cy="1186.4" r="2.0" fill="#2ad4d4"/><circle cx="896.1" cy="1185.7" r="1.9" fill="#1cb8b8"/><circle cx="993.9" cy="1220.6" r="2.4" fill="#2ad4d4"/><circle cx="876.9" cy="1158.6" r="1.9" fill="#22caca"/><circle cx="835.1" cy="1191.0" r="1.8" fill="#22caca"/><circle cx="886.9" cy="1209.6" r="2.6" fill="#1cb8b8"/><circle cx="975.0" cy="1251.5" r="2.4" fill="#18a0a0"/><circle cx="866.2" cy="1195.2" r="1.9" fill="#2ad4d4"/><circle cx="904.4" cy="1254.9" r="1.6" fill="#1cb8b8"/><circle cx="826.5" cy="1204.9" r="1.9" fill="#22caca"/><circle cx="957.3" cy="1166.3" r="2.5" fill="#2ad4d4"/><circle cx="819.5" cy="1253.0" r="1.6" fill="#2ad4d4"/><circle cx="960.1" cy="1203.0" r="2.5" fill="#1cb8b8"/><circle cx="762.1" cy="1244.0" r="2.1" fill="#22caca"/><circle cx="922.5" cy="1236.0" r="1.6" fill="#22caca"/><circle cx="1005.6" cy="1243.3" r="2.0" fill="#2ad4d4"/><circle cx="848.0" cy="1164.8" r="2.0" fill="#2ad4d4"/><circle cx="811.8" cy="1202.9" r="2.6" fill="#22caca"/><circle cx="871.3" cy="1168.2" r="1.8" fill="#1cb8b8"/><circle cx="782.0" cy="1215.6" r="2.2" fill="#22caca"/><circle cx="898.4" cy="1185.9" r="2.5" fill="#1cb8b8"/><circle cx="1006.6" cy="1216.3" r="2.5" fill="#18a0a0"/><circle cx="743.2" cy="1192.1" r="2.2" fill="#22caca"/><circle cx="949.5" cy="1180.9" r="1.9" fill="#1cb8b8"/><circle cx="922.7" cy="1148.4" r="2.3" fill="#22caca"/><circle cx="815.8" cy="1238.4" r="2.3" fill="#18a0a0"/><circle cx="893.8" cy="1219.7" r="2.2" fill="#1cb8b8"/><circle cx="785.9" cy="1201.4" r="2.3" fill="#1cb8b8"/><circle cx="884.6" cy="1176.5" r="2.4" fill="#2ad4d4"/><circle cx="910.5" cy="1205.0" r="1.9" fill="#1cb8b8"/><circle cx="1007.5" cy="1209.6" r="1.7" fill="#22caca"/><circle cx="845.3" cy="1161.0" r="2.2" fill="#1cb8b8"/><circle cx="774.9" cy="1229.5" r="2.3" fill="#1cb8b8"/><circle cx="761.0" cy="1158.7" r="2.3" fill="#22caca"/><circle cx="778.7" cy="1204.1" r="1.7" fill="#2ad4d4"/><circle cx="959.3" cy="1213.8" r="2.1" fill="#22caca"/><circle cx="954.8" cy="1154.7" r="2.0" fill="#22caca"/><circle cx="735.0" cy="1230.7" r="2.2" fill="#1cb8b8"/><circle cx="820.9" cy="1224.8" r="2.2" fill="#18a0a0"/><circle cx="829.4" cy="1166.2" r="2.5" fill="#2ad4d4"/><circle cx="805.3" cy="1158.7" r="1.8" fill="#18a0a0"/><circle cx="981.7" cy="1210.5" r="1.9" fill="#22caca"/><circle cx="828.1" cy="1196.3" r="2.0" fill="#18a0a0"/><circle cx="838.2" cy="1153.9" r="2.0" fill="#1cb8b8"/><circle cx="978.0" cy="1210.5" r="2.5" fill="#22caca"/><circle cx="997.1" cy="1195.2" r="1.9" fill="#18a0a0"/><circle cx="903.2" cy="1174.8" r="1.6" fill="#1cb8b8"/><circle cx="743.7" cy="1247.9" r="1.7" fill="#1cb8b8"/><circle cx="968.1" cy="1181.8" r="2.4" fill="#1cb8b8"/><circle cx="980.3" cy="1235.5" r="1.9" fill="#2ad4d4"/><circle cx="815.6" cy="1212.7" r="2.4" fill="#22caca"/><circle cx="997.2" cy="1201.2" r="2.5" fill="#22caca"/><circle cx="994.4" cy="1174.1" r="2.4" fill="#1cb8b8"/><circle cx="839.4" cy="1225.1" r="2.3" fill="#2ad4d4"/><circle cx="792.8" cy="1181.2" r="1.6" fill="#1cb8b8"/><circle cx="973.8" cy="1200.0" r="1.7" fill="#18a0a0"/><circle cx="950.9" cy="1174.1" r="2.0" fill="#22caca"/><circle cx="779.5" cy="1186.5" r="2.2" fill="#22caca"/><circle cx="783.1" cy="1252.2" r="1.7" fill="#1cb8b8"/><circle cx="812.0" cy="1208.3" r="1.6" fill="#2ad4d4"/><circle cx="763.3" cy="1205.3" r="2.5" fill="#1cb8b8"/><circle cx="838.2" cy="1191.3" r="2.0" fill="#2ad4d4"/><circle cx="749.6" cy="1161.2" r="1.7" fill="#1cb8b8"/><circle cx="960.1" cy="1185.7" r="2.0" fill="#2ad4d4"/><circle cx="799.3" cy="1168.5" r="2.1" fill="#1cb8b8"/><circle cx="810.0" cy="1173.4" r="2.5" fill="#22caca"/></g>
<g filter="url(#blur05)"><circle cx="1281.5" cy="1064.9" r="2.4" fill="#86dc22"/><circle cx="1239.2" cy="1166.1" r="2.0" fill="#7acc1c"/><circle cx="1265.5" cy="1074.8" r="2.4" fill="#7acc1c"/><circle cx="1276.9" cy="1077.7" r="2.0" fill="#68b018"/><circle cx="1024.5" cy="1056.1" r="2.3" fill="#7acc1c"/><circle cx="1130.0" cy="1091.8" r="2.1" fill="#90e428"/><circle cx="1102.7" cy="1105.4" r="2.4" fill="#86dc22"/><circle cx="1161.3" cy="1057.5" r="2.1" fill="#68b018"/><circle cx="1180.7" cy="1108.0" r="2.5" fill="#90e428"/><circle cx="1137.7" cy="1107.0" r="2.0" fill="#68b018"/><circle cx="1039.7" cy="1068.2" r="2.3" fill="#68b018"/><circle cx="1098.2" cy="1101.6" r="1.8" fill="#90e428"/><circle cx="1090.5" cy="1087.7" r="2.0" fill="#90e428"/><circle cx="1038.7" cy="1110.2" r="2.2" fill="#86dc22"/><circle cx="1160.3" cy="1071.5" r="1.9" fill="#7acc1c"/><circle cx="1129.6" cy="1050.9" r="1.9" fill="#7acc1c"/><circle cx="1145.5" cy="1050.4" r="2.3" fill="#7acc1c"/><circle cx="1171.0" cy="1110.4" r="1.9" fill="#7acc1c"/><circle cx="1112.5" cy="1056.4" r="1.8" fill="#90e428"/><circle cx="1158.4" cy="1104.8" r="2.1" fill="#90e428"/><circle cx="1292.1" cy="1146.6" r="2.1" fill="#86dc22"/><circle cx="1252.3" cy="1126.3" r="1.9" fill="#86dc22"/><circle cx="1050.3" cy="1080.0" r="1.9" fill="#68b018"/><circle cx="1247.3" cy="1052.0" r="2.4" fill="#68b018"/><circle cx="1222.9" cy="1105.7" r="2.4" fill="#86dc22"/><circle cx="1095.7" cy="1110.3" r="2.0" fill="#86dc22"/><circle cx="1205.8" cy="1133.7" r="1.9" fill="#68b018"/><circle cx="1031.6" cy="1128.6" r="1.9" fill="#68b018"/><circle cx="1242.6" cy="1130.7" r="2.0" fill="#7acc1c"/><circle cx="1062.1" cy="1091.1" r="2.1" fill="#86dc22"/><circle cx="1132.8" cy="1160.1" r="1.9" fill="#90e428"/><circle cx="1207.9" cy="1135.4" r="2.1" fill="#68b018"/><circle cx="1026.9" cy="1103.5" r="1.7" fill="#86dc22"/><circle cx="1228.7" cy="1102.3" r="2.1" fill="#68b018"/><circle cx="1264.7" cy="1080.6" r="2.3" fill="#7acc1c"/><circle cx="1300.4" cy="1153.8" r="2.1" fill="#68b018"/><circle cx="1111.9" cy="1069.3" r="1.8" fill="#68b018"/><circle cx="1041.3" cy="1046.3" r="2.5" fill="#86dc22"/><circle cx="1069.5" cy="1090.5" r="2.5" fill="#68b018"/><circle cx="1160.4" cy="1051.7" r="1.9" fill="#86dc22"/><circle cx="1214.1" cy="1071.0" r="2.3" fill="#7acc1c"/><circle cx="1280.6" cy="1068.4" r="1.8" fill="#86dc22"/><circle cx="1156.5" cy="1083.9" r="1.8" fill="#86dc22"/><circle cx="1245.9" cy="1078.8" r="2.0" fill="#86dc22"/><circle cx="1300.3" cy="1142.8" r="1.9" fill="#68b018"/><circle cx="1073.0" cy="1097.5" r="2.1" fill="#90e428"/><circle cx="1224.4" cy="1118.1" r="1.8" fill="#7acc1c"/><circle cx="1241.9" cy="1074.5" r="1.8" fill="#68b018"/><circle cx="1260.9" cy="1063.4" r="2.4" fill="#90e428"/><circle cx="1253.7" cy="1123.1" r="1.9" fill="#7acc1c"/><circle cx="1157.8" cy="1115.3" r="2.0" fill="#68b018"/><circle cx="1132.6" cy="1077.5" r="2.2" fill="#90e428"/><circle cx="1182.6" cy="1079.2" r="1.9" fill="#90e428"/><circle cx="1060.9" cy="1085.4" r="2.2" fill="#86dc22"/><circle cx="1237.1" cy="1065.1" r="2.4" fill="#90e428"/><circle cx="1142.9" cy="1053.6" r="2.2" fill="#90e428"/><circle cx="1255.9" cy="1147.3" r="1.8" fill="#90e428"/><circle cx="1184.9" cy="1072.4" r="2.0" fill="#86dc22"/><circle cx="1225.3" cy="1055.5" r="1.7" fill="#68b018"/><circle cx="1280.0" cy="1052.3" r="1.9" fill="#90e428"/><circle cx="1237.1" cy="1066.1" r="1.8" fill="#86dc22"/><circle cx="1061.8" cy="1052.7" r="2.2" fill="#7acc1c"/><circle cx="1129.8" cy="1082.6" r="2.0" fill="#68b018"/><circle cx="1211.4" cy="1136.2" r="1.9" fill="#90e428"/><circle cx="1188.6" cy="1101.9" r="1.8" fill="#68b018"/><circle cx="1164.8" cy="1113.0" r="2.4" fill="#90e428"/><circle cx="1216.1" cy="1091.8" r="1.7" fill="#86dc22"/><circle cx="1171.1" cy="1116.7" r="2.4" fill="#7acc1c"/><circle cx="1146.7" cy="1121.2" r="2.2" fill="#90e428"/><circle cx="1094.6" cy="1093.4" r="2.1" fill="#86dc22"/><circle cx="1256.7" cy="1135.5" r="2.3" fill="#68b018"/><circle cx="1038.7" cy="1133.1" r="1.8" fill="#7acc1c"/><circle cx="1082.9" cy="1086.3" r="2.3" fill="#7acc1c"/><circle cx="1284.6" cy="1101.7" r="2.3" fill="#90e428"/><circle cx="1276.0" cy="1104.4" r="2.3" fill="#7acc1c"/><circle cx="1136.7" cy="1060.7" r="2.2" fill="#7acc1c"/><circle cx="1235.4" cy="1091.9" r="1.9" fill="#90e428"/><circle cx="1224.2" cy="1093.2" r="2.3" fill="#7acc1c"/><circle cx="1163.3" cy="1091.2" r="1.8" fill="#86dc22"/><circle cx="1306.7" cy="1127.5" r="1.9" fill="#90e428"/><circle cx="1272.9" cy="1057.9" r="2.1" fill="#7acc1c"/><circle cx="1206.6" cy="1105.0" r="2.2" fill="#7acc1c"/><circle cx="1151.8" cy="1086.8" r="2.2" fill="#90e428"/><circle cx="1177.1" cy="1088.6" r="2.1" fill="#90e428"/><circle cx="1238.5" cy="1084.5" r="2.4" fill="#7acc1c"/><circle cx="1253.6" cy="1134.5" r="1.8" fill="#86dc22"/><circle cx="1215.2" cy="1146.1" r="2.2" fill="#86dc22"/><circle cx="1055.8" cy="1126.1" r="1.9" fill="#7acc1c"/><circle cx="1105.7" cy="1115.6" r="1.8" fill="#86dc22"/><circle cx="1080.5" cy="1075.8" r="1.7" fill="#86dc22"/><circle cx="1191.2" cy="1144.5" r="2.1" fill="#7acc1c"/><circle cx="1264.7" cy="1128.6" r="2.1" fill="#68b018"/><circle cx="1069.0" cy="1051.5" r="1.9" fill="#7acc1c"/><circle cx="1152.1" cy="1130.9" r="2.2" fill="#90e428"/><circle cx="1240.9" cy="1049.0" r="2.0" fill="#7acc1c"/><circle cx="1278.1" cy="1121.6" r="2.4" fill="#86dc22"/><circle cx="1139.9" cy="1117.0" r="2.2" fill="#86dc22"/><circle cx="1046.8" cy="1075.9" r="1.7" fill="#86dc22"/><circle cx="1071.9" cy="1066.0" r="2.2" fill="#90e428"/><circle cx="1279.1" cy="1146.7" r="2.4" fill="#90e428"/><circle cx="1029.2" cy="1053.9" r="2.4" fill="#86dc22"/><circle cx="1047.6" cy="1069.2" r="2.2" fill="#68b018"/><circle cx="1156.3" cy="1052.7" r="2.1" fill="#90e428"/><circle cx="1121.8" cy="1081.5" r="2.3" fill="#86dc22"/><circle cx="1235.4" cy="1158.5" r="1.9" fill="#90e428"/><circle cx="1286.7" cy="1077.8" r="2.5" fill="#86dc22"/><circle cx="1098.1" cy="1051.4" r="2.2" fill="#68b018"/><circle cx="1269.8" cy="1086.4" r="2.0" fill="#7acc1c"/><circle cx="1165.4" cy="1061.6" r="2.0" fill="#68b018"/><circle cx="1236.5" cy="1153.7" r="2.4" fill="#68b018"/><circle cx="1106.5" cy="1045.2" r="1.9" fill="#7acc1c"/><circle cx="1111.1" cy="1052.5" r="1.8" fill="#7acc1c"/><circle cx="1157.0" cy="1051.7" r="2.0" fill="#90e428"/><circle cx="1065.8" cy="1147.8" r="1.8" fill="#7acc1c"/><circle cx="1155.9" cy="1150.5" r="2.5" fill="#68b018"/><circle cx="1257.5" cy="1105.3" r="2.1" fill="#90e428"/><circle cx="1146.5" cy="1044.7" r="2.1" fill="#90e428"/><circle cx="1288.5" cy="1071.5" r="2.2" fill="#86dc22"/><circle cx="1261.8" cy="1103.4" r="2.0" fill="#90e428"/><circle cx="1236.4" cy="1109.2" r="2.0" fill="#7acc1c"/><circle cx="1171.1" cy="1086.8" r="1.8" fill="#68b018"/><circle cx="1038.7" cy="1073.2" r="2.0" fill="#7acc1c"/><circle cx="1029.1" cy="1110.7" r="2.1" fill="#7acc1c"/><circle cx="1082.7" cy="1137.8" r="2.3" fill="#7acc1c"/><circle cx="1151.9" cy="1068.4" r="2.2" fill="#7acc1c"/><circle cx="1278.5" cy="1060.3" r="2.0" fill="#7acc1c"/><circle cx="1040.1" cy="1104.1" r="1.9" fill="#86dc22"/><circle cx="1119.0" cy="1135.9" r="2.2" fill="#90e428"/><circle cx="1216.5" cy="1135.7" r="1.9" fill="#68b018"/><circle cx="1251.8" cy="1095.3" r="2.0" fill="#7acc1c"/><circle cx="1171.4" cy="1083.4" r="2.4" fill="#86dc22"/><circle cx="1243.2" cy="1084.6" r="1.9" fill="#90e428"/><circle cx="1106.0" cy="1085.9" r="2.1" fill="#7acc1c"/><circle cx="1089.8" cy="1066.1" r="2.3" fill="#7acc1c"/><circle cx="1201.8" cy="1075.4" r="1.9" fill="#7acc1c"/><circle cx="1031.0" cy="1085.3" r="2.3" fill="#86dc22"/><circle cx="1246.1" cy="1137.8" r="2.4" fill="#68b018"/><circle cx="1270.3" cy="1133.5" r="2.4" fill="#68b018"/><circle cx="1158.2" cy="1084.0" r="1.9" fill="#68b018"/><circle cx="1043.8" cy="1130.0" r="1.8" fill="#86dc22"/><circle cx="1200.2" cy="1100.7" r="2.1" fill="#7acc1c"/><circle cx="1041.4" cy="1149.1" r="2.0" fill="#7acc1c"/><circle cx="1141.6" cy="1136.1" r="2.0" fill="#68b018"/><circle cx="1174.9" cy="1145.9" r="1.8" fill="#7acc1c"/><circle cx="1112.1" cy="1049.7" r="1.8" fill="#7acc1c"/><circle cx="1241.6" cy="1054.6" r="2.1" fill="#7acc1c"/><circle cx="1285.3" cy="1060.6" r="2.4" fill="#68b018"/><circle cx="1040.4" cy="1133.3" r="2.5" fill="#86dc22"/><circle cx="1032.4" cy="1129.8" r="2.1" fill="#7acc1c"/><circle cx="1265.3" cy="1130.2" r="2.1" fill="#86dc22"/><circle cx="1119.5" cy="1111.6" r="2.4" fill="#7acc1c"/><circle cx="1063.7" cy="1135.1" r="2.2" fill="#90e428"/><circle cx="1226.4" cy="1140.2" r="2.5" fill="#7acc1c"/><circle cx="1281.7" cy="1131.5" r="2.2" fill="#7acc1c"/><circle cx="1173.5" cy="1135.4" r="1.8" fill="#90e428"/><circle cx="1112.5" cy="1151.0" r="2.5" fill="#86dc22"/><circle cx="1138.2" cy="1074.6" r="2.3" fill="#7acc1c"/><circle cx="1132.7" cy="1149.5" r="1.9" fill="#7acc1c"/><circle cx="1179.7" cy="1055.1" r="1.7" fill="#86dc22"/><circle cx="1132.6" cy="1072.9" r="1.9" fill="#86dc22"/><circle cx="1134.5" cy="1069.6" r="1.8" fill="#7acc1c"/><circle cx="1246.8" cy="1141.9" r="2.4" fill="#90e428"/><circle cx="1251.0" cy="1046.7" r="2.1" fill="#90e428"/><circle cx="1168.6" cy="1150.5" r="1.7" fill="#90e428"/><circle cx="1300.6" cy="1124.2" r="1.9" fill="#68b018"/><circle cx="1111.7" cy="1139.3" r="2.3" fill="#7acc1c"/><circle cx="1264.3" cy="1133.1" r="1.8" fill="#68b018"/><circle cx="1210.4" cy="1050.4" r="2.4" fill="#7acc1c"/><circle cx="1022.4" cy="1073.6" r="2.0" fill="#86dc22"/><circle cx="1120.4" cy="1146.9" r="2.1" fill="#86dc22"/><circle cx="1033.6" cy="1048.0" r="2.3" fill="#68b018"/><circle cx="1306.7" cy="1073.1" r="1.9" fill="#7acc1c"/><circle cx="1108.3" cy="1124.6" r="2.0" fill="#86dc22"/><circle cx="1134.8" cy="1080.5" r="2.0" fill="#68b018"/><circle cx="1291.1" cy="1044.7" r="1.9" fill="#68b018"/><circle cx="1215.0" cy="1142.8" r="1.8" fill="#68b018"/><circle cx="1206.0" cy="1049.9" r="2.2" fill="#68b018"/><circle cx="1275.9" cy="1065.6" r="1.9" fill="#68b018"/><circle cx="1065.3" cy="1083.5" r="2.4" fill="#68b018"/><circle cx="1166.2" cy="1086.0" r="1.9" fill="#68b018"/><circle cx="1146.9" cy="1083.5" r="2.1" fill="#86dc22"/><circle cx="1090.7" cy="1137.1" r="2.5" fill="#68b018"/><circle cx="1213.6" cy="1050.2" r="2.5" fill="#7acc1c"/><circle cx="1277.7" cy="1065.8" r="1.8" fill="#86dc22"/><circle cx="1154.0" cy="1141.9" r="2.4" fill="#90e428"/><circle cx="1230.3" cy="1090.6" r="2.5" fill="#68b018"/><circle cx="1040.6" cy="1058.6" r="1.9" fill="#86dc22"/><circle cx="1275.1" cy="1162.2" r="2.2" fill="#68b018"/><circle cx="1127.9" cy="1124.2" r="2.1" fill="#7acc1c"/><circle cx="1164.3" cy="1049.9" r="2.4" fill="#7acc1c"/><circle cx="1267.5" cy="1127.5" r="2.3" fill="#68b018"/><circle cx="1111.1" cy="1105.9" r="1.8" fill="#7acc1c"/><circle cx="1130.2" cy="1127.3" r="2.2" fill="#68b018"/><circle cx="1275.2" cy="1119.1" r="1.7" fill="#90e428"/><circle cx="1113.2" cy="1088.5" r="2.3" fill="#68b018"/><circle cx="1261.5" cy="1140.6" r="2.0" fill="#7acc1c"/><circle cx="1283.0" cy="1122.2" r="1.7" fill="#7acc1c"/><circle cx="1306.8" cy="1161.3" r="1.9" fill="#86dc22"/><circle cx="1149.5" cy="1044.6" r="1.9" fill="#90e428"/><circle cx="1294.8" cy="1073.0" r="1.8" fill="#7acc1c"/><circle cx="1081.8" cy="1114.6" r="2.5" fill="#86dc22"/><circle cx="1286.8" cy="1130.0" r="1.7" fill="#90e428"/><circle cx="1268.4" cy="1129.4" r="2.3" fill="#90e428"/><circle cx="1184.4" cy="1103.9" r="2.2" fill="#68b018"/><circle cx="1184.6" cy="1046.1" r="2.4" fill="#68b018"/><circle cx="1105.3" cy="1111.0" r="2.1" fill="#86dc22"/><circle cx="1234.7" cy="1056.4" r="2.1" fill="#90e428"/><circle cx="1248.7" cy="1122.7" r="2.0" fill="#68b018"/><circle cx="1038.9" cy="1091.4" r="2.4" fill="#68b018"/><circle cx="1290.9" cy="1140.4" r="2.5" fill="#68b018"/><circle cx="1203.9" cy="1053.2" r="2.1" fill="#90e428"/><circle cx="1141.2" cy="1086.2" r="2.0" fill="#68b018"/><circle cx="1305.0" cy="1111.1" r="2.4" fill="#90e428"/><circle cx="1299.6" cy="1107.8" r="2.2" fill="#86dc22"/><circle cx="1236.8" cy="1044.4" r="2.4" fill="#90e428"/><circle cx="1270.7" cy="1122.8" r="1.8" fill="#7acc1c"/><circle cx="1069.2" cy="1045.3" r="2.3" fill="#68b018"/><circle cx="1207.4" cy="1159.0" r="2.0" fill="#90e428"/><circle cx="1184.6" cy="1050.1" r="2.0" fill="#7acc1c"/><circle cx="1038.2" cy="1109.6" r="2.4" fill="#90e428"/><circle cx="1225.5" cy="1071.4" r="1.8" fill="#7acc1c"/><circle cx="1154.2" cy="1063.4" r="2.0" fill="#86dc22"/><circle cx="1083.2" cy="1063.2" r="2.2" fill="#86dc22"/><circle cx="1147.3" cy="1047.0" r="2.4" fill="#90e428"/><circle cx="1061.2" cy="1133.8" r="2.3" fill="#68b018"/><circle cx="1194.6" cy="1073.9" r="1.8" fill="#86dc22"/><circle cx="1084.1" cy="1126.0" r="2.0" fill="#86dc22"/><circle cx="1037.8" cy="1145.1" r="2.3" fill="#86dc22"/><circle cx="1279.8" cy="1064.8" r="1.8" fill="#90e428"/><circle cx="1245.5" cy="1114.1" r="1.8" fill="#68b018"/><circle cx="1088.5" cy="1151.5" r="1.8" fill="#86dc22"/><circle cx="1228.0" cy="1057.5" r="2.2" fill="#7acc1c"/><circle cx="1154.2" cy="1121.4" r="2.1" fill="#86dc22"/><circle cx="1083.9" cy="1153.4" r="1.8" fill="#86dc22"/><circle cx="1168.0" cy="1107.5" r="2.1" fill="#68b018"/><circle cx="1278.2" cy="1116.8" r="2.0" fill="#7acc1c"/><circle cx="1140.7" cy="1085.2" r="2.2" fill="#86dc22"/><circle cx="1071.3" cy="1071.6" r="2.1" fill="#86dc22"/><circle cx="1177.2" cy="1096.9" r="1.9" fill="#68b018"/><circle cx="1270.1" cy="1090.1" r="2.4" fill="#86dc22"/><circle cx="1146.7" cy="1083.9" r="2.0" fill="#86dc22"/><circle cx="1203.4" cy="1101.8" r="2.2" fill="#7acc1c"/><circle cx="1063.0" cy="1120.8" r="2.2" fill="#90e428"/><circle cx="1057.9" cy="1082.1" r="1.8" fill="#90e428"/><circle cx="1191.1" cy="1105.4" r="1.7" fill="#68b018"/><circle cx="1101.4" cy="1111.4" r="2.2" fill="#68b018"/><circle cx="1156.9" cy="1110.2" r="2.1" fill="#90e428"/><circle cx="1164.9" cy="1073.7" r="1.8" fill="#86dc22"/><circle cx="1122.7" cy="1093.6" r="2.0" fill="#68b018"/><circle cx="1042.2" cy="1056.3" r="1.8" fill="#90e428"/><circle cx="1231.6" cy="1087.3" r="2.3" fill="#90e428"/><circle cx="1155.0" cy="1153.2" r="1.9" fill="#90e428"/><circle cx="1034.3" cy="1146.5" r="2.2" fill="#90e428"/><circle cx="1167.4" cy="1137.0" r="2.5" fill="#7acc1c"/><circle cx="1067.0" cy="1129.1" r="1.9" fill="#68b018"/><circle cx="1235.2" cy="1043.5" r="1.8" fill="#7acc1c"/><circle cx="1218.1" cy="1125.7" r="2.3" fill="#7acc1c"/><circle cx="1215.6" cy="1095.6" r="1.8" fill="#86dc22"/><circle cx="1115.5" cy="1118.4" r="2.0" fill="#7acc1c"/><circle cx="1085.0" cy="1148.7" r="2.0" fill="#7acc1c"/><circle cx="1179.7" cy="1128.9" r="2.3" fill="#7acc1c"/><circle cx="1103.8" cy="1060.9" r="1.9" fill="#86dc22"/><circle cx="1252.3" cy="1101.2" r="1.8" fill="#86dc22"/><circle cx="1100.7" cy="1111.8" r="1.7" fill="#68b018"/><circle cx="1028.1" cy="1115.5" r="2.5" fill="#7acc1c"/><circle cx="1248.0" cy="1085.9" r="2.0" fill="#68b018"/><circle cx="1289.7" cy="1058.3" r="1.9" fill="#68b018"/><circle cx="1094.9" cy="1123.5" r="2.0" fill="#90e428"/><circle cx="1183.5" cy="1156.1" r="2.1" fill="#68b018"/><circle cx="1250.4" cy="1051.9" r="2.0" fill="#7acc1c"/><circle cx="1253.4" cy="1125.9" r="2.5" fill="#7acc1c"/><circle cx="1025.8" cy="1160.6" r="2.5" fill="#90e428"/><circle cx="1044.0" cy="1070.7" r="1.7" fill="#68b018"/><circle cx="1232.4" cy="1061.6" r="1.9" fill="#86dc22"/><circle cx="1111.1" cy="1071.9" r="2.3" fill="#86dc22"/><circle cx="1146.8" cy="1059.1" r="2.4" fill="#7acc1c"/><circle cx="1299.2" cy="1162.7" r="2.4" fill="#90e428"/><circle cx="1063.4" cy="1115.7" r="2.1" fill="#68b018"/><circle cx="1299.9" cy="1145.0" r="2.2" fill="#90e428"/><circle cx="1261.1" cy="1048.3" r="2.4" fill="#7acc1c"/><circle cx="1164.0" cy="1139.4" r="1.8" fill="#7acc1c"/><circle cx="1142.7" cy="1126.1" r="2.4" fill="#7acc1c"/><circle cx="1224.4" cy="1066.7" r="2.1" fill="#7acc1c"/><circle cx="1058.4" cy="1082.8" r="2.1" fill="#86dc22"/><circle cx="1046.4" cy="1064.2" r="2.3" fill="#7acc1c"/><circle cx="1033.5" cy="1086.3" r="2.5" fill="#7acc1c"/><circle cx="1220.3" cy="1065.2" r="2.5" fill="#90e428"/><circle cx="1154.5" cy="1057.1" r="1.9" fill="#90e428"/><circle cx="1078.7" cy="1090.2" r="1.9" fill="#90e428"/><circle cx="1290.6" cy="1069.1" r="2.5" fill="#86dc22"/><circle cx="1056.9" cy="1156.1" r="2.0" fill="#7acc1c"/><circle cx="1139.0" cy="1101.9" r="2.1" fill="#86dc22"/><circle cx="1160.1" cy="1046.2" r="2.3" fill="#68b018"/><circle cx="1214.3" cy="1161.8" r="2.5" fill="#86dc22"/><circle cx="1276.9" cy="1147.8" r="2.0" fill="#7acc1c"/><circle cx="1209.1" cy="1101.8" r="1.7" fill="#7acc1c"/><circle cx="1178.4" cy="1159.7" r="2.1" fill="#86dc22"/><circle cx="1147.5" cy="1046.0" r="2.2" fill="#68b018"/><circle cx="1202.9" cy="1130.1" r="1.9" fill="#86dc22"/><circle cx="1168.1" cy="1062.5" r="1.9" fill="#90e428"/><circle cx="1036.1" cy="1146.8" r="2.0" fill="#86dc22"/><circle cx="1164.0" cy="1133.9" r="2.4" fill="#86dc22"/><circle cx="1067.0" cy="1128.3" r="2.3" fill="#86dc22"/><circle cx="1289.9" cy="1154.5" r="2.2" fill="#86dc22"/><circle cx="1223.5" cy="1068.0" r="2.1" fill="#68b018"/><circle cx="1130.8" cy="1130.5" r="1.8" fill="#68b018"/><circle cx="1117.5" cy="1106.3" r="1.9" fill="#68b018"/><circle cx="1277.5" cy="1068.2" r="1.8" fill="#68b018"/><circle cx="1305.6" cy="1070.8" r="2.3" fill="#86dc22"/><circle cx="1211.7" cy="1124.1" r="2.2" fill="#90e428"/><circle cx="1023.6" cy="1119.5" r="2.3" fill="#7acc1c"/><circle cx="1115.4" cy="1127.8" r="1.7" fill="#90e428"/><circle cx="1182.0" cy="1148.7" r="2.1" fill="#90e428"/><circle cx="1185.9" cy="1115.1" r="2.0" fill="#86dc22"/><circle cx="1162.6" cy="1152.4" r="2.2" fill="#90e428"/><circle cx="1144.4" cy="1053.9" r="2.3" fill="#68b018"/><circle cx="1140.5" cy="1081.8" r="2.1" fill="#68b018"/><circle cx="1167.1" cy="1136.1" r="2.3" fill="#68b018"/><circle cx="1023.6" cy="1120.7" r="2.4" fill="#90e428"/><circle cx="1060.5" cy="1092.7" r="2.3" fill="#7acc1c"/><circle cx="1272.2" cy="1123.0" r="2.3" fill="#7acc1c"/><circle cx="1045.6" cy="1102.3" r="1.9" fill="#7acc1c"/><circle cx="1127.4" cy="1047.7" r="2.1" fill="#7acc1c"/><circle cx="1260.2" cy="1082.5" r="1.9" fill="#90e428"/><circle cx="1040.9" cy="1077.1" r="2.5" fill="#90e428"/><circle cx="1245.3" cy="1070.2" r="2.1" fill="#68b018"/><circle cx="1167.2" cy="1109.1" r="2.2" fill="#86dc22"/><circle cx="1172.6" cy="1144.5" r="2.4" fill="#7acc1c"/><circle cx="1206.9" cy="1079.6" r="1.8" fill="#86dc22"/><circle cx="1205.7" cy="1084.9" r="1.8" fill="#86dc22"/><circle cx="1217.2" cy="1135.1" r="1.7" fill="#86dc22"/><circle cx="1295.5" cy="1049.1" r="2.3" fill="#68b018"/><circle cx="1260.7" cy="1150.1" r="2.0" fill="#86dc22"/><circle cx="1289.6" cy="1089.4" r="2.3" fill="#7acc1c"/><circle cx="1265.0" cy="1156.2" r="1.9" fill="#68b018"/><circle cx="1166.7" cy="1101.7" r="2.2" fill="#90e428"/><circle cx="1029.7" cy="1053.8" r="2.0" fill="#68b018"/><circle cx="1247.9" cy="1159.6" r="2.0" fill="#86dc22"/><circle cx="1193.6" cy="1158.6" r="1.9" fill="#68b018"/><circle cx="1295.1" cy="1128.2" r="2.5" fill="#90e428"/><circle cx="1238.4" cy="1128.2" r="1.8" fill="#86dc22"/><circle cx="1261.3" cy="1077.4" r="2.4" fill="#86dc22"/><circle cx="1069.2" cy="1162.6" r="2.3" fill="#68b018"/><circle cx="1266.8" cy="1072.5" r="2.4" fill="#90e428"/><circle cx="1096.4" cy="1051.0" r="2.2" fill="#68b018"/><circle cx="1305.6" cy="1051.3" r="2.5" fill="#86dc22"/><circle cx="1131.6" cy="1125.5" r="2.0" fill="#90e428"/><circle cx="1298.2" cy="1071.0" r="2.1" fill="#86dc22"/><circle cx="1141.1" cy="1105.0" r="1.8" fill="#68b018"/><circle cx="1111.5" cy="1051.0" r="2.0" fill="#86dc22"/><circle cx="1131.7" cy="1129.1" r="2.1" fill="#86dc22"/><circle cx="1159.4" cy="1113.0" r="2.3" fill="#68b018"/><circle cx="1078.2" cy="1077.2" r="1.8" fill="#86dc22"/><circle cx="1170.8" cy="1058.8" r="2.4" fill="#68b018"/><circle cx="1278.6" cy="1105.0" r="1.7" fill="#90e428"/><circle cx="1288.4" cy="1117.3" r="2.2" fill="#68b018"/><circle cx="1050.6" cy="1108.7" r="2.2" fill="#90e428"/><circle cx="1300.0" cy="1086.4" r="2.4" fill="#86dc22"/><circle cx="1120.1" cy="1055.6" r="2.0" fill="#7acc1c"/><circle cx="1130.6" cy="1057.8" r="2.0" fill="#68b018"/><circle cx="1298.8" cy="1108.8" r="2.2" fill="#90e428"/><circle cx="1102.9" cy="1086.6" r="2.0" fill="#86dc22"/><circle cx="1187.1" cy="1066.5" r="2.4" fill="#7acc1c"/><circle cx="1242.0" cy="1085.0" r="2.4" fill="#68b018"/><circle cx="1220.6" cy="1106.5" r="2.0" fill="#86dc22"/><circle cx="1287.3" cy="1069.1" r="2.2" fill="#7acc1c"/><circle cx="1295.5" cy="1130.8" r="1.9" fill="#68b018"/><circle cx="1072.2" cy="1067.9" r="2.3" fill="#86dc22"/><circle cx="1076.7" cy="1081.7" r="1.8" fill="#86dc22"/><circle cx="1224.7" cy="1136.6" r="2.3" fill="#86dc22"/><circle cx="1189.6" cy="1098.5" r="1.7" fill="#7acc1c"/><circle cx="1082.1" cy="1052.4" r="2.3" fill="#7acc1c"/><circle cx="1169.2" cy="1130.5" r="2.3" fill="#7acc1c"/><circle cx="1237.1" cy="1074.3" r="2.3" fill="#7acc1c"/><circle cx="1053.9" cy="1080.8" r="2.2" fill="#90e428"/><circle cx="1051.1" cy="1068.5" r="2.5" fill="#7acc1c"/><circle cx="1187.9" cy="1131.1" r="1.9" fill="#86dc22"/><circle cx="1098.4" cy="1171.7" r="2.5" fill="#68b018"/><circle cx="1169.2" cy="1089.2" r="2.3" fill="#7acc1c"/><circle cx="1224.8" cy="1113.3" r="2.4" fill="#7acc1c"/><circle cx="1073.9" cy="1118.6" r="2.4" fill="#90e428"/><circle cx="1304.0" cy="1162.6" r="2.1" fill="#86dc22"/><circle cx="1082.4" cy="1059.1" r="1.7" fill="#68b018"/><circle cx="1189.3" cy="1140.6" r="1.8" fill="#86dc22"/><circle cx="1214.7" cy="1093.7" r="2.0" fill="#86dc22"/><circle cx="1305.3" cy="1046.5" r="2.0" fill="#86dc22"/><circle cx="1192.4" cy="1135.1" r="1.8" fill="#86dc22"/><circle cx="1169.0" cy="1099.5" r="2.4" fill="#7acc1c"/><circle cx="1270.6" cy="1045.9" r="2.2" fill="#86dc22"/><circle cx="1030.2" cy="1050.2" r="2.4" fill="#86dc22"/><circle cx="1144.3" cy="1113.1" r="2.1" fill="#68b018"/><circle cx="1132.2" cy="1092.1" r="2.1" fill="#7acc1c"/><circle cx="1126.6" cy="1060.6" r="1.9" fill="#86dc22"/><circle cx="1284.3" cy="1091.8" r="2.3" fill="#7acc1c"/><circle cx="1177.3" cy="1064.5" r="2.4" fill="#7acc1c"/><circle cx="1065.6" cy="1057.6" r="2.4" fill="#86dc22"/><circle cx="1249.5" cy="1059.5" r="1.8" fill="#90e428"/><circle cx="1110.5" cy="1117.9" r="2.3" fill="#7acc1c"/><circle cx="1049.8" cy="1108.5" r="2.5" fill="#90e428"/><circle cx="1154.4" cy="1142.0" r="2.4" fill="#7acc1c"/><circle cx="1089.7" cy="1061.5" r="2.3" fill="#90e428"/><circle cx="1286.2" cy="1043.8" r="2.2" fill="#68b018"/><circle cx="1277.6" cy="1090.2" r="1.9" fill="#68b018"/><circle cx="1242.9" cy="1153.2" r="2.2" fill="#90e428"/><circle cx="1144.8" cy="1105.9" r="1.8" fill="#7acc1c"/><circle cx="1033.1" cy="1165.1" r="2.4" fill="#90e428"/><circle cx="1096.4" cy="1145.2" r="2.3" fill="#7acc1c"/><circle cx="1119.0" cy="1053.4" r="2.2" fill="#86dc22"/><circle cx="1237.4" cy="1052.8" r="1.9" fill="#86dc22"/><circle cx="1244.4" cy="1102.0" r="2.3" fill="#90e428"/><circle cx="1217.9" cy="1065.7" r="2.0" fill="#90e428"/><circle cx="1145.5" cy="1166.0" r="2.4" fill="#90e428"/><circle cx="1103.6" cy="1048.2" r="2.3" fill="#68b018"/><circle cx="1036.0" cy="1111.8" r="2.1" fill="#7acc1c"/><circle cx="1235.6" cy="1068.2" r="2.0" fill="#86dc22"/><circle cx="1137.7" cy="1073.2" r="1.8" fill="#7acc1c"/><circle cx="1082.1" cy="1077.2" r="2.4" fill="#86dc22"/><circle cx="1151.8" cy="1074.7" r="1.8" fill="#86dc22"/><circle cx="1155.5" cy="1135.6" r="1.8" fill="#68b018"/><circle cx="1211.0" cy="1056.3" r="2.1" fill="#7acc1c"/><circle cx="1138.7" cy="1113.8" r="2.4" fill="#86dc22"/><circle cx="1104.4" cy="1091.1" r="2.2" fill="#68b018"/><circle cx="1093.1" cy="1130.3" r="1.7" fill="#86dc22"/><circle cx="1116.5" cy="1048.0" r="1.9" fill="#90e428"/><circle cx="1141.1" cy="1154.5" r="2.3" fill="#68b018"/><circle cx="1046.6" cy="1050.5" r="2.1" fill="#68b018"/><circle cx="1077.1" cy="1077.7" r="2.4" fill="#7acc1c"/><circle cx="1201.5" cy="1093.5" r="1.9" fill="#86dc22"/><circle cx="1216.3" cy="1076.4" r="1.9" fill="#90e428"/><circle cx="1150.0" cy="1051.4" r="1.9" fill="#86dc22"/><circle cx="1190.4" cy="1160.7" r="2.1" fill="#90e428"/><circle cx="1041.5" cy="1100.7" r="2.4" fill="#7acc1c"/><circle cx="1210.5" cy="1046.3" r="1.9" fill="#68b018"/><circle cx="1247.4" cy="1147.3" r="2.5" fill="#86dc22"/><circle cx="1250.9" cy="1074.7" r="1.8" fill="#68b018"/><circle cx="1071.0" cy="1152.5" r="2.4" fill="#68b018"/><circle cx="1258.2" cy="1064.4" r="2.1" fill="#90e428"/><circle cx="1147.2" cy="1066.7" r="1.8" fill="#68b018"/><circle cx="1060.0" cy="1114.8" r="2.1" fill="#7acc1c"/><circle cx="1145.1" cy="1074.0" r="2.5" fill="#7acc1c"/><circle cx="1281.0" cy="1130.0" r="2.4" fill="#68b018"/><circle cx="1096.7" cy="1058.4" r="2.0" fill="#90e428"/><circle cx="1252.6" cy="1055.1" r="2.1" fill="#86dc22"/><circle cx="1085.4" cy="1063.2" r="2.4" fill="#86dc22"/><circle cx="1271.5" cy="1054.1" r="1.9" fill="#7acc1c"/><circle cx="1109.6" cy="1120.9" r="1.9" fill="#7acc1c"/><circle cx="1263.7" cy="1141.9" r="2.4" fill="#68b018"/><circle cx="1288.7" cy="1101.3" r="2.4" fill="#90e428"/><circle cx="1174.4" cy="1084.1" r="2.2" fill="#68b018"/><circle cx="1080.6" cy="1139.0" r="1.8" fill="#7acc1c"/><circle cx="1058.4" cy="1089.8" r="2.2" fill="#90e428"/><circle cx="1210.4" cy="1060.0" r="2.0" fill="#86dc22"/><circle cx="1028.8" cy="1099.7" r="1.9" fill="#86dc22"/><circle cx="1192.8" cy="1048.8" r="2.0" fill="#68b018"/><circle cx="1105.9" cy="1058.7" r="2.0" fill="#7acc1c"/><circle cx="1201.2" cy="1190.4" r="2.1" fill="#86dc22"/><circle cx="1129.5" cy="1193.8" r="2.3" fill="#68b018"/><circle cx="1222.7" cy="1238.5" r="1.8" fill="#86dc22"/><circle cx="1176.9" cy="1201.5" r="1.9" fill="#7acc1c"/><circle cx="1106.3" cy="1233.8" r="2.0" fill="#7acc1c"/><circle cx="1032.4" cy="1169.0" r="2.2" fill="#68b018"/><circle cx="1114.2" cy="1217.0" r="2.0" fill="#90e428"/><circle cx="1229.8" cy="1237.4" r="1.8" fill="#7acc1c"/><circle cx="1224.1" cy="1191.4" r="2.2" fill="#86dc22"/><circle cx="1047.8" cy="1180.7" r="2.3" fill="#68b018"/><circle cx="1208.5" cy="1233.3" r="2.2" fill="#68b018"/><circle cx="1301.7" cy="1188.8" r="2.2" fill="#68b018"/><circle cx="1231.4" cy="1168.9" r="2.5" fill="#7acc1c"/><circle cx="1127.1" cy="1141.9" r="2.0" fill="#68b018"/><circle cx="1178.6" cy="1178.6" r="2.0" fill="#68b018"/><circle cx="1139.3" cy="1189.4" r="2.3" fill="#68b018"/><circle cx="1195.6" cy="1240.6" r="2.5" fill="#86dc22"/><circle cx="1269.1" cy="1174.5" r="2.2" fill="#7acc1c"/><circle cx="1248.4" cy="1178.5" r="1.7" fill="#7acc1c"/><circle cx="1157.0" cy="1221.3" r="2.3" fill="#90e428"/><circle cx="1232.0" cy="1161.0" r="1.9" fill="#7acc1c"/><circle cx="1052.3" cy="1162.3" r="2.1" fill="#90e428"/><circle cx="1277.1" cy="1144.9" r="2.1" fill="#68b018"/><circle cx="1060.5" cy="1178.3" r="2.3" fill="#86dc22"/><circle cx="1142.3" cy="1248.2" r="2.2" fill="#7acc1c"/><circle cx="1105.1" cy="1157.6" r="2.0" fill="#86dc22"/><circle cx="1067.0" cy="1212.5" r="2.0" fill="#90e428"/><circle cx="1225.1" cy="1179.8" r="2.1" fill="#7acc1c"/></g>
<text x="137.5" y="606.0" font-size="32.5" font-weight="bold" fill="#000" font-family="'Liberation Sans', Arial, sans-serif" textLength="38.0" lengthAdjust="spacingAndGlyphs" >(c)</text>
<text x="439.5" y="606.0" font-size="32.5" font-weight="bold" fill="#000" font-family="'Liberation Sans', Arial, sans-serif" textLength="41.0" lengthAdjust="spacingAndGlyphs" >(d)</text>
<text x="737.0" y="606.0" font-size="32.5" font-weight="bold" fill="#000" font-family="'Liberation Sans', Arial, sans-serif" textLength="42.0" lengthAdjust="spacingAndGlyphs" >(e)</text>
<text x="1037.4" y="606.0" font-size="32.5" font-weight="bold" fill="#000" font-family="'Liberation Sans', Arial, sans-serif" textLength="35.0" lengthAdjust="spacingAndGlyphs" >(f)</text>
<text x="139.7" y="836.5" font-size="32.5" font-weight="bold" fill="#000" font-family="'Liberation Sans', Arial, sans-serif" textLength="39.0" lengthAdjust="spacingAndGlyphs" >(g)</text>
<text x="441.0" y="836.5" font-size="32.5" font-weight="bold" fill="#000" font-family="'Liberation Sans', Arial, sans-serif" textLength="40.5" lengthAdjust="spacingAndGlyphs" >(h)</text>
<text x="740.0" y="836.5" font-size="32.5" font-weight="bold" fill="#000" font-family="'Liberation Sans', Arial, sans-serif" textLength="30.0" lengthAdjust="spacingAndGlyphs" >(i)</text>
<text x="1040.6" y="836.5" font-size="32.5" font-weight="bold" fill="#000" font-family="'Liberation Sans', Arial, sans-serif" textLength="30.0" lengthAdjust="spacingAndGlyphs" >(j)</text>
<text x="236.5" y="734.5" font-size="27.0" font-weight="bold" fill="#000" font-family="'Liberation Sans', Arial, sans-serif" textLength="42.7" lengthAdjust="spacingAndGlyphs" >flat</text>
<text x="540.0" y="683.7" font-size="27.0" font-weight="bold" fill="#000" font-family="'Liberation Sans', Arial, sans-serif" textLength="96.0" lengthAdjust="spacingAndGlyphs" >smooth</text>
<text x="796.4" y="904.3" font-size="23.5" font-weight="bold" fill="#000" font-family="'Liberation Sans', Arial, sans-serif" textLength="128.0" lengthAdjust="spacingAndGlyphs" >Deposited Li</text>
<text x="220.7" y="862.9" font-size="27.5" font-weight="bold" fill="#f4f4f4" font-family="'Liberation Sans', Arial, sans-serif" textLength="75.0" lengthAdjust="spacingAndGlyphs" >V-film</text>
<text x="261.2" y="970.0" font-size="29.5" font-weight="bold" fill="#f4f4f4" font-family="'Liberation Sans', Arial, sans-serif" textLength="21.0" lengthAdjust="spacingAndGlyphs" >Li</text>
<text x="566.2" y="971.3" font-size="29.5" font-weight="bold" fill="#f4f4f4" font-family="'Liberation Sans', Arial, sans-serif" textLength="21.0" lengthAdjust="spacingAndGlyphs" >Li</text>
<text x="859.0" y="975.2" font-size="29.5" font-weight="bold" fill="#f4f4f4" font-family="'Liberation Sans', Arial, sans-serif" textLength="20.6" lengthAdjust="spacingAndGlyphs" >Li</text>
<text x="1177.7" y="983.0" font-size="29.5" font-weight="bold" fill="#f4f4f4" font-family="'Liberation Sans', Arial, sans-serif" textLength="21.0" lengthAdjust="spacingAndGlyphs" >Li</text>
<text x="324.2" y="760.2" font-size="22.6" font-weight="bold" fill="#fff" font-family="'Liberation Sans', Arial, sans-serif" textLength="72.0" lengthAdjust="spacingAndGlyphs" >10 μm</text>
<rect x="339.0" y="767.8" width="54.0" height="7.2" fill="#fff"/>
<text x="626.5" y="758.8" font-size="22.6" font-weight="bold" fill="#fff" font-family="'Liberation Sans', Arial, sans-serif" textLength="71.9" lengthAdjust="spacingAndGlyphs" >10 μm</text>
<rect x="639.0" y="767.8" width="55.4" height="7.2" fill="#fff"/>
<text x="925.3" y="759.8" font-size="22.6" font-weight="bold" fill="#fff" font-family="'Liberation Sans', Arial, sans-serif" textLength="70.9" lengthAdjust="spacingAndGlyphs" >10 μm</text>
<rect x="939.0" y="765.8" width="55.0" height="8.2" fill="#fff"/>
<text x="1221.6" y="759.8" font-size="22.6" font-weight="bold" fill="#fff" font-family="'Liberation Sans', Arial, sans-serif" textLength="70.4" lengthAdjust="spacingAndGlyphs" >10 μm</text>
<rect x="1237.6" y="768.0" width="54.4" height="7.0" fill="#fff"/>
<text x="321.0" y="991.5" font-size="23.2" font-weight="bold" fill="#fff" font-family="'Liberation Sans', Arial, sans-serif" textLength="70.7" lengthAdjust="spacingAndGlyphs" >20 μm</text>
<rect x="333.2" y="999.2" width="57.1" height="6.8" fill="#fff"/>
<text x="621.0" y="988.8" font-size="23.2" font-weight="bold" fill="#fff" font-family="'Liberation Sans', Arial, sans-serif" textLength="73.4" lengthAdjust="spacingAndGlyphs" >20 μm</text>
<rect x="633.2" y="997.0" width="61.2" height="6.7" fill="#fff"/>
<text x="924.0" y="990.3" font-size="23.2" font-weight="bold" fill="#fff" font-family="'Liberation Sans', Arial, sans-serif" textLength="70.8" lengthAdjust="spacingAndGlyphs" >20 μm</text>
<rect x="935.8" y="996.7" width="59.0" height="7.3" fill="#fff"/>
<text x="1222.5" y="989.8" font-size="23.2" font-weight="bold" fill="#fff" font-family="'Liberation Sans', Arial, sans-serif" textLength="72.3" lengthAdjust="spacingAndGlyphs" >20 μm</text>
<rect x="1233.0" y="996.7" width="59.0" height="7.3" fill="#fff"/>
<text x="326.4" y="1237.8" font-size="23.8" font-weight="bold" fill="#fff" font-family="'Liberation Sans', Arial, sans-serif" textLength="65.3" lengthAdjust="spacingAndGlyphs" >2 μm</text>
<rect x="327.3" y="1243.7" width="64.4" height="7.6" fill="#fff"/>
<text x="619.7" y="1236.0" font-size="23.8" font-weight="bold" fill="#fff" font-family="'Liberation Sans', Arial, sans-serif" textLength="66.6" lengthAdjust="spacingAndGlyphs" >2 μm</text>
<rect x="625.6" y="1243.7" width="64.4" height="6.7" fill="#fff"/>
<text x="932.2" y="1234.8" font-size="23.8" font-weight="bold" fill="#fff" font-family="'Liberation Sans', Arial, sans-serif" textLength="64.0" lengthAdjust="spacingAndGlyphs" >2 μm</text>
<rect x="934.5" y="1242.6" width="64.0" height="6.9" fill="#fff"/>
<text x="1231.7" y="1234.8" font-size="23.8" font-weight="bold" fill="#fff" font-family="'Liberation Sans', Arial, sans-serif" textLength="64.0" lengthAdjust="spacingAndGlyphs" >2 μm</text>
<rect x="1233.0" y="1241.7" width="63.6" height="7.8" fill="#fff"/>
<text x="139.7" y="1089.5" font-size="29.0" font-weight="normal" fill="#f2eaf2" font-family="'Liberation Sans', Arial, sans-serif" textLength="144.0" lengthAdjust="spacingAndGlyphs" stroke="#f2eaf2" stroke-width="0.9"><tspan font-size="34">(k)</tspan>C Kα1,2</text>
<text x="443.4" y="1089.5" font-size="29.0" font-weight="normal" fill="#f2eaf2" font-family="'Liberation Sans', Arial, sans-serif" textLength="141.6" lengthAdjust="spacingAndGlyphs" stroke="#f2eaf2" stroke-width="0.9"><tspan font-size="34">(l)</tspan> F Kα1,2</text>
<text x="740.0" y="1087.5" font-size="29.0" font-weight="normal" fill="#f2eaf2" font-family="'Liberation Sans', Arial, sans-serif" textLength="160.0" lengthAdjust="spacingAndGlyphs" stroke="#f2eaf2" stroke-width="0.9"><tspan font-size="34">(m)</tspan>N Kα1,2</text>
<text x="1032.8" y="1087.5" font-size="29.0" font-weight="normal" fill="#f2eaf2" font-family="'Liberation Sans', Arial, sans-serif" textLength="119.0" lengthAdjust="spacingAndGlyphs" stroke="#f2eaf2" stroke-width="0.9"><tspan font-size="34">(n)</tspan>S Kα1</text>
<path d="M545,717 L548,695 L554,702 L565,703 Z" fill="#ff1414"/>
<path d="M938,908 L930,893 L946,896 Z" fill="#ff1010"/>
<text x="140.4" y="541.0" font-size="33.5" font-weight="bold" fill="#000" font-family="'Liberation Sans', Arial, sans-serif" textLength="271.0" lengthAdjust="spacingAndGlyphs" >Before deposition</text>
<text x="471.5" y="541.2" font-size="33.5" font-weight="bold" fill="#000" font-family="'Liberation Sans', Arial, sans-serif" textLength="203.5" lengthAdjust="spacingAndGlyphs" >0.5 mAh cm<tspan font-size="20" dy="-12">-2</tspan></text>
<text x="784.2" y="541.2" font-size="33.5" font-weight="bold" fill="#000" font-family="'Liberation Sans', Arial, sans-serif" textLength="171.3" lengthAdjust="spacingAndGlyphs" >1 mAh cm<tspan font-size="20" dy="-12">-2</tspan></text>
<text x="1094.0" y="539.5" font-size="33.5" font-weight="bold" fill="#000" font-family="'Liberation Sans', Arial, sans-serif" textLength="172.7" lengthAdjust="spacingAndGlyphs" >2 mAh cm<tspan font-size="20" dy="-12">-2</tspan></text>
<text x="84.8" y="709.6" font-size="34.0" font-weight="normal" fill="#000" font-family="'Liberation Sans', Arial, sans-serif" textLength="112.2" lengthAdjust="spacingAndGlyphs" transform="rotate(-90.00 84.8 709.6)" stroke="#000" stroke-width="1.1">Surface</text>
<text x="84.8" y="967.4" font-size="34.0" font-weight="normal" fill="#000" font-family="'Liberation Sans', Arial, sans-serif" textLength="112.0" lengthAdjust="spacingAndGlyphs" transform="rotate(-90.00 84.8 967.4)" stroke="#000" stroke-width="1.1">Section</text>
<text x="89.2" y="1194.2" font-size="34.5" font-weight="normal" fill="#000" font-family="'Liberation Sans', Arial, sans-serif" textLength="55.3" lengthAdjust="spacingAndGlyphs" transform="rotate(-90.00 89.2 1194.2)" stroke="#000" stroke-width="1.1">EDS</text>
<line x1="416.3" y1="494" x2="415" y2="1026" stroke="#c0454e" stroke-width="4.2" stroke-dasharray="17.5 13.8" stroke-dashoffset="-9.3"/>
<line x1="716.6" y1="494" x2="718.6" y2="1028" stroke="#c0454e" stroke-width="4.3" stroke-dasharray="18 13.35" stroke-dashoffset="-18.9"/>
<line x1="1020.3" y1="494" x2="1017.4" y2="1025" stroke="#c0454e" stroke-width="4.3" stroke-dasharray="18 13.34" stroke-dashoffset="-10.5"/>
<line x1="41" y1="793.5" x2="1319" y2="793.2" stroke="#dc1820" stroke-width="5" stroke-dasharray="18.6 12.8" stroke-dashoffset="2.8"/>
<line x1="41" y1="1030" x2="1319" y2="1024.5" stroke="#dc1820" stroke-width="4.5" stroke-dasharray="19 12.5" stroke-dashoffset="-2.3"/>
<rect x="123.6" y="1032.7" width="1192" height="231.8" rx="4" fill="none" stroke="#f6b900" stroke-width="5.2"/>
<path d="M125,1033 L226.5,929" stroke="#f6b900" stroke-width="4.6" fill="none"/>
<path d="M272,921 L1317,1031" stroke="#f6b900" stroke-width="4.2" fill="none"/>
<path d="M226,926 L226,901 L252,901 M260,901 L272,901 L272,912 M226,925 L248,925 M254,925 L272,925" stroke="#f6b900" stroke-width="6.5" fill="none"/>
<line x1="116" y1="494" x2="114" y2="1271" stroke="#000" stroke-width="4"/>
<line x1="40" y1="562" x2="1320" y2="562" stroke="#000" stroke-width="4.2"/>
<rect x="38.2" y="491.5" width="1284" height="782.3" rx="4" fill="none" stroke="#000" stroke-width="5.6"/>
</svg>
</body></html>
